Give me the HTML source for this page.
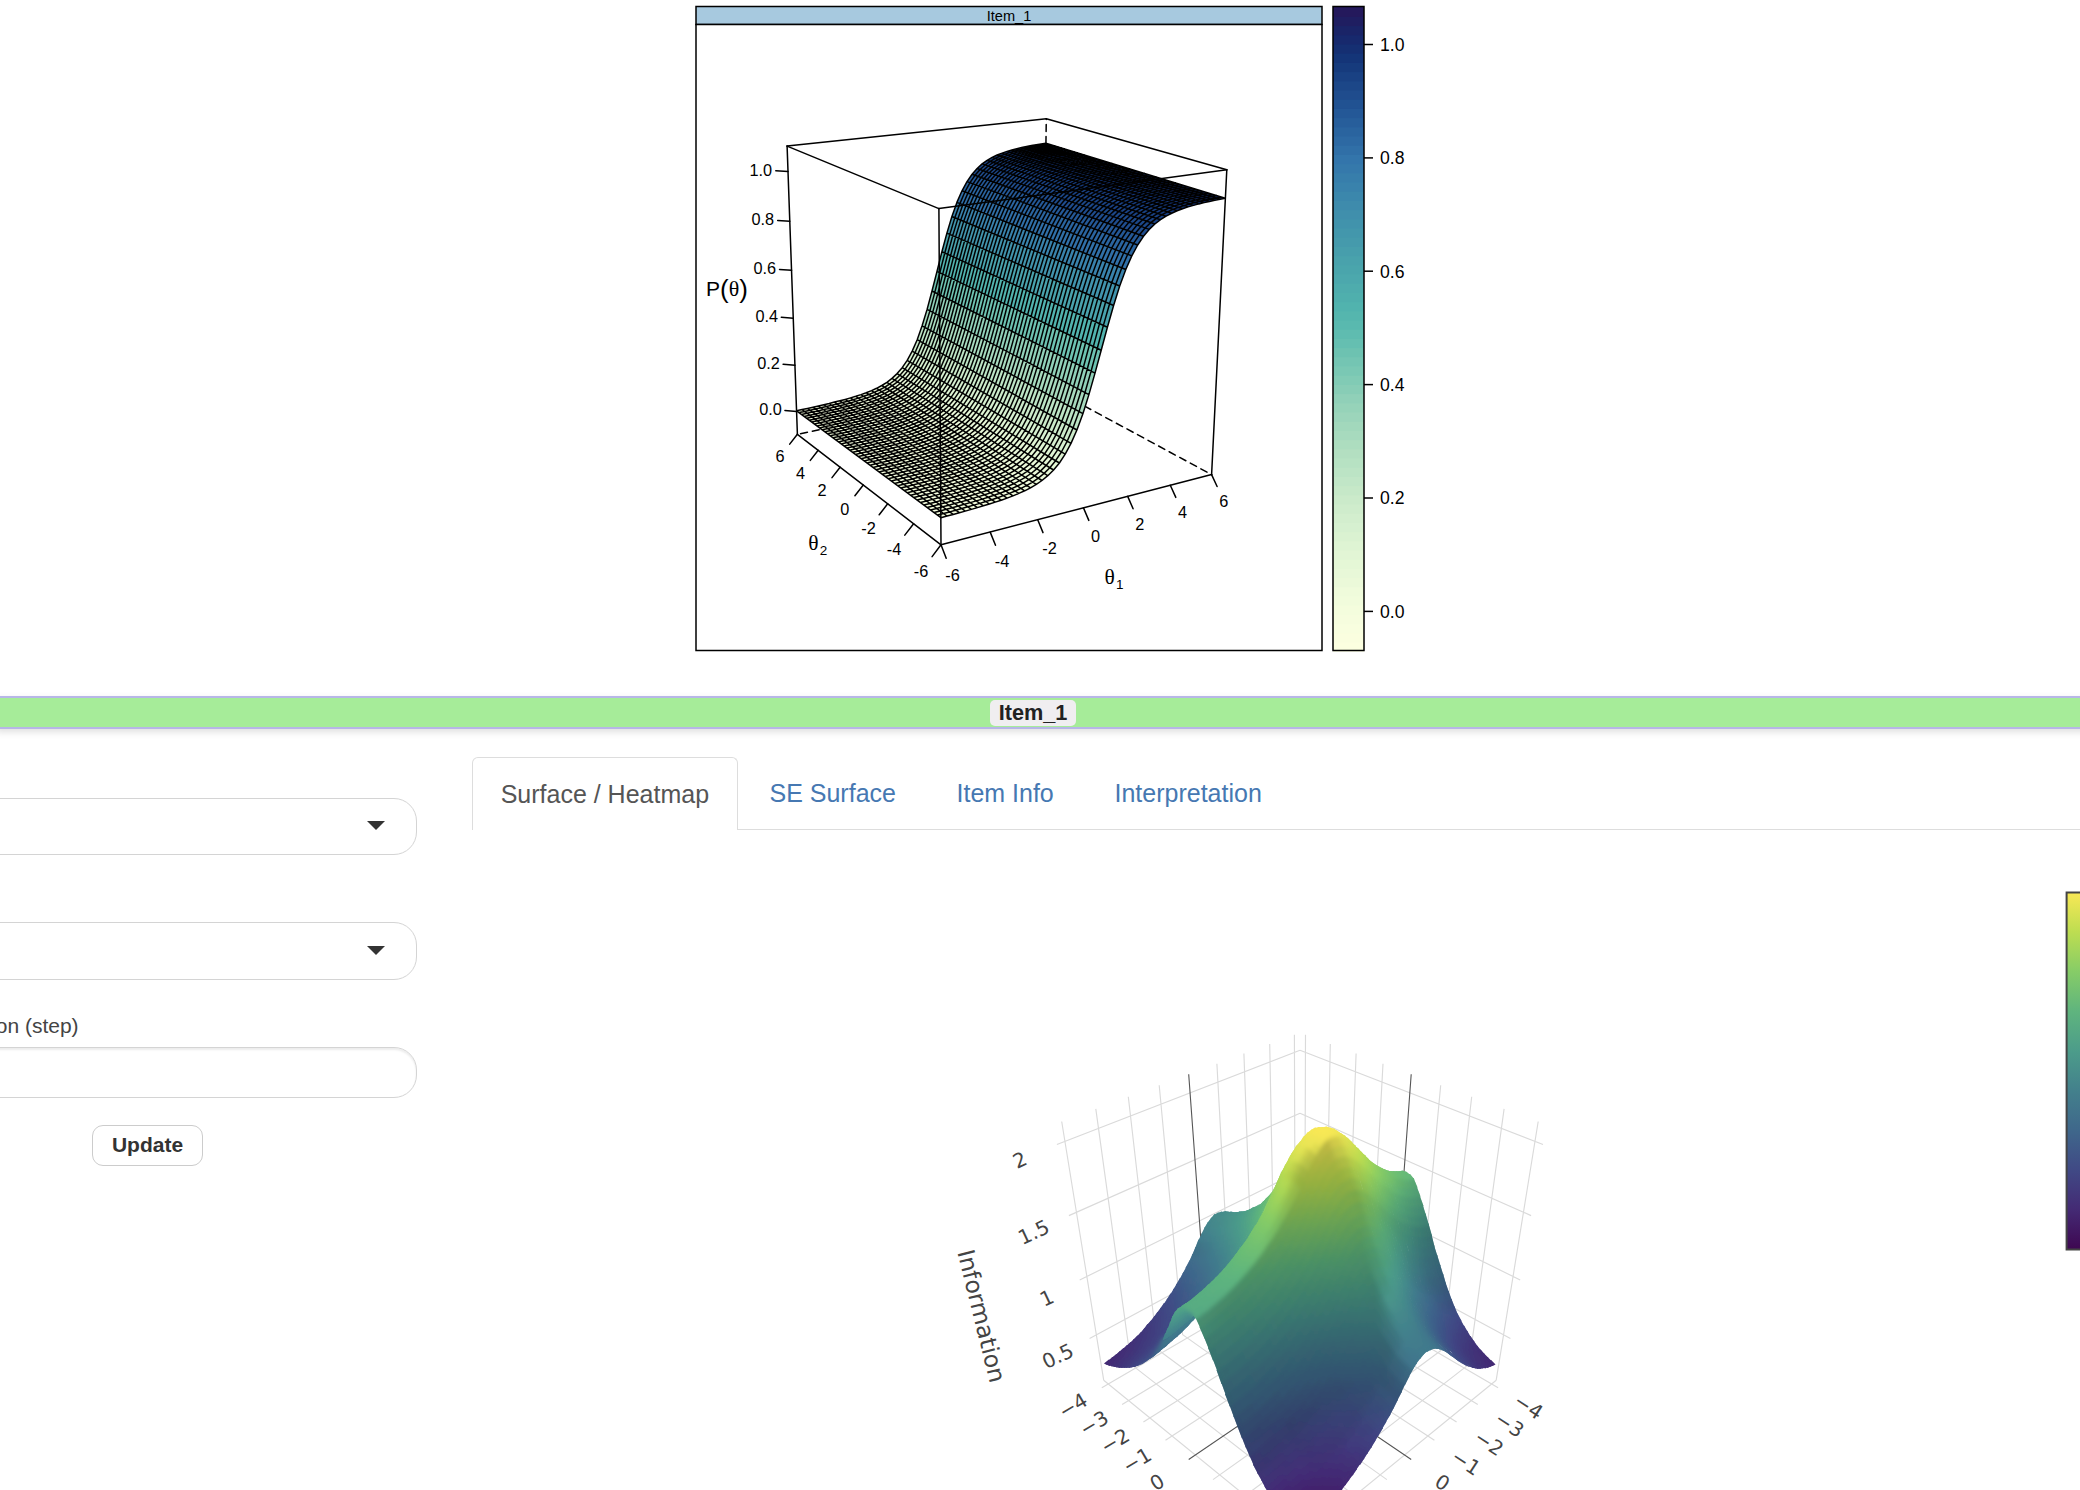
<!DOCTYPE html><html><head><meta charset="utf-8"><title>Item_1</title><style>

html,body{margin:0;padding:0;background:#fff}
body{width:2080px;height:1490px;overflow:hidden;position:relative;font-family:"Liberation Sans",sans-serif;color:#333}
.abs{position:absolute}
#plots{position:absolute;left:0;top:0}
.bar{position:absolute;left:-4px;top:696px;width:2090px;height:29px;background:#a6ec99;border:2px solid #b7b6e7;box-shadow:0 3px 7px rgba(0,0,0,.13)}
.bar span{position:absolute;left:992px;top:2px;width:86px;height:25.7px;line-height:25px;border-radius:5px;background:#f0eef0;font-weight:bold;font-size:21.7px;text-align:center;color:#222}
.sel{position:absolute;left:-40px;width:457.2px;border:1.5px solid #d4d4d4;border-radius:23px;background:#fff;box-sizing:border-box}
.caret{position:absolute;left:367px;width:0;height:0;border-left:9px solid transparent;border-right:9px solid transparent;border-top:9.5px solid #333}
.lbl{position:absolute;font-size:21px;color:#444;white-space:nowrap}
.btn{position:absolute;left:92px;top:1125px;width:111px;height:40.5px;box-sizing:border-box;border:1.5px solid #ccc;border-radius:11px;font-weight:bold;font-size:21px;text-align:center;line-height:38px;color:#333;background:#fff}
.tabline{position:absolute;left:472px;top:828.5px;width:1700px;height:1.5px;background:#ddd}
.tab{position:absolute;top:757px;height:73px;box-sizing:border-box;font-size:25px;line-height:72px;white-space:nowrap}
.tab.act{left:472px;width:265.7px;border:1.5px solid #ddd;border-bottom:none;border-radius:6px 6px 0 0;background:#fff;color:#555;text-align:center}
.tab.lnk{color:#4678b2}

</style></head><body>
<svg id="plots" width="2080" height="1490" viewBox="0 0 2080 1490">
<rect x="696" y="6.5" width="626" height="18" fill="#a7c9df" stroke="#000" stroke-width="1.5"/>
<rect x="696" y="24.5" width="626" height="626" fill="#fff" stroke="#000" stroke-width="1.5"/>
<text x="1009" y="20.8" font-size="14.6" text-anchor="middle" font-family="Liberation Sans, sans-serif" fill="#000">Item_1</text>
<rect x="1333" y="641.30" width="31" height="10.40" fill="#fcffe0"/>
<rect x="1333" y="632.10" width="31" height="10.40" fill="#fafedf"/>
<rect x="1333" y="622.90" width="31" height="10.40" fill="#f8fedf"/>
<rect x="1333" y="613.70" width="31" height="10.40" fill="#f6fdde"/>
<rect x="1333" y="604.50" width="31" height="10.40" fill="#f4fddd"/>
<rect x="1333" y="595.30" width="31" height="10.40" fill="#f1fcdc"/>
<rect x="1333" y="586.10" width="31" height="10.40" fill="#effbdb"/>
<rect x="1333" y="576.90" width="31" height="10.40" fill="#ebf9d9"/>
<rect x="1333" y="567.70" width="31" height="10.40" fill="#e8f8d8"/>
<rect x="1333" y="558.50" width="31" height="10.40" fill="#e5f7d6"/>
<rect x="1333" y="549.30" width="31" height="10.40" fill="#e2f5d5"/>
<rect x="1333" y="540.10" width="31" height="10.40" fill="#def4d3"/>
<rect x="1333" y="530.90" width="31" height="10.40" fill="#daf2d1"/>
<rect x="1333" y="521.70" width="31" height="10.40" fill="#d6f0d0"/>
<rect x="1333" y="512.50" width="31" height="10.40" fill="#d3eece"/>
<rect x="1333" y="503.30" width="31" height="10.40" fill="#cfeccc"/>
<rect x="1333" y="494.10" width="31" height="10.40" fill="#cbeaca"/>
<rect x="1333" y="484.90" width="31" height="10.40" fill="#c6e8c8"/>
<rect x="1333" y="475.70" width="31" height="10.40" fill="#c1e6c7"/>
<rect x="1333" y="466.50" width="31" height="10.40" fill="#bce4c5"/>
<rect x="1333" y="457.30" width="31" height="10.40" fill="#b7e2c3"/>
<rect x="1333" y="448.10" width="31" height="10.40" fill="#b3dfc1"/>
<rect x="1333" y="438.90" width="31" height="10.40" fill="#adddbf"/>
<rect x="1333" y="429.70" width="31" height="10.40" fill="#a7dabe"/>
<rect x="1333" y="420.50" width="31" height="10.40" fill="#a2d8bc"/>
<rect x="1333" y="411.30" width="31" height="10.40" fill="#9cd5bb"/>
<rect x="1333" y="402.10" width="31" height="10.40" fill="#96d3b9"/>
<rect x="1333" y="392.90" width="31" height="10.40" fill="#90d0b8"/>
<rect x="1333" y="383.70" width="31" height="10.40" fill="#88cdb6"/>
<rect x="1333" y="374.50" width="31" height="10.40" fill="#81cbb5"/>
<rect x="1333" y="365.30" width="31" height="10.40" fill="#7ac8b4"/>
<rect x="1333" y="356.10" width="31" height="10.40" fill="#74c5b3"/>
<rect x="1333" y="346.90" width="31" height="10.40" fill="#6dc2b1"/>
<rect x="1333" y="337.70" width="31" height="10.40" fill="#65bfb1"/>
<rect x="1333" y="328.50" width="31" height="10.40" fill="#5fbcb0"/>
<rect x="1333" y="319.30" width="31" height="10.40" fill="#59b9af"/>
<rect x="1333" y="310.10" width="31" height="10.40" fill="#55b6ae"/>
<rect x="1333" y="300.90" width="31" height="10.40" fill="#51b3ae"/>
<rect x="1333" y="291.70" width="31" height="10.40" fill="#4fafad"/>
<rect x="1333" y="282.50" width="31" height="10.40" fill="#4eacad"/>
<rect x="1333" y="273.30" width="31" height="10.40" fill="#4ca8ad"/>
<rect x="1333" y="264.10" width="31" height="10.40" fill="#4aa5ac"/>
<rect x="1333" y="254.90" width="31" height="10.40" fill="#49a2ac"/>
<rect x="1333" y="245.70" width="31" height="10.40" fill="#479eac"/>
<rect x="1333" y="236.50" width="31" height="10.40" fill="#459aac"/>
<rect x="1333" y="227.30" width="31" height="10.40" fill="#4397ac"/>
<rect x="1333" y="218.10" width="31" height="10.40" fill="#4193ac"/>
<rect x="1333" y="208.90" width="31" height="10.40" fill="#408fac"/>
<rect x="1333" y="199.70" width="31" height="10.40" fill="#3e8bac"/>
<rect x="1333" y="190.50" width="31" height="10.40" fill="#3b87ac"/>
<rect x="1333" y="181.30" width="31" height="10.40" fill="#3982ac"/>
<rect x="1333" y="172.10" width="31" height="10.40" fill="#377eab"/>
<rect x="1333" y="162.90" width="31" height="10.40" fill="#3579ab"/>
<rect x="1333" y="153.70" width="31" height="10.40" fill="#3375ab"/>
<rect x="1333" y="144.50" width="31" height="10.40" fill="#306fa7"/>
<rect x="1333" y="135.30" width="31" height="10.40" fill="#2d69a3"/>
<rect x="1333" y="126.10" width="31" height="10.40" fill="#2a649f"/>
<rect x="1333" y="116.90" width="31" height="10.40" fill="#275e9b"/>
<rect x="1333" y="107.70" width="31" height="10.40" fill="#245897"/>
<rect x="1333" y="98.50" width="31" height="10.40" fill="#215292"/>
<rect x="1333" y="89.30" width="31" height="10.40" fill="#1f4c8d"/>
<rect x="1333" y="80.10" width="31" height="10.40" fill="#1c4788"/>
<rect x="1333" y="70.90" width="31" height="10.40" fill="#194183"/>
<rect x="1333" y="61.70" width="31" height="10.40" fill="#163b7d"/>
<rect x="1333" y="52.50" width="31" height="10.40" fill="#143578"/>
<rect x="1333" y="43.30" width="31" height="10.40" fill="#152f72"/>
<rect x="1333" y="34.10" width="31" height="10.40" fill="#17296d"/>
<rect x="1333" y="24.90" width="31" height="10.40" fill="#1a2467"/>
<rect x="1333" y="15.70" width="31" height="10.40" fill="#1f1e61"/>
<rect x="1333" y="6.50" width="31" height="10.40" fill="#24195c"/>
<rect x="1333" y="6.5" width="31" height="644" fill="none" stroke="#000" stroke-width="1.5"/>
<path d="M1364 611.4H1373" stroke="#000" stroke-width="1.5"/>
<text x="1380" y="617.7" font-size="17.6" font-family="Liberation Sans, sans-serif" fill="#000">0.0</text>
<path d="M1364 498.0H1373" stroke="#000" stroke-width="1.5"/>
<text x="1380" y="504.3" font-size="17.6" font-family="Liberation Sans, sans-serif" fill="#000">0.2</text>
<path d="M1364 384.6H1373" stroke="#000" stroke-width="1.5"/>
<text x="1380" y="390.9" font-size="17.6" font-family="Liberation Sans, sans-serif" fill="#000">0.4</text>
<path d="M1364 271.2H1373" stroke="#000" stroke-width="1.5"/>
<text x="1380" y="277.5" font-size="17.6" font-family="Liberation Sans, sans-serif" fill="#000">0.6</text>
<path d="M1364 157.9H1373" stroke="#000" stroke-width="1.5"/>
<text x="1380" y="164.2" font-size="17.6" font-family="Liberation Sans, sans-serif" fill="#000">0.8</text>
<path d="M1364 44.5H1373" stroke="#000" stroke-width="1.5"/>
<text x="1380" y="50.8" font-size="17.6" font-family="Liberation Sans, sans-serif" fill="#000">1.0</text>
<g stroke="#000" stroke-width="1.5" fill="none" stroke-linecap="round">
<path d="M1042.4 383.4L1046.3 118.7" stroke-dasharray="7 5"/>
<path d="M1042.4 383.4L797.4 434.3" stroke-dasharray="7 5"/>
<path d="M1042.4 383.4L1211.6 474.6" stroke-dasharray="7 5"/>
<path d="M1046.3 118.7L787.1 146.1"/>
<path d="M1046.3 118.7L1226.8 169.8"/>
<path d="M797.4 434.3L787.1 146.1"/>
</g>
<g stroke="none">
<path d="M940.9 517.7L947.0 516.0L802.1 409.6L796.6 410.8z" fill="#f4fddd"/>
<path d="M947.0 516.0L953.2 514.4L807.5 408.4L802.1 409.6z" fill="#f4fddd"/>
<path d="M953.2 514.4L959.3 512.7L813.0 407.2L807.5 408.4z" fill="#f4fddd"/>
<path d="M959.3 512.7L965.3 511.1L818.4 406.0L813.0 407.2z" fill="#f4fddd"/>
<path d="M965.3 511.1L971.4 509.4L823.8 404.7L818.4 406.0z" fill="#f4fddd"/>
<path d="M971.4 509.4L977.4 507.6L829.2 403.5L823.8 404.7z" fill="#f4fddd"/>
<path d="M977.4 507.6L983.4 505.8L834.5 402.1L829.2 403.5z" fill="#f4fddd"/>
<path d="M983.4 505.8L989.4 504.0L839.9 400.8L834.5 402.1z" fill="#f4fddd"/>
<path d="M989.4 504.0L995.3 502.1L845.2 399.4L839.9 400.8z" fill="#f4fddd"/>
<path d="M995.3 502.1L1001.2 500.2L850.5 397.9L845.2 399.4z" fill="#f1fcdc"/>
<path d="M1001.2 500.2L1007.1 498.1L855.8 396.3L850.5 397.9z" fill="#f1fcdc"/>
<path d="M1007.1 498.1L1013.0 495.9L861.0 394.6L855.8 396.3z" fill="#f1fcdc"/>
<path d="M1013.0 495.9L1018.8 493.4L866.2 392.7L861.0 394.6z" fill="#f1fcdc"/>
<path d="M1018.8 493.4L1024.7 490.8L871.5 390.6L866.2 392.7z" fill="#f1fcdc"/>
<path d="M1024.7 490.8L1030.5 487.8L876.6 388.3L871.5 390.6z" fill="#effbdb"/>
<path d="M1030.5 487.8L1036.3 484.4L881.8 385.5L876.6 388.3z" fill="#effbdb"/>
<path d="M1036.3 484.4L1042.0 480.5L886.9 382.3L881.8 385.5z" fill="#ebf9d9"/>
<path d="M1042.0 480.5L1047.8 475.7L892.0 378.4L886.9 382.3z" fill="#ebf9d9"/>
<path d="M1047.8 475.7L1053.6 470.0L897.1 373.6L892.0 378.4z" fill="#e8f8d8"/>
<path d="M1053.6 470.0L1059.4 463.0L902.2 367.7L897.1 373.6z" fill="#e5f7d6"/>
<path d="M1059.4 463.0L1065.2 454.2L907.2 360.4L902.2 367.7z" fill="#def4d3"/>
<path d="M1065.2 454.2L1071.0 443.4L912.2 351.1L907.2 360.4z" fill="#d6f0d0"/>
<path d="M1071.0 443.4L1076.9 430.0L917.2 339.7L912.2 351.1z" fill="#cbeaca"/>
<path d="M1076.9 430.0L1082.9 413.7L922.1 325.8L917.2 339.7z" fill="#bce4c5"/>
<path d="M1082.9 413.7L1088.9 394.6L927.1 309.4L922.1 325.8z" fill="#a7dabe"/>
<path d="M1088.9 394.6L1095.0 373.1L932.0 291.0L927.1 309.4z" fill="#90d0b8"/>
<path d="M1095.0 373.1L1101.2 350.2L937.0 271.4L932.0 291.0z" fill="#6dc2b1"/>
<path d="M1101.2 350.2L1107.4 327.2L941.9 251.7L937.0 271.4z" fill="#51b3ae"/>
<path d="M1107.4 327.2L1113.6 305.5L946.9 233.1L941.9 251.7z" fill="#49a2ac"/>
<path d="M1113.6 305.5L1119.7 286.0L951.9 216.5L946.9 233.1z" fill="#4193ac"/>
<path d="M1119.7 286.0L1125.8 269.5L956.9 202.4L951.9 216.5z" fill="#3982ac"/>
<path d="M1125.8 269.5L1131.8 255.9L962.0 190.8L956.9 202.4z" fill="#306fa7"/>
<path d="M1131.8 255.9L1137.7 245.0L967.0 181.6L962.0 190.8z" fill="#2a649f"/>
<path d="M1137.7 245.0L1143.5 236.3L972.1 174.2L967.0 181.6z" fill="#245897"/>
<path d="M1143.5 236.3L1149.2 229.4L977.1 168.5L972.1 174.2z" fill="#1f4c8d"/>
<path d="M1149.2 229.4L1154.9 224.0L982.1 163.9L977.1 168.5z" fill="#1c4788"/>
<path d="M1154.9 224.0L1160.5 219.7L987.1 160.3L982.1 163.9z" fill="#194183"/>
<path d="M1160.5 219.7L1166.1 216.2L992.1 157.4L987.1 160.3z" fill="#194183"/>
<path d="M1166.1 216.2L1171.7 213.3L997.1 155.0L992.1 157.4z" fill="#163b7d"/>
<path d="M1171.7 213.3L1177.2 210.8L1002.1 153.1L997.1 155.0z" fill="#163b7d"/>
<path d="M1177.2 210.8L1182.6 208.7L1007.0 151.4L1002.1 153.1z" fill="#143578"/>
<path d="M1182.6 208.7L1188.1 206.9L1011.9 150.0L1007.0 151.4z" fill="#143578"/>
<path d="M1188.1 206.9L1193.5 205.4L1016.8 148.7L1011.9 150.0z" fill="#143578"/>
<path d="M1193.5 205.4L1198.9 203.9L1021.7 147.6L1016.8 148.7z" fill="#143578"/>
<path d="M1198.9 203.9L1204.2 202.6L1026.6 146.6L1021.7 147.6z" fill="#143578"/>
<path d="M1204.2 202.6L1209.5 201.4L1031.5 145.6L1026.6 146.6z" fill="#152f72"/>
<path d="M1209.5 201.4L1214.8 200.3L1036.3 144.8L1031.5 145.6z" fill="#152f72"/>
<path d="M1214.8 200.3L1220.1 199.2L1041.1 144.0L1036.3 144.8z" fill="#152f72"/>
<path d="M1220.1 199.2L1225.3 198.2L1045.9 143.2L1041.1 144.0z" fill="#152f72"/>
</g>
<path d="M940.9 517.7L796.6 410.8M947.0 516.0L802.1 409.6M953.2 514.4L807.5 408.4M959.3 512.7L813.0 407.2M965.3 511.1L818.4 406.0M971.4 509.4L823.8 404.7M977.4 507.6L829.2 403.5M983.4 505.8L834.5 402.1M989.4 504.0L839.9 400.8M995.3 502.1L845.2 399.4M1001.2 500.2L850.5 397.9M1007.1 498.1L855.8 396.3M1013.0 495.9L861.0 394.6M1018.8 493.4L866.2 392.7M1024.7 490.8L871.5 390.6M1030.5 487.8L876.6 388.3M1036.3 484.4L881.8 385.5M1042.0 480.5L886.9 382.3M1047.8 475.7L892.0 378.4M1053.6 470.0L897.1 373.6M1059.4 463.0L902.2 367.7M1065.2 454.2L907.2 360.4M1071.0 443.4L912.2 351.1M1076.9 430.0L917.2 339.7M1082.9 413.7L922.1 325.8M1088.9 394.6L927.1 309.4M1095.0 373.1L932.0 291.0M1101.2 350.2L937.0 271.4M1107.4 327.2L941.9 251.7M1113.6 305.5L946.9 233.1M1119.7 286.0L951.9 216.5M1125.8 269.5L956.9 202.4M1131.8 255.9L962.0 190.8M1137.7 245.0L967.0 181.6M1143.5 236.3L972.1 174.2M1149.2 229.4L977.1 168.5M1154.9 224.0L982.1 163.9M1160.5 219.7L987.1 160.3M1166.1 216.2L992.1 157.4M1171.7 213.3L997.1 155.0M1177.2 210.8L1002.1 153.1M1182.6 208.7L1007.0 151.4M1188.1 206.9L1011.9 150.0M1193.5 205.4L1016.8 148.7M1198.9 203.9L1021.7 147.6M1204.2 202.6L1026.6 146.6M1209.5 201.4L1031.5 145.6M1214.8 200.3L1036.3 144.8M1220.1 199.2L1041.1 144.0M1225.3 198.2L1045.9 143.2M940.9 517.7L947.0 516.0L953.2 514.4L959.3 512.7L965.3 511.1L971.4 509.4L977.4 507.6L983.4 505.8L989.4 504.0L995.3 502.1L1001.2 500.2L1007.1 498.1L1013.0 495.9L1018.8 493.4L1024.7 490.8L1030.5 487.8L1036.3 484.4L1042.0 480.5L1047.8 475.7L1053.6 470.0L1059.4 463.0L1065.2 454.2L1071.0 443.4L1076.9 430.0L1082.9 413.7L1088.9 394.6L1095.0 373.1L1101.2 350.2L1107.4 327.2L1113.6 305.5L1119.7 286.0L1125.8 269.5L1131.8 255.9L1137.7 245.0L1143.5 236.3L1149.2 229.4L1154.9 224.0L1160.5 219.7L1166.1 216.2L1171.7 213.3L1177.2 210.8L1182.6 208.7L1188.1 206.9L1193.5 205.4L1198.9 203.9L1204.2 202.6L1209.5 201.4L1214.8 200.3L1220.1 199.2L1225.3 198.2M937.4 515.1L943.5 513.5L949.7 511.9L955.7 510.2L961.8 508.5L967.8 506.8L973.8 505.1L979.8 503.4L985.8 501.5L991.7 499.7L997.6 497.7L1003.5 495.6L1009.3 493.4L1015.2 491.0L1021.0 488.4L1026.8 485.4L1032.6 482.1L1038.3 478.1L1044.1 473.4L1049.8 467.7L1055.6 460.7L1061.4 452.0L1067.2 441.2L1073.1 427.8L1079.0 411.6L1085.0 392.5L1091.1 371.1L1097.3 348.3L1103.4 325.4L1109.6 303.7L1115.7 284.4L1121.7 267.9L1127.7 254.3L1133.6 243.4L1139.4 234.8L1145.1 228.0L1150.8 222.6L1156.4 218.3L1162.0 214.7L1167.5 211.9L1173.0 209.4L1178.4 207.4L1183.9 205.6L1189.3 204.0L1194.6 202.6L1200.0 201.3L1205.3 200.1L1210.6 199.0L1215.8 197.9L1221.1 196.9M934.0 512.6L940.1 511.0L946.2 509.3L952.3 507.7L958.3 506.0L964.3 504.3L970.3 502.6L976.3 500.9L982.2 499.1L988.1 497.2L994.0 495.3L999.9 493.2L1005.7 491.0L1011.6 488.6L1017.4 486.0L1023.1 483.1L1028.9 479.7L1034.7 475.8L1040.4 471.1L1046.1 465.4L1051.9 458.4L1057.6 449.8L1063.4 439.0L1069.3 425.7L1075.2 409.5L1081.2 390.5L1087.2 369.2L1093.4 346.4L1099.5 323.6L1105.6 302.0L1111.7 282.7L1117.7 266.3L1123.7 252.8L1129.5 241.9L1135.3 233.3L1141.0 226.5L1146.7 221.1L1152.3 216.8L1157.8 213.4L1163.4 210.5L1168.8 208.1L1174.3 206.0L1179.7 204.2L1185.1 202.7L1190.4 201.2L1195.8 200.0L1201.1 198.8L1206.3 197.7L1211.6 196.6L1216.8 195.6M930.5 510.0L936.6 508.4L942.7 506.8L948.8 505.2L954.8 503.5L960.8 501.9L966.8 500.2L972.8 498.4L978.7 496.6L984.6 494.8L990.5 492.9L996.3 490.8L1002.1 488.6L1008.0 486.3L1013.7 483.7L1019.5 480.7L1025.3 477.4L1031.0 473.5L1036.7 468.8L1042.4 463.2L1048.2 456.2L1053.9 447.6L1059.7 436.8L1065.5 423.5L1071.4 407.4L1077.4 388.5L1083.4 367.2L1089.5 344.6L1095.6 321.8L1101.7 300.3L1107.7 281.1L1113.7 264.7L1119.7 251.2L1125.5 240.4L1131.3 231.9L1137.0 225.1L1142.6 219.7L1148.2 215.4L1153.7 212.0L1159.2 209.1L1164.7 206.7L1170.1 204.7L1175.5 202.9L1180.9 201.3L1186.3 199.9L1191.6 198.6L1196.9 197.5L1202.1 196.4L1207.4 195.3L1212.6 194.3M927.1 507.5L933.2 505.9L939.3 504.3L945.4 502.7L951.4 501.1L957.4 499.4L963.3 497.7L969.3 496.0L975.2 494.2L981.1 492.4L986.9 490.5L992.8 488.4L998.6 486.3L1004.4 483.9L1010.2 481.3L1015.9 478.4L1021.6 475.1L1027.4 471.2L1033.1 466.5L1038.8 460.9L1044.5 454.0L1050.2 445.4L1056.0 434.6L1061.8 421.4L1067.7 405.4L1073.6 386.5L1079.6 365.3L1085.6 342.7L1091.7 320.0L1097.8 298.6L1103.8 279.5L1109.8 263.1L1115.7 249.7L1121.5 239.0L1127.2 230.4L1132.9 223.7L1138.6 218.3L1144.1 214.1L1149.7 210.6L1155.2 207.7L1160.6 205.4L1166.0 203.3L1171.4 201.6L1176.8 200.0L1182.1 198.6L1187.4 197.3L1192.7 196.2L1198.0 195.1L1203.2 194.0L1208.4 193.0M923.8 505.0L929.9 503.4L935.9 501.9L941.9 500.2L947.9 498.6L953.9 497.0L959.9 495.3L965.8 493.6L971.7 491.8L977.6 490.0L983.4 488.1L989.2 486.1L995.1 483.9L1000.8 481.6L1006.6 479.0L1012.3 476.1L1018.1 472.8L1023.8 468.9L1029.5 464.3L1035.2 458.7L1040.9 451.8L1046.6 443.2L1052.3 432.5L1058.1 419.3L1063.9 403.3L1069.8 384.5L1075.8 363.4L1081.8 340.9L1087.9 318.3L1093.9 296.9L1099.9 277.8L1105.9 261.6L1111.7 248.2L1117.5 237.5L1123.3 229.0L1128.9 222.2L1134.5 216.9L1140.1 212.7L1145.6 209.2L1151.1 206.4L1156.5 204.0L1162.0 202.0L1167.3 200.2L1172.7 198.7L1178.0 197.3L1183.3 196.0L1188.6 194.9L1193.8 193.8L1199.0 192.7L1204.2 191.8M920.4 502.6L926.5 501.0L932.5 499.4L938.6 497.8L944.5 496.2L950.5 494.6L956.4 492.9L962.4 491.2L968.2 489.4L974.1 487.6L979.9 485.7L985.8 483.7L991.5 481.6L997.3 479.2L1003.1 476.7L1008.8 473.8L1014.5 470.5L1020.2 466.6L1025.9 462.0L1031.5 456.4L1037.2 449.6L1042.9 441.0L1048.6 430.4L1054.4 417.2L1060.2 401.3L1066.1 382.6L1072.0 361.5L1078.0 339.1L1084.0 316.5L1090.1 295.2L1096.0 276.2L1102.0 260.0L1107.8 246.7L1113.6 236.0L1119.3 227.5L1124.9 220.8L1130.5 215.5L1136.1 211.3L1141.6 207.9L1147.1 205.0L1152.5 202.7L1157.9 200.7L1163.3 198.9L1168.6 197.4L1173.9 196.0L1179.2 194.7L1184.5 193.6L1189.7 192.5L1194.9 191.5L1200.1 190.5M917.1 500.1L923.2 498.5L929.2 497.0L935.2 495.4L941.2 493.8L947.1 492.2L953.0 490.5L958.9 488.8L964.8 487.1L970.7 485.3L976.5 483.4L982.3 481.4L988.1 479.2L993.8 476.9L999.5 474.4L1005.3 471.5L1010.9 468.2L1016.6 464.4L1022.3 459.8L1028.0 454.2L1033.6 447.4L1039.3 438.9L1045.0 428.3L1050.7 415.2L1056.5 399.3L1062.4 380.6L1068.3 359.6L1074.3 337.3L1080.3 314.8L1086.2 293.6L1092.2 274.6L1098.1 258.5L1103.9 245.2L1109.7 234.6L1115.4 226.1L1121.0 219.4L1126.6 214.2L1132.1 209.9L1137.6 206.5L1143.1 203.7L1148.5 201.4L1153.9 199.4L1159.2 197.6L1164.6 196.1L1169.9 194.7L1175.1 193.5L1180.4 192.3L1185.6 191.2L1190.8 190.2L1196.0 189.2M913.8 497.6L919.9 496.1L925.9 494.5L931.9 493.0L937.8 491.4L943.8 489.8L949.7 488.1L955.5 486.4L961.4 484.7L967.2 482.9L973.0 481.0L978.8 479.1L984.6 476.9L990.3 474.6L996.1 472.1L1001.7 469.2L1007.4 466.0L1013.1 462.1L1018.7 457.6L1024.4 452.0L1030.0 445.2L1035.7 436.7L1041.4 426.2L1047.1 413.1L1052.9 397.3L1058.7 378.7L1064.6 357.8L1070.5 335.5L1076.5 313.1L1082.4 291.9L1088.4 273.1L1094.2 257.0L1100.0 243.7L1105.8 233.1L1111.5 224.7L1117.1 218.1L1122.6 212.8L1128.2 208.6L1133.7 205.2L1139.1 202.4L1144.5 200.0L1149.9 198.1L1155.2 196.3L1160.5 194.8L1165.8 193.4L1171.1 192.2L1176.4 191.0L1181.6 190.0L1186.8 189.0L1191.9 188.0M910.6 495.2L916.6 493.7L922.6 492.1L928.5 490.6L934.5 489.0L940.4 487.4L946.3 485.8L952.2 484.1L958.0 482.4L963.8 480.6L969.6 478.7L975.4 476.8L981.2 474.6L986.9 472.4L992.6 469.8L998.3 467.0L1003.9 463.7L1009.6 459.9L1015.2 455.4L1020.9 449.9L1026.5 443.1L1032.1 434.6L1037.8 424.1L1043.5 411.1L1049.2 395.3L1055.1 376.8L1060.9 355.9L1066.8 333.7L1072.7 311.4L1078.7 290.3L1084.6 271.5L1090.4 255.4L1096.2 242.3L1101.9 231.7L1107.6 223.3L1113.2 216.7L1118.7 211.4L1124.3 207.2L1129.7 203.9L1135.2 201.1L1140.5 198.7L1145.9 196.8L1151.3 195.0L1156.6 193.5L1161.8 192.2L1167.1 190.9L1172.3 189.8L1177.5 188.7L1182.7 187.7L1187.9 186.8M907.3 492.8L913.3 491.3L919.3 489.8L925.3 488.2L931.2 486.6L937.1 485.0L943.0 483.4L948.8 481.8L954.7 480.1L960.5 478.3L966.2 476.4L972.0 474.5L977.7 472.4L983.5 470.1L989.1 467.6L994.8 464.7L1000.5 461.5L1006.1 457.7L1011.7 453.2L1017.4 447.7L1023.0 440.9L1028.6 432.5L1034.2 422.0L1039.9 409.1L1045.6 393.3L1051.4 374.9L1057.3 354.1L1063.1 331.9L1069.0 309.7L1074.9 288.7L1080.8 269.9L1086.6 253.9L1092.4 240.8L1098.1 230.3L1103.7 221.9L1109.3 215.3L1114.9 210.1L1120.4 205.9L1125.8 202.5L1131.2 199.8L1136.6 197.4L1142.0 195.5L1147.3 193.8L1152.6 192.2L1157.9 190.9L1163.1 189.7L1168.3 188.5L1173.5 187.5L1178.7 186.5L1183.9 185.5M904.1 490.4L910.1 488.9L916.0 487.4L922.0 485.8L927.9 484.3L933.8 482.7L939.7 481.1L945.5 479.4L951.3 477.8L957.1 476.0L962.9 474.1L968.6 472.2L974.4 470.1L980.1 467.8L985.7 465.3L991.4 462.5L997.0 459.3L1002.7 455.5L1008.3 451.0L1013.9 445.6L1019.5 438.8L1025.1 430.4L1030.7 420.0L1036.4 407.0L1042.1 391.4L1047.8 373.0L1053.6 352.2L1059.5 330.2L1065.3 308.0L1071.2 287.1L1077.1 268.4L1082.9 252.4L1088.6 239.4L1094.3 228.8L1099.9 220.5L1105.5 213.9L1111.0 208.7L1116.5 204.6L1121.9 201.2L1127.3 198.5L1132.7 196.2L1138.1 194.2L1143.4 192.5L1148.7 191.0L1153.9 189.6L1159.2 188.4L1164.4 187.3L1169.6 186.2L1174.7 185.2L1179.9 184.3M900.9 488.1L906.9 486.6L912.8 485.0L918.7 483.5L924.6 482.0L930.5 480.4L936.4 478.8L942.2 477.2L948.0 475.5L953.8 473.7L959.5 471.9L965.3 469.9L971.0 467.9L976.7 465.6L982.3 463.1L988.0 460.3L993.6 457.1L999.2 453.4L1004.8 448.9L1010.4 443.4L1016.0 436.7L1021.6 428.3L1027.2 417.9L1032.8 405.0L1038.5 389.4L1044.2 371.1L1050.0 350.4L1055.8 328.4L1061.7 306.3L1067.5 285.5L1073.3 266.8L1079.1 251.0L1084.8 237.9L1090.5 227.4L1096.1 219.1L1101.7 212.6L1107.2 207.4L1112.7 203.3L1118.1 199.9L1123.5 197.2L1128.8 194.9L1134.2 192.9L1139.5 191.2L1144.8 189.7L1150.0 188.4L1155.2 187.2L1160.4 186.0L1165.6 185.0L1170.8 184.0L1175.9 183.1M897.7 485.7L903.7 484.2L909.6 482.7L915.5 481.2L921.4 479.6L927.3 478.1L933.1 476.5L938.9 474.9L944.7 473.2L950.5 471.5L956.2 469.6L961.9 467.7L967.6 465.6L973.3 463.4L979.0 460.9L984.6 458.1L990.2 454.9L995.8 451.2L1001.4 446.7L1007.0 441.3L1012.5 434.6L1018.1 426.3L1023.7 415.9L1029.3 403.1L1035.0 387.5L1040.7 369.2L1046.4 348.6L1052.2 326.7L1058.0 304.7L1063.9 283.9L1069.7 265.3L1075.4 249.5L1081.1 236.5L1086.8 226.0L1092.3 217.8L1097.9 211.3L1103.4 206.1L1108.8 202.0L1114.3 198.6L1119.6 195.9L1125.0 193.6L1130.3 191.7L1135.6 190.0L1140.9 188.5L1146.1 187.1L1151.3 185.9L1156.5 184.8L1161.7 183.8L1166.8 182.8L1172.0 181.9M894.5 483.4L900.5 481.9L906.4 480.4L912.3 478.9L918.2 477.3L924.1 475.8L929.9 474.2L935.7 472.6L941.5 470.9L947.2 469.2L952.9 467.4L958.6 465.5L964.3 463.4L970.0 461.2L975.6 458.7L981.2 456.0L986.8 452.8L992.4 449.1L998.0 444.6L1003.6 439.2L1009.1 432.5L1014.7 424.2L1020.2 413.9L1025.8 401.1L1031.5 385.6L1037.1 367.3L1042.9 346.8L1048.6 325.0L1054.4 303.0L1060.2 282.3L1066.0 263.8L1071.7 248.0L1077.4 235.1L1083.0 224.7L1088.6 216.4L1094.1 209.9L1099.6 204.8L1105.1 200.7L1110.5 197.4L1115.8 194.6L1121.2 192.3L1126.5 190.4L1131.8 188.7L1137.0 187.2L1142.3 185.9L1147.5 184.7L1152.6 183.6L1157.8 182.6L1162.9 181.6L1168.1 180.7M891.4 481.0L897.3 479.6L903.3 478.1L909.1 476.6L915.0 475.1L920.8 473.5L926.7 472.0L932.4 470.4L938.2 468.7L944.0 467.0L949.7 465.2L955.4 463.3L961.0 461.2L966.7 459.0L972.3 456.6L977.9 453.8L983.5 450.6L989.1 446.9L994.6 442.5L1000.2 437.1L1005.7 430.5L1011.2 422.2L1016.8 411.9L1022.4 399.1L1028.0 383.7L1033.6 365.5L1039.3 345.1L1045.1 323.3L1050.8 301.4L1056.6 280.7L1062.3 262.3L1068.1 246.6L1073.7 233.6L1079.3 223.3L1084.9 215.1L1090.4 208.6L1095.9 203.5L1101.3 199.4L1106.7 196.1L1112.0 193.4L1117.4 191.1L1122.7 189.2L1127.9 187.5L1133.2 186.0L1138.4 184.7L1143.6 183.5L1148.8 182.4L1153.9 181.4L1159.1 180.4L1164.2 179.5M888.3 478.7L894.2 477.3L900.1 475.8L906.0 474.3L911.8 472.8L917.7 471.3L923.5 469.7L929.2 468.1L935.0 466.5L940.7 464.8L946.4 463.0L952.1 461.1L957.8 459.1L963.4 456.8L969.0 454.4L974.6 451.7L980.2 448.5L985.7 444.8L991.3 440.4L996.8 435.0L1002.3 428.4L1007.8 420.2L1013.4 409.9L1018.9 397.2L1024.5 381.8L1030.2 363.7L1035.8 343.3L1041.5 321.6L1047.3 299.8L1053.0 279.2L1058.7 260.8L1064.4 245.1L1070.1 232.2L1075.7 221.9L1081.2 213.7L1086.7 207.3L1092.1 202.2L1097.6 198.1L1102.9 194.8L1108.3 192.1L1113.6 189.9L1118.9 187.9L1124.2 186.3L1129.4 184.8L1134.6 183.5L1139.8 182.3L1145.0 181.2L1150.1 180.2L1155.2 179.2L1160.3 178.3M885.2 476.4L891.1 475.0L897.0 473.5L902.9 472.0L908.7 470.6L914.5 469.0L920.3 467.5L926.1 465.9L931.8 464.3L937.5 462.6L943.2 460.8L948.9 458.9L954.5 456.9L960.1 454.7L965.7 452.3L971.3 449.5L976.9 446.4L982.4 442.7L987.9 438.3L993.4 433.0L999.0 426.4L1004.5 418.2L1010.0 407.9L1015.5 395.3L1021.1 379.9L1026.7 361.8L1032.3 341.5L1038.0 319.9L1043.7 298.1L1049.4 277.6L1055.1 259.3L1060.8 243.7L1066.4 230.9L1072.0 220.6L1077.5 212.4L1083.0 206.0L1088.4 200.9L1093.8 196.8L1099.2 193.6L1104.6 190.9L1109.9 188.6L1115.1 186.7L1120.4 185.0L1125.6 183.6L1130.8 182.3L1136.0 181.1L1141.1 180.0L1146.3 179.0L1151.4 178.0L1156.5 177.1M882.1 474.2L888.0 472.7L893.9 471.3L899.8 469.8L905.6 468.3L911.4 466.8L917.1 465.3L922.9 463.7L928.6 462.1L934.3 460.4L940.0 458.6L945.6 456.7L951.3 454.7L956.9 452.5L962.5 450.1L968.0 447.4L973.6 444.3L979.1 440.6L984.6 436.3L990.1 430.9L995.6 424.4L1001.1 416.2L1006.6 406.0L1012.1 393.3L1017.7 378.0L1023.3 360.0L1028.9 339.8L1034.5 318.2L1040.2 296.5L1045.9 276.1L1051.6 257.8L1057.2 242.3L1062.8 229.5L1068.4 219.2L1073.9 211.1L1079.3 204.7L1084.8 199.6L1090.2 195.6L1095.5 192.3L1100.8 189.6L1106.1 187.4L1111.4 185.5L1116.6 183.8L1121.9 182.4L1127.1 181.1L1132.2 179.9L1137.4 178.8L1142.5 177.8L1147.6 176.9L1152.7 176.0M879.1 471.9L885.0 470.5L890.8 469.0L896.7 467.6L902.5 466.1L908.3 464.6L914.0 463.1L919.7 461.5L925.5 459.9L931.1 458.2L936.8 456.5L942.4 454.6L948.1 452.6L953.7 450.4L959.2 448.0L964.8 445.3L970.3 442.2L975.8 438.6L981.3 434.2L986.8 428.9L992.3 422.3L997.8 414.2L1003.3 404.0L1008.8 391.4L1014.3 376.2L1019.8 358.2L1025.4 338.1L1031.1 316.5L1036.7 294.9L1042.4 274.6L1048.0 256.3L1053.7 240.8L1059.2 228.1L1064.8 217.9L1070.3 209.8L1075.7 203.4L1081.1 198.4L1086.5 194.3L1091.8 191.1L1097.2 188.4L1102.4 186.2L1107.7 184.3L1112.9 182.6L1118.1 181.2L1123.3 179.9L1128.5 178.7L1133.6 177.6L1138.7 176.6L1143.8 175.7L1148.9 174.8M876.1 469.7L881.9 468.2L887.8 466.8L893.6 465.4L899.4 463.9L905.2 462.4L910.9 460.9L916.6 459.3L922.3 457.7L928.0 456.1L933.6 454.3L939.3 452.5L944.9 450.5L950.5 448.3L956.0 445.9L961.6 443.2L967.1 440.1L972.6 436.5L978.1 432.2L983.5 426.9L989.0 420.3L994.5 412.2L999.9 402.1L1005.4 389.5L1010.9 374.3L1016.4 356.5L1022.0 336.3L1027.6 314.9L1033.3 293.4L1038.9 273.0L1044.5 254.9L1050.1 239.4L1055.7 226.7L1061.2 216.5L1066.7 208.5L1072.1 202.1L1077.5 197.1L1082.9 193.1L1088.2 189.8L1093.5 187.2L1098.8 185.0L1104.0 183.1L1109.2 181.4L1114.4 180.0L1119.6 178.7L1124.8 177.5L1129.9 176.5L1135.0 175.5L1140.1 174.5L1145.1 173.6M873.1 467.4L878.9 466.0L884.7 464.6L890.6 463.2L896.3 461.7L902.1 460.2L907.8 458.7L913.5 457.2L919.2 455.6L924.9 453.9L930.5 452.2L936.1 450.3L941.7 448.4L947.3 446.2L952.8 443.8L958.4 441.2L963.9 438.1L969.4 434.5L974.8 430.1L980.3 424.9L985.7 418.4L991.2 410.3L996.6 400.2L1002.1 387.7L1007.6 372.5L1013.1 354.7L1018.6 334.6L1024.2 313.2L1029.8 291.8L1035.4 271.5L1041.0 253.4L1046.6 238.0L1052.1 225.4L1057.6 215.2L1063.1 207.2L1068.5 200.9L1073.9 195.8L1079.3 191.8L1084.6 188.6L1089.9 186.0L1095.1 183.8L1100.4 181.9L1105.6 180.3L1110.8 178.8L1115.9 177.5L1121.1 176.4L1126.2 175.3L1131.3 174.3L1136.3 173.4L1141.4 172.5M870.1 465.2L875.9 463.8L881.7 462.4L887.5 461.0L893.3 459.5L899.0 458.1L904.8 456.6L910.4 455.0L916.1 453.4L921.8 451.8L927.4 450.1L933.0 448.2L938.6 446.3L944.1 444.1L949.7 441.8L955.2 439.1L960.7 436.0L966.1 432.4L971.6 428.1L977.0 422.9L982.5 416.4L987.9 408.3L993.3 398.3L998.8 385.8L1004.2 370.7L1009.7 352.9L1015.3 332.9L1020.8 311.6L1026.4 290.2L1032.0 270.0L1037.6 252.0L1043.1 236.6L1048.6 224.0L1054.1 213.9L1059.6 205.9L1065.0 199.6L1070.3 194.6L1075.7 190.6L1081.0 187.4L1086.3 184.8L1091.5 182.6L1096.7 180.7L1101.9 179.1L1107.1 177.7L1112.3 176.4L1117.4 175.2L1122.5 174.2L1127.6 173.2L1132.6 172.2L1137.7 171.4M867.1 463.0L872.9 461.6L878.7 460.2L884.5 458.8L890.3 457.4L896.0 455.9L901.7 454.4L907.4 452.9L913.0 451.3L918.7 449.7L924.3 448.0L929.9 446.1L935.5 444.2L941.0 442.1L946.5 439.7L952.0 437.1L957.5 434.0L963.0 430.4L968.4 426.1L973.8 420.9L979.3 414.4L984.7 406.4L990.1 396.4L995.5 383.9L1000.9 368.9L1006.4 351.2L1011.9 331.2L1017.4 310.0L1023.0 288.7L1028.6 268.5L1034.1 250.6L1039.6 235.3L1045.1 222.7L1050.6 212.6L1056.0 204.6L1061.4 198.3L1066.8 193.4L1072.1 189.4L1077.4 186.2L1082.7 183.6L1087.9 181.4L1093.1 179.5L1098.3 177.9L1103.5 176.5L1108.6 175.2L1113.7 174.1L1118.8 173.0L1123.9 172.0L1129.0 171.1L1134.0 170.2M864.2 460.9L870.0 459.5L875.8 458.1L881.5 456.7L887.3 455.2L893.0 453.8L898.7 452.3L904.4 450.8L910.0 449.2L915.6 447.6L921.2 445.9L926.8 444.1L932.3 442.1L937.9 440.0L943.4 437.7L948.9 435.0L954.3 432.0L959.8 428.4L965.2 424.1L970.6 418.9L976.0 412.5L981.4 404.5L986.8 394.5L992.2 382.1L997.7 367.1L1003.1 349.4L1008.6 329.6L1014.1 308.4L1019.6 287.1L1025.2 267.1L1030.7 249.2L1036.2 233.9L1041.7 221.4L1047.1 211.3L1052.5 203.4L1057.9 197.1L1063.3 192.1L1068.6 188.2L1073.9 185.0L1079.1 182.4L1084.3 180.2L1089.5 178.3L1094.7 176.7L1099.9 175.3L1105.0 174.1L1110.1 172.9L1115.2 171.9L1120.3 170.9L1125.3 170.0L1130.3 169.1M861.2 458.7L867.0 457.3L872.8 455.9L878.6 454.5L884.3 453.1L890.0 451.7L895.7 450.2L901.3 448.7L907.0 447.1L912.6 445.5L918.2 443.8L923.7 442.0L929.3 440.1L934.8 438.0L940.3 435.6L945.8 433.0L951.2 430.0L956.6 426.4L962.1 422.2L967.5 417.0L972.9 410.6L978.2 402.6L983.6 392.6L989.0 380.3L994.4 365.3L999.8 347.7L1005.3 327.9L1010.8 306.8L1016.3 285.6L1021.8 265.6L1027.3 247.7L1032.8 232.5L1038.2 220.1L1043.7 210.0L1049.1 202.1L1054.4 195.9L1059.8 190.9L1065.1 187.0L1070.3 183.8L1075.6 181.2L1080.8 179.0L1086.0 177.2L1091.1 175.6L1096.3 174.2L1101.4 172.9L1106.5 171.8L1111.6 170.7L1116.6 169.8L1121.7 168.9L1126.7 168.0M858.3 456.5L864.1 455.2L869.9 453.8L875.6 452.4L881.3 451.0L887.0 449.5L892.7 448.1L898.3 446.6L904.0 445.0L909.6 443.4L915.1 441.7L920.7 440.0L926.2 438.0L931.7 435.9L937.2 433.6L942.7 431.0L948.1 428.0L953.5 424.4L958.9 420.2L964.3 415.0L969.7 408.6L975.1 400.7L980.4 390.8L985.8 378.5L991.2 363.5L996.6 346.0L1002.0 326.2L1007.4 305.2L1012.9 284.1L1018.4 264.1L1023.9 246.3L1029.4 231.2L1034.8 218.7L1040.2 208.8L1045.6 200.9L1051.0 194.6L1056.3 189.7L1061.6 185.8L1066.8 182.6L1072.1 180.0L1077.3 177.9L1082.4 176.0L1087.6 174.4L1092.7 173.0L1097.8 171.8L1102.9 170.7L1108.0 169.6L1113.0 168.7L1118.1 167.7L1123.1 166.9M855.5 454.4L861.2 453.0L867.0 451.7L872.7 450.3L878.4 448.9L884.1 447.5L889.7 446.0L895.4 444.5L901.0 443.0L906.6 441.4L912.1 439.7L917.7 437.9L923.2 436.0L928.7 433.9L934.1 431.6L939.6 429.0L945.0 426.0L950.4 422.5L955.8 418.3L961.2 413.1L966.5 406.7L971.9 398.8L977.2 388.9L982.6 376.7L987.9 361.8L993.3 344.3L998.7 324.6L1004.2 303.6L1009.6 282.6L1015.1 262.7L1020.5 245.0L1026.0 229.8L1031.4 217.4L1036.8 207.5L1042.2 199.6L1047.5 193.4L1052.8 188.5L1058.1 184.6L1063.3 181.4L1068.6 178.9L1073.8 176.7L1078.9 174.9L1084.1 173.3L1089.2 171.9L1094.3 170.7L1099.4 169.5L1104.4 168.5L1109.5 167.5L1114.5 166.6L1119.5 165.8M852.6 452.3L858.4 450.9L864.1 449.6L869.8 448.2L875.5 446.8L881.1 445.4L886.8 443.9L892.4 442.5L898.0 440.9L903.6 439.3L909.1 437.7L914.6 435.9L920.1 434.0L925.6 431.9L931.1 429.6L936.5 427.0L941.9 424.0L947.3 420.5L952.7 416.3L958.1 411.2L963.4 404.8L968.8 396.9L974.1 387.1L979.4 374.9L984.7 360.0L990.1 342.6L995.5 323.0L1000.9 302.1L1006.3 281.1L1011.8 261.3L1017.2 243.6L1022.6 228.5L1028.0 216.1L1033.4 206.2L1038.8 198.4L1044.1 192.2L1049.4 187.3L1054.6 183.4L1059.9 180.3L1065.1 177.7L1070.3 175.6L1075.4 173.7L1080.6 172.2L1085.7 170.8L1090.8 169.5L1095.8 168.4L1100.9 167.4L1105.9 166.4L1110.9 165.5L1115.9 164.7M849.7 450.2L855.5 448.8L861.2 447.5L866.9 446.1L872.6 444.7L878.2 443.3L883.9 441.9L889.5 440.4L895.0 438.9L900.6 437.3L906.1 435.6L911.7 433.9L917.1 432.0L922.6 429.9L928.1 427.6L933.5 425.1L938.9 422.1L944.3 418.6L949.6 414.4L955.0 409.3L960.3 403.0L965.6 395.1L970.9 385.2L976.3 373.1L981.6 358.3L986.9 340.9L992.3 321.4L997.7 300.5L1003.1 279.6L1008.5 259.8L1013.9 242.2L1019.3 227.2L1024.7 214.9L1030.1 205.0L1035.4 197.2L1040.7 191.0L1046.0 186.1L1051.2 182.3L1056.4 179.1L1061.6 176.6L1066.8 174.4L1072.0 172.6L1077.1 171.0L1082.2 169.7L1087.3 168.4L1092.3 167.3L1097.4 166.3L1102.4 165.3L1107.4 164.4L1112.4 163.6M846.9 448.1L852.7 446.7L858.4 445.4L864.0 444.0L869.7 442.7L875.3 441.3L881.0 439.8L886.5 438.4L892.1 436.9L897.7 435.3L903.2 433.6L908.7 431.9L914.2 430.0L919.6 428.0L925.1 425.7L930.5 423.1L935.9 420.1L941.2 416.7L946.6 412.5L951.9 407.4L957.2 401.1L962.5 393.2L967.8 383.4L973.1 371.3L978.4 356.6L983.7 339.2L989.1 319.7L994.4 299.0L999.8 278.1L1005.2 258.4L1010.6 240.8L1016.0 225.9L1021.4 213.6L1026.7 203.7L1032.0 195.9L1037.3 189.8L1042.6 185.0L1047.8 181.1L1053.0 178.0L1058.2 175.4L1063.4 173.3L1068.5 171.5L1073.6 169.9L1078.7 168.5L1083.8 167.3L1088.8 166.2L1093.9 165.2L1098.9 164.3L1103.9 163.4L1108.8 162.5M844.1 446.0L849.8 444.7L855.5 443.3L861.2 442.0L866.8 440.6L872.5 439.2L878.1 437.8L883.7 436.4L889.2 434.8L894.7 433.3L900.3 431.6L905.7 429.9L911.2 428.0L916.6 426.0L922.1 423.7L927.5 421.2L932.8 418.2L938.2 414.7L943.5 410.6L948.9 405.5L954.2 399.2L959.5 391.4L964.7 381.6L970.0 369.5L975.3 354.9L980.6 337.6L985.9 318.1L991.2 297.4L996.6 276.6L1002.0 257.0L1007.3 239.5L1012.7 224.6L1018.1 212.3L1023.4 202.5L1028.7 194.7L1034.0 188.6L1039.2 183.8L1044.4 179.9L1049.6 176.8L1054.8 174.3L1060.0 172.2L1065.1 170.4L1070.2 168.8L1075.3 167.4L1080.3 166.2L1085.4 165.1L1090.4 164.1L1095.4 163.2L1100.4 162.3L1105.3 161.4M841.3 443.9L847.0 442.6L852.7 441.3L858.4 439.9L864.0 438.6L869.6 437.2L875.2 435.8L880.8 434.3L886.3 432.9L891.8 431.3L897.3 429.7L902.8 427.9L908.3 426.1L913.7 424.0L919.1 421.8L924.5 419.2L929.9 416.3L935.2 412.8L940.5 408.7L945.8 403.6L951.1 397.4L956.4 389.6L961.7 379.9L966.9 367.8L972.2 353.1L977.4 335.9L982.7 316.6L988.0 295.9L993.4 275.2L998.7 255.6L1004.1 238.1L1009.4 223.3L1014.8 211.1L1020.1 201.3L1025.4 193.5L1030.6 187.4L1035.9 182.6L1041.1 178.8L1046.3 175.7L1051.4 173.2L1056.6 171.0L1061.7 169.2L1066.8 167.7L1071.9 166.3L1076.9 165.1L1081.9 164.0L1086.9 163.0L1091.9 162.1L1096.9 161.2L1101.9 160.4M838.6 441.9L844.2 440.6L849.9 439.2L855.6 437.9L861.2 436.6L866.8 435.2L872.4 433.8L877.9 432.4L883.4 430.9L888.9 429.3L894.4 427.7L899.9 426.0L905.3 424.1L910.8 422.1L916.2 419.9L921.5 417.3L926.9 414.4L932.2 411.0L937.5 406.8L942.8 401.8L948.1 395.6L953.3 387.8L958.6 378.1L963.8 366.1L969.1 351.5L974.3 334.3L979.6 315.0L984.9 294.4L990.2 273.7L995.5 254.2L1000.9 236.8L1006.2 222.0L1011.5 209.8L1016.8 200.1L1022.1 192.3L1027.3 186.3L1032.5 181.5L1037.7 177.6L1042.9 174.6L1048.1 172.0L1053.2 169.9L1058.3 168.1L1063.4 166.6L1068.5 165.3L1073.5 164.0L1078.5 163.0L1083.5 162.0L1088.5 161.0L1093.5 160.1L1098.4 159.3M835.8 439.8L841.5 438.5L847.1 437.2L852.8 435.9L858.4 434.6L864.0 433.2L869.5 431.8L875.1 430.4L880.6 428.9L886.1 427.4L891.6 425.7L897.0 424.0L902.4 422.2L907.8 420.2L913.2 417.9L918.6 415.4L923.9 412.5L929.3 409.1L934.5 405.0L939.8 399.9L945.1 393.7L950.3 386.0L955.6 376.3L960.8 364.3L966.0 349.8L971.2 332.7L976.5 313.4L981.7 292.9L987.0 272.3L992.3 252.8L997.6 235.5L1003.0 220.7L1008.3 208.6L1013.5 198.8L1018.8 191.2L1024.0 185.1L1029.2 180.3L1034.4 176.5L1039.6 173.4L1044.7 170.9L1049.9 168.8L1054.9 167.0L1060.0 165.5L1065.1 164.2L1070.1 163.0L1075.1 161.9L1080.1 160.9L1085.1 160.0L1090.0 159.1L1095.0 158.3M833.1 437.8L838.7 436.5L844.4 435.2L850.0 433.9L855.6 432.6L861.2 431.2L866.7 429.8L872.2 428.4L877.7 426.9L883.2 425.4L888.7 423.8L894.1 422.1L899.6 420.3L904.9 418.3L910.3 416.0L915.7 413.5L921.0 410.6L926.3 407.2L931.6 403.1L936.9 398.1L942.1 391.9L947.3 384.2L952.5 374.6L957.7 362.6L962.9 348.1L968.2 331.0L973.4 311.8L978.6 291.4L983.9 270.8L989.2 251.4L994.5 234.1L999.8 219.4L1005.0 207.3L1010.3 197.6L1015.5 190.0L1020.8 183.9L1026.0 179.2L1031.1 175.4L1036.3 172.3L1041.4 169.8L1046.5 167.7L1051.6 166.0L1056.7 164.4L1061.7 163.1L1066.7 161.9L1071.7 160.8L1076.7 159.8L1081.7 158.9L1086.6 158.0L1091.6 157.2M830.3 435.8L836.0 434.5L841.6 433.2L847.2 431.9L852.8 430.6L858.4 429.2L863.9 427.9L869.4 426.4L874.9 425.0L880.4 423.5L885.9 421.9L891.3 420.2L896.7 418.4L902.1 416.4L907.4 414.2L912.8 411.6L918.1 408.8L923.4 405.4L928.6 401.3L933.9 396.3L939.1 390.1L944.3 382.4L949.5 372.8L954.7 360.9L959.9 346.4L965.1 329.4L970.3 310.3L975.5 289.9L980.8 269.4L986.0 250.1L991.3 232.8L996.6 218.2L1001.8 206.1L1007.1 196.4L1012.3 188.8L1017.5 182.8L1022.7 178.0L1027.9 174.3L1033.0 171.2L1038.1 168.7L1043.2 166.6L1048.3 164.9L1053.3 163.4L1058.4 162.0L1063.4 160.8L1068.4 159.8L1073.4 158.8L1078.3 157.9L1083.2 157.0L1088.2 156.2M827.7 433.8L833.3 432.5L838.9 431.2L844.5 429.9L850.1 428.6L855.6 427.3L861.1 425.9L866.6 424.5L872.1 423.1L877.6 421.5L883.0 420.0L888.4 418.3L893.8 416.5L899.2 414.5L904.6 412.3L909.9 409.8L915.2 406.9L920.5 403.5L925.7 399.5L931.0 394.5L936.2 388.3L941.4 380.7L946.6 371.1L951.7 359.2L956.9 344.8L962.1 327.8L967.2 308.8L972.4 288.4L977.7 268.0L982.9 248.7L988.2 231.5L993.4 216.9L998.6 204.9L1003.9 195.3L1009.1 187.6L1014.3 181.6L1019.5 176.9L1024.6 173.1L1029.7 170.1L1034.8 167.6L1039.9 165.6L1045.0 163.8L1050.0 162.3L1055.1 161.0L1060.1 159.8L1065.1 158.7L1070.0 157.7L1075.0 156.8L1079.9 156.0L1084.8 155.1M825.0 431.8L830.6 430.5L836.2 429.3L841.8 428.0L847.3 426.7L852.9 425.3L858.4 424.0L863.9 422.6L869.3 421.1L874.8 419.6L880.2 418.1L885.6 416.4L891.0 414.6L896.4 412.6L901.7 410.4L907.0 407.9L912.3 405.1L917.6 401.7L922.8 397.6L928.0 392.7L933.2 386.6L938.4 378.9L943.6 369.4L948.8 357.5L953.9 343.2L959.1 326.2L964.2 307.2L969.4 286.9L974.6 266.6L979.8 247.4L985.0 230.2L990.3 215.6L995.5 203.7L1000.7 194.1L1005.9 186.5L1011.1 180.5L1016.2 175.8L1021.4 172.0L1026.5 169.0L1031.6 166.5L1036.7 164.5L1041.7 162.7L1046.8 161.2L1051.8 159.9L1056.8 158.7L1061.7 157.7L1066.7 156.7L1071.6 155.8L1076.5 154.9L1081.4 154.1M822.3 429.8L827.9 428.6L833.5 427.3L839.1 426.0L844.6 424.7L850.1 423.4L855.6 422.0L861.1 420.7L866.6 419.2L872.0 417.7L877.4 416.2L882.8 414.5L888.2 412.7L893.5 410.7L898.9 408.6L904.2 406.1L909.4 403.2L914.7 399.9L919.9 395.8L925.1 390.9L930.3 384.8L935.5 377.2L940.7 367.7L945.8 355.9L950.9 341.5L956.1 324.7L961.2 305.7L966.3 285.5L971.5 265.2L976.7 246.0L981.9 228.9L987.1 214.4L992.3 202.5L997.5 192.9L1002.7 185.3L1007.9 179.4L1013.0 174.7L1018.2 170.9L1023.3 167.9L1028.4 165.5L1033.4 163.4L1038.5 161.7L1043.5 160.2L1048.5 158.9L1053.5 157.7L1058.4 156.6L1063.4 155.6L1068.3 154.7L1073.2 153.9L1078.1 153.1M819.7 427.9L825.3 426.6L830.8 425.4L836.4 424.1L841.9 422.8L847.4 421.5L852.9 420.1L858.4 418.8L863.8 417.3L869.3 415.8L874.7 414.3L880.0 412.6L885.4 410.8L890.7 408.9L896.0 406.7L901.3 404.2L906.6 401.4L911.8 398.1L917.1 394.0L922.3 389.1L927.4 383.0L932.6 375.5L937.7 366.0L942.9 354.2L948.0 339.9L953.1 323.1L958.2 304.2L963.3 284.0L968.5 263.8L973.6 244.7L978.8 227.7L984.0 213.2L989.2 201.3L994.4 191.7L999.6 184.2L1004.7 178.3L1009.9 173.6L1015.0 169.8L1020.1 166.8L1025.1 164.4L1030.2 162.3L1035.2 160.6L1040.2 159.1L1045.2 157.8L1050.2 156.6L1055.2 155.6L1060.1 154.6L1065.0 153.7L1069.9 152.9L1074.8 152.1M817.0 425.9L822.6 424.7L828.2 423.4L833.7 422.2L839.2 420.9L844.7 419.6L850.2 418.2L855.7 416.9L861.1 415.4L866.5 414.0L871.9 412.4L877.3 410.8L882.6 409.0L887.9 407.0L893.2 404.9L898.5 402.4L903.8 399.6L909.0 396.3L914.2 392.3L919.4 387.4L924.6 381.3L929.7 373.7L934.8 364.3L939.9 352.5L945.0 338.3L950.1 321.5L955.2 302.7L960.3 282.6L965.4 262.4L970.6 243.4L975.8 226.4L980.9 211.9L986.1 200.1L991.3 190.6L996.4 183.1L1001.6 177.1L1006.7 172.5L1011.8 168.8L1016.9 165.8L1022.0 163.3L1027.0 161.3L1032.0 159.6L1037.0 158.1L1042.0 156.8L1047.0 155.6L1051.9 154.6L1056.8 153.6L1061.8 152.7L1066.6 151.9L1071.5 151.1M814.4 424.0L820.0 422.8L825.5 421.5L831.1 420.2L836.6 419.0L842.1 417.7L847.5 416.3L853.0 415.0L858.4 413.6L863.8 412.1L869.2 410.6L874.5 408.9L879.9 407.1L885.2 405.2L890.5 403.1L895.7 400.6L901.0 397.8L906.2 394.5L911.4 390.5L916.6 385.6L921.7 379.6L926.8 372.0L931.9 362.6L937.0 350.9L942.1 336.7L947.2 320.0L952.2 301.2L957.3 281.2L962.4 261.0L967.6 242.1L972.7 225.1L977.9 210.7L983.0 198.9L988.2 189.4L993.3 181.9L998.5 176.0L1003.6 171.4L1008.7 167.7L1013.7 164.7L1018.8 162.3L1023.8 160.2L1028.8 158.5L1033.8 157.0L1038.8 155.7L1043.8 154.6L1048.7 153.5L1053.6 152.6L1058.5 151.7L1063.4 150.9L1068.2 150.1M811.8 422.1L817.4 420.8L822.9 419.6L828.4 418.3L833.9 417.1L839.4 415.8L844.9 414.5L850.3 413.1L855.7 411.7L861.1 410.2L866.5 408.7L871.8 407.1L877.1 405.3L882.4 403.4L887.7 401.2L892.9 398.8L898.2 396.0L903.4 392.7L908.6 388.7L913.7 383.9L918.9 377.9L924.0 370.3L929.1 360.9L934.1 349.3L939.2 335.1L944.2 318.5L949.3 299.7L954.4 279.7L959.5 259.7L964.6 240.8L969.7 223.9L974.8 209.5L980.0 197.7L985.1 188.3L990.2 180.8L995.3 174.9L1000.4 170.3L1005.5 166.6L1010.6 163.6L1015.6 161.2L1020.7 159.2L1025.7 157.5L1030.6 156.0L1035.6 154.7L1040.5 153.6L1045.5 152.5L1050.4 151.6L1055.3 150.7L1060.1 149.9L1065.0 149.1M809.2 420.2L814.8 418.9L820.3 417.7L825.8 416.5L831.3 415.2L836.8 413.9L842.2 412.6L847.6 411.3L853.0 409.9L858.4 408.4L863.8 406.9L869.1 405.3L874.4 403.5L879.7 401.6L884.9 399.5L890.2 397.0L895.4 394.2L900.6 390.9L905.8 387.0L910.9 382.1L916.0 376.1L921.1 368.6L926.2 359.3L931.3 347.6L936.3 333.5L941.3 316.9L946.4 298.2L951.4 278.3L956.5 258.3L961.6 239.5L966.7 222.6L971.8 208.3L976.9 196.6L982.0 187.1L987.2 179.7L992.3 173.8L997.3 169.2L1002.4 165.5L1007.5 162.6L1012.5 160.2L1017.5 158.2L1022.5 156.4L1027.5 155.0L1032.4 153.7L1037.4 152.6L1042.3 151.5L1047.2 150.6L1052.1 149.7L1056.9 148.9L1061.8 148.1M806.7 418.3L812.2 417.0L817.7 415.8L823.2 414.6L828.7 413.3L834.1 412.1L839.6 410.7L845.0 409.4L850.4 408.0L855.7 406.6L861.1 405.1L866.4 403.4L871.7 401.7L877.0 399.8L882.2 397.7L887.4 395.3L892.6 392.5L897.8 389.2L903.0 385.3L908.1 380.4L913.2 374.4L918.3 367.0L923.4 357.6L928.4 346.0L933.4 332.0L938.5 315.4L943.5 296.8L948.5 276.9L953.5 257.0L958.6 238.2L963.7 221.4L968.8 207.1L973.9 195.4L979.0 186.0L984.1 178.6L989.2 172.8L994.3 168.1L999.3 164.5L1004.4 161.5L1009.4 159.1L1014.4 157.1L1019.4 155.4L1024.3 154.0L1029.3 152.7L1034.2 151.5L1039.1 150.5L1044.0 149.6L1048.9 148.7L1053.7 147.9L1058.5 147.1M804.1 416.4L809.7 415.2L815.2 413.9L820.6 412.7L826.1 411.5L831.5 410.2L837.0 408.9L842.3 407.6L847.7 406.2L853.1 404.8L858.4 403.2L863.7 401.6L869.0 399.9L874.3 398.0L879.5 395.9L884.7 393.5L889.9 390.7L895.1 387.5L900.2 383.5L905.4 378.7L910.4 372.8L915.5 365.3L920.6 356.0L925.6 344.4L930.6 330.4L935.6 313.9L940.6 295.3L945.6 275.5L950.6 255.6L955.6 236.9L960.7 220.2L965.8 205.9L970.9 194.2L976.0 184.9L981.1 177.5L986.1 171.7L991.2 167.1L996.2 163.4L1001.3 160.5L1006.3 158.1L1011.3 156.1L1016.2 154.4L1021.2 153.0L1026.1 151.7L1031.1 150.5L1036.0 149.5L1040.8 148.6L1045.7 147.7L1050.5 146.9L1055.4 146.1M801.6 414.5L807.1 413.3L812.6 412.1L818.1 410.9L823.5 409.6L828.9 408.4L834.3 407.1L839.7 405.8L845.1 404.4L850.4 403.0L855.7 401.4L861.0 399.8L866.3 398.1L871.6 396.2L876.8 394.1L882.0 391.7L887.2 389.0L892.3 385.7L897.5 381.8L902.6 377.0L907.7 371.1L912.7 363.6L917.8 354.4L922.8 342.8L927.8 328.9L932.7 312.4L937.7 293.9L942.7 274.1L947.7 254.3L952.7 235.6L957.8 218.9L962.8 204.7L967.9 193.1L973.0 183.8L978.0 176.4L983.1 170.6L988.2 166.0L993.2 162.4L998.2 159.5L1003.2 157.1L1008.2 155.1L1013.2 153.4L1018.1 151.9L1023.0 150.7L1027.9 149.6L1032.8 148.5L1037.7 147.6L1042.5 146.7L1047.4 145.9L1052.2 145.2M799.1 412.6L804.6 411.4L810.1 410.2L815.5 409.0L821.0 407.8L826.4 406.5L831.8 405.3L837.1 403.9L842.5 402.6L847.8 401.2L853.1 399.7L858.4 398.1L863.7 396.3L868.9 394.5L874.1 392.4L879.3 390.0L884.5 387.3L889.6 384.0L894.8 380.1L899.9 375.3L904.9 369.4L910.0 362.0L915.0 352.7L920.0 341.3L924.9 327.3L929.9 310.9L934.8 292.4L939.8 272.7L944.8 253.0L949.8 234.4L954.8 217.7L959.9 203.6L964.9 192.0L970.0 182.7L975.0 175.3L980.1 169.5L985.1 165.0L990.2 161.4L995.2 158.4L1000.2 156.0L1005.1 154.1L1010.1 152.4L1015.0 151.0L1019.9 149.7L1024.8 148.6L1029.7 147.5L1034.6 146.6L1039.4 145.8L1044.2 145.0L1049.0 144.2M796.6 410.8L802.1 409.6L807.5 408.4L813.0 407.2L818.4 406.0L823.8 404.7L829.2 403.5L834.5 402.1L839.9 400.8L845.2 399.4L850.5 397.9L855.8 396.3L861.0 394.6L866.2 392.7L871.5 390.6L876.6 388.3L881.8 385.5L886.9 382.3L892.0 378.4L897.1 373.6L902.2 367.7L907.2 360.4L912.2 351.1L917.2 339.7L922.1 325.8L927.1 309.4L932.0 291.0L937.0 271.4L941.9 251.7L946.9 233.1L951.9 216.5L956.9 202.4L962.0 190.8L967.0 181.6L972.1 174.2L977.1 168.5L982.1 163.9L987.1 160.3L992.1 157.4L997.1 155.0L1002.1 153.1L1007.0 151.4L1011.9 150.0L1016.8 148.7L1021.7 147.6L1026.6 146.6L1031.5 145.6L1036.3 144.8L1041.1 144.0L1045.9 143.2" fill="none" stroke="#000" stroke-width="1.5" stroke-linejoin="round"/>
<g stroke="#000" stroke-width="1.5" fill="none" stroke-linecap="round">
<path d="M941.0 544.8L938.9 208.6"/>
<path d="M938.9 208.6L1226.8 169.8"/>
<path d="M938.9 208.6L787.1 146.1"/>
<path d="M1211.6 474.6L1226.8 169.8"/>
<path d="M941.0 544.8L1211.6 474.6"/>
<path d="M941.0 544.8L797.4 434.3"/>
<path d="M941.0 544.8L946.2 558.2"/>
<path d="M941.0 544.8L932.1 556.6"/>
<path d="M990.2 532.1L995.5 545.2"/>
<path d="M913.6 523.7L904.8 535.1"/>
<path d="M1037.7 519.8L1043.0 532.6"/>
<path d="M887.7 503.8L879.2 514.8"/>
<path d="M1083.5 507.9L1088.8 520.4"/>
<path d="M863.3 485.0L854.9 495.7"/>
<path d="M1127.7 496.4L1133.1 508.7"/>
<path d="M840.1 467.2L832.0 477.6"/>
<path d="M1170.3 485.3L1175.8 497.4"/>
<path d="M818.2 450.3L810.3 460.4"/>
<path d="M1211.6 474.6L1217.1 486.5"/>
<path d="M797.4 434.3L789.7 444.1"/>
<path d="M796.6 411.5L784.9 410.4"/>
<path d="M795.0 365.3L783.1 364.3"/>
<path d="M793.3 318.2L781.3 317.3"/>
<path d="M791.6 270.2L779.5 269.4"/>
<path d="M789.8 221.3L777.7 220.5"/>
<path d="M788.0 171.5L775.8 170.7"/>
</g>
<g font-size="16.3" text-anchor="middle" font-family="Liberation Sans, sans-serif" fill="#000">
<text x="952.6" y="580.7">-6</text>
<text x="921.0" y="577.0">-6</text>
<text x="1002.0" y="567.2">-4</text>
<text x="894.0" y="555.0">-4</text>
<text x="1049.6" y="554.3">-2</text>
<text x="868.6" y="534.3">-2</text>
<text x="1095.5" y="541.8">0</text>
<text x="844.7" y="514.7">0</text>
<text x="1139.8" y="529.8">2</text>
<text x="822.0" y="496.2">2</text>
<text x="1182.6" y="518.2">4</text>
<text x="800.5" y="478.7">4</text>
<text x="1223.9" y="506.9">6</text>
<text x="780.1" y="462.1">6</text>
<text x="770.5" y="414.8">0.0</text>
<text x="768.6" y="368.8">0.2</text>
<text x="766.7" y="321.9">0.4</text>
<text x="764.7" y="274.1">0.6</text>
<text x="762.7" y="225.4">0.8</text>
<text x="760.7" y="175.7">1.0</text>
</g>
<text x="1104.4" y="584.0" font-size="21.5" font-family="Liberation Serif, serif" fill="#000">θ</text><text x="1116.0" y="588.6" font-size="13.5" font-family="Liberation Sans, sans-serif" fill="#000">1</text>
<text x="808.2" y="550.3" font-size="21.5" font-family="Liberation Serif, serif" fill="#000">θ</text><text x="819.8" y="554.9" font-size="13.5" font-family="Liberation Sans, sans-serif" fill="#000">2</text>
<text x="727.0" y="296.4" font-size="21" text-anchor="middle" font-family="Liberation Sans, sans-serif" fill="#000">P<tspan font-size="26" dy="1.5">(</tspan><tspan dy="-1.5" font-size="22" font-family="Liberation Serif, serif">θ</tspan><tspan font-size="26" dy="1.5">)</tspan></text>
<path d="M1295.2 1269.6L1294.4 1034.8M1304.7 1269.6L1305.5 1034.8M1295.2 1269.6L1498.1 1387.7M1304.7 1269.6L1101.8 1387.7M1274.3 1281.6L1269.7 1044.0M1325.6 1281.6L1330.3 1044.0M1274.3 1281.6L1477.8 1404.5M1325.6 1281.6L1122.1 1404.5M1252.7 1294.1L1243.9 1053.6M1347.3 1294.1L1356.1 1053.6M1252.7 1294.1L1456.6 1422.0M1347.3 1294.1L1143.4 1422.0M1230.2 1307.1L1216.9 1063.7M1369.7 1307.1L1383.0 1063.7M1230.2 1307.1L1434.4 1440.3M1369.7 1307.1L1165.5 1440.3M1182.6 1334.6L1159.2 1085.2M1417.4 1334.6L1440.7 1085.2M1182.6 1334.6L1386.9 1479.6M1417.4 1334.6L1213.0 1479.6M1157.3 1349.2L1128.3 1096.7M1442.6 1349.2L1471.7 1096.7M1157.3 1349.2L1361.5 1500.6M1442.6 1349.2L1238.5 1500.6M1131.1 1364.4L1095.8 1108.8M1468.9 1364.4L1504.1 1108.8M1131.1 1364.4L1334.7 1522.7M1468.9 1364.4L1265.2 1522.7M1103.7 1380.2L1061.7 1121.5M1496.2 1380.2L1538.2 1121.5M1103.7 1380.2L1306.7 1545.8M1496.2 1380.2L1293.3 1545.8M1300.0 1224.9L1089.6 1338.6M1300.0 1224.9L1510.4 1338.6M1300.0 1171.2L1079.7 1280.0M1300.0 1171.2L1520.2 1280.0M1300.0 1113.2L1068.9 1215.6M1300.0 1113.2L1531.1 1215.6M1300.0 1050.2L1056.9 1144.5M1300.0 1050.2L1543.0 1144.5" stroke="#dadada" stroke-width="1.15" fill="none"/>
<path d="M1206.8 1320.6L1188.7 1074.2M1393.1 1320.6L1411.2 1074.2M1206.8 1320.6L1411.2 1459.5M1393.1 1320.6L1188.7 1459.5" stroke="#555" stroke-width="1.1" fill="none"/>
<defs><filter id="bl" filterUnits="userSpaceOnUse" x="1060" y="1090" width="480" height="410"><feGaussianBlur stdDeviation="2.2"/></filter>
<filter id="wh" filterUnits="userSpaceOnUse" x="1060" y="1090" width="480" height="410"><feColorMatrix type="matrix" values="0 0 0 0 1 0 0 0 0 1 0 0 0 0 1 0 0 0 1 0"/></filter>
<mask id="sm1" maskUnits="userSpaceOnUse" x="1060" y="1090" width="480" height="410"><use href="#surf1" filter="url(#wh)"/></mask>
<mask id="sm2" maskUnits="userSpaceOnUse" x="1060" y="1090" width="480" height="410"><use href="#surf2" filter="url(#wh)"/></mask>
</defs>
<g id="surf1">
<path d="M1229 1212.5l-5-0.5l2.5 0l5.5 1z" fill="#45888b"/>
<path d="M1225.5 1211l-5 1.5l3.5 1l4.5-1.5z" fill="#468a8b"/>
<path d="M1221.5 1211.5l-4.5 2l3.5 1.5l4.5-2z" fill="#468a8b"/>
<path d="M1228 1211.5l-5 1.5l3.5 1l5-1.5z" fill="#468b8b"/>
<path d="M1180 1278l-4 7l3.5 1l4-7z" fill="#3f5b88"/>
<path d="M1183.5 1272l-4 7.5l3.5 1l3.5-7.5z" fill="#3f5f89"/>
<path d="M1177 1283.5l-4 6.5l3.5 1l4-6.5z" fill="#3f5687"/>
<path d="M1186.5 1266.5l-4 7.5l3.5 1l4-7.5z" fill="#3f648a"/>
<path d="M1174 1288.5l-4 6.5l3 1.5l4.5-7z" fill="#3f5287"/>
<path d="M1189.5 1260.5l-4 7.5l3.5 1l4-8z" fill="#3f688b"/>
<path d="M1170.5 1293.5l-4 6.5l3.5 1l4-6.5z" fill="#3f4f86"/>
<path d="M1218 1212.5l-4.5 3l3.5 1l5-3z" fill="#468b8b"/>
<path d="M1192.5 1254l-3.5 8l3 1l4-8.5z" fill="#406d8b"/>
<path d="M1167.5 1298.5l-4 6l3 1.5l4.5-6.5z" fill="#404b85"/>
<path d="M1164 1303l-4 6l3.5 1.5l4-6z" fill="#404884"/>
<path d="M1224.5 1212l-4.5 2l3.5 1l4.5-2z" fill="#468c8b"/>
<path d="M1195.5 1247l-3.5 8.5l3.5 1l3.5-9z" fill="#3e6d86"/>
<path d="M1231 1211.5l-5 1.5l3.5 1l5-1.5z" fill="#478d8b"/>
<path d="M1161 1307.5l-4.5 6l3.5 1l4.5-5.5z" fill="#404583"/>
<path d="M1214.5 1214l-4 5l3.5 1l4.5-5z" fill="#468a8b"/>
<path d="M1198.5 1239.5l-3.5 9l3.5 0.5l3.5-8.5z" fill="#3f7387"/>
<path d="M1157.5 1312l-4 5.5l3.5 1.5l4-6z" fill="#404281"/>
<path d="M1183 1278.5l-4 7l3.5 1l4-7.5z" fill="#3f5c89"/>
<path d="M1186 1273l-4 7l3.5 1l4-7.5z" fill="#3f6089"/>
<path d="M1179.5 1284l-4 7l3.5 0.5l4-7z" fill="#3f5888"/>
<path d="M1189 1267l-4 7.5l3.5 0.5l4-7.5z" fill="#3f658a"/>
<path d="M1176.5 1289l-4 7l3.5 1l4-7z" fill="#3f5487"/>
<path d="M1202 1233l-4 8.5l3.5 0.5l3.5-8z" fill="#427c8c"/>
<path d="M1192.5 1261l-4 7.5l3.5 1l3.5-8z" fill="#3f6a8b"/>
<path d="M1211.5 1217.5l-4.5 6l4 1l4-6z" fill="#45878b"/>
<path d="M1173.5 1294.5l-4.5 6.5l3.5 0.5l4.5-6.5z" fill="#3f5086"/>
<path d="M1154.5 1316l-4.5 6l3.5 1l4.5-5.5z" fill="#413f7f"/>
<path d="M1221 1213l-4.5 3l3.5 1l4.5-3z" fill="#468c8b"/>
<path d="M1205 1227l-4 8l3.5 0.5l4-8z" fill="#43808c"/>
<path d="M1195.5 1254.5l-4 8l3.5 0.5l4-8z" fill="#406e8b"/>
<path d="M1170 1299l-4 6.5l3.5 1l4-6.5z" fill="#404d86"/>
<path d="M1208 1222l-4 6.5l3.5 1l4-6.5z" fill="#44858c"/>
<path d="M1167 1304l-4.5 6l3.5 1l4.5-6z" fill="#404a85"/>
<path d="M1227.5 1212l-5 2.5l3.5 0.5l5-2z" fill="#478d8b"/>
<path d="M1151 1320.5l-4.5 5l3.5 1.5l4.5-5.5z" fill="#413c7e"/>
<path d="M1198.5 1247l-4 9l3.5 0.5l4-8.5z" fill="#3e6f87"/>
<path d="M1163.5 1308.5l-4 6l3 1l4.5-6z" fill="#404684"/>
<path d="M1217.5 1214.5l-4.5 5l4 1l4-5z" fill="#468b8b"/>
<path d="M1147.5 1324l-4 5.5l3 1.5l4.5-5.5z" fill="#413a7d"/>
<path d="M1201.5 1240l-4 9l3.5 0.5l4-9z" fill="#3f7588"/>
<path d="M1160.5 1312.5l-4.5 6l3.5 1l4-5.5z" fill="#404382"/>
<path d="M1185.5 1279l-4 7l3.5 0.5l4-7z" fill="#3f5e89"/>
<path d="M1189 1273l-4 7.5l3 0.5l4-7z" fill="#3f628a"/>
<path d="M1182.5 1284.5l-4 7l3.5 0.5l4-7z" fill="#3f5a88"/>
<path d="M1192 1267.5l-4 7.5l3.5 0.5l4-7.5z" fill="#3f678b"/>
<path d="M1179.5 1289.5l-4.5 7l3.5 0.5l4-6.5z" fill="#3f5687"/>
<path d="M1204.5 1233.5l-4 8.5l3.5 0.5l4-8.5z" fill="#427d8c"/>
<path d="M1214 1218l-4 6l3.5 0.5l4.5-6z" fill="#45898b"/>
<path d="M1195 1261l-4 8l3.5 0.5l4-7.5z" fill="#3f6b8b"/>
<path d="M1176 1295l-4 6.5l3.5 0.5l4-6.5z" fill="#3f5287"/>
<path d="M1144.5 1328l-4.5 5.5l3 1l4.5-5z" fill="#41377b"/>
<path d="M1157 1317l-4.5 5.5l3.5 1l4.5-5.5z" fill="#414180"/>
<path d="M1207.5 1227.5l-3.5 8l3.5 0.5l3.5-8z" fill="#43828c"/>
<path d="M1211 1222.5l-4 6.5l3.5 0.5l4-6.5z" fill="#44868c"/>
<path d="M1224 1213l-4.5 3l3.5 1l4.5-3z" fill="#478e8b"/>
<path d="M1198 1254.5l-3.5 8.5l3 0.5l4-8.5z" fill="#406f8b"/>
<path d="M1173 1299.5l-4.5 6.5l3.5 1l4-6.5z" fill="#3f4f86"/>
<path d="M1169.5 1304.5l-4 6l3 1l4.5-6.5z" fill="#404b85"/>
<path d="M1153.5 1321l-4 5.5l3 1l4.5-5.5z" fill="#413e7f"/>
<path d="M1201 1247.5l-3.5 9l3.5 0.5l3.5-9z" fill="#3f7288"/>
<path d="M1141 1332l-4.5 5l3.5 1.5l4.5-5z" fill="#42357a"/>
<path d="M1166.5 1309l-4.5 6l3.5 1l4-6z" fill="#404885"/>
<path d="M1150.5 1325l-4.5 5.5l3 1l4.5-5.5z" fill="#413b7e"/>
<path d="M1220.5 1215l-4.5 4.5l3.5 1l4.5-5z" fill="#478d8b"/>
<path d="M1204.5 1240.5l-4 9l3.5 0.5l3.5-9z" fill="#407789"/>
<path d="M1163 1313.5l-4.5 5.5l3.5 1l4.5-6z" fill="#404583"/>
<path d="M1137.5 1335.5l-4.5 4.5l3.5 1.5l4.5-4.5z" fill="#423479"/>
<path d="M1188.5 1279l-4 7.5l3 0.5l4.5-7.5z" fill="#3f6089"/>
<path d="M1191.5 1273.5l-4 7.5l3.5 0.5l4-7.5z" fill="#3f648a"/>
<path d="M1185 1284.5l-4 7l3.5 1l4-7z" fill="#3f5c88"/>
<path d="M1194.5 1267.5l-4 7.5l3.5 0.5l4-7.5z" fill="#3f688b"/>
<path d="M1182 1290l-4 7l3.5 0.5l4-7z" fill="#3f5888"/>
<path d="M1207.5 1234l-4 8l3.5 0.5l4-8z" fill="#427f8c"/>
<path d="M1217 1218.5l-4 6l3.5 0.5l4-6z" fill="#468b8b"/>
<path d="M1147 1329l-4.5 5l3.5 1.5l4.5-5.5z" fill="#41397c"/>
<path d="M1198 1261.5l-4 8l3.5 0.5l4-8z" fill="#406d8b"/>
<path d="M1179 1295l-4.5 6.5l3.5 1l4-6.5z" fill="#3f5487"/>
<path d="M1159.5 1317.5l-4 5.5l3 1l4.5-5.5z" fill="#404281"/>
<path d="M1210.5 1227.5l-4 8l3.5 0.5l4-8z" fill="#44838c"/>
<path d="M1214 1222.5l-4.5 7l4 0.5l4-7z" fill="#45888b"/>
<path d="M1227 1213l-5 3l4 1l4.5-3z" fill="#48908b"/>
<path d="M1201 1255l-4 8l3.5 0.5l4-8z" fill="#40718b"/>
<path d="M1175.5 1300l-4 6.5l3 0.5l4.5-6z" fill="#3f5086"/>
<path d="M1134 1339l-4.5 4.5l3 1.5l5-4.5z" fill="#423278"/>
<path d="M1156.5 1321.5l-4.5 5.5l3.5 1l4-5.5z" fill="#414080"/>
<path d="M1172.5 1305l-4.5 6l3.5 0.5l4-6z" fill="#404d86"/>
<path d="M1143.5 1332.5l-4.5 5.5l3.5 1l4.5-5z" fill="#41377b"/>
<path d="M1204 1248l-3.5 8.5l3 0.5l4-9z" fill="#407489"/>
<path d="M1233.5 1212l-5 2.5l3.5 0l5-2z" fill="#48918b"/>
<path d="M1169 1309.5l-4.5 6l3.5 0.5l4.5-6z" fill="#404a85"/>
<path d="M1240 1211.5l-5 1.5l3 0l5-1.5z" fill="#48928a"/>
<path d="M1153 1325.5l-4.5 5.5l3.5 1l4.5-5.5z" fill="#413d7f"/>
<path d="M1223.5 1215l-4.5 5l3.5 0.5l4.5-5z" fill="#478f8b"/>
<path d="M1207 1240.5l-3.5 9l3 0.5l4-9z" fill="#41798a"/>
<path d="M1130.5 1342l-4.5 4.5l3 1.5l5-4.5z" fill="#423178"/>
<path d="M1140 1336.5l-4.5 4.5l3.5 1.5l4.5-5z" fill="#42357a"/>
<path d="M1165.5 1314l-4 5.5l3 1l4.5-6z" fill="#404784"/>
<path d="M1191 1279.5l-4 7l3.5 0.5l4-7z" fill="#3f628a"/>
<path d="M1194.5 1273.5l-4 7.5l3 0.5l4-7.5z" fill="#3f668b"/>
<path d="M1188 1285l-4 7l3 0.5l4.5-7z" fill="#3f5e89"/>
<path d="M1197.5 1268l-4 7.5l3.5 0.5l4-8z" fill="#3f6a8b"/>
<path d="M1210 1234l-3.5 8.5l3.5 0l3.5-8z" fill="#43808c"/>
<path d="M1184.5 1290.5l-4 6.5l3.5 0.5l4-6.5z" fill="#3f5a88"/>
<path d="M1220 1218.5l-4 6l3.5 0l4-6z" fill="#468c8b"/>
<path d="M1149.5 1329.5l-4.5 5.5l3.5 1l4.5-5.5z" fill="#413b7d"/>
<path d="M1200.5 1261.5l-4 8l3.5 0.5l4-8z" fill="#406e8b"/>
<path d="M1162.5 1318l-4.5 5.5l3.5 1l4-5.5z" fill="#404482"/>
<path d="M1181.5 1295.5l-4 6.5l3 0.5l4.5-6.5z" fill="#3f5687"/>
<path d="M1213.5 1228l-4 8l3.5 0l4-8z" fill="#44858c"/>
<path d="M1216.5 1223l-4 6.5l3.5 0.5l4-7z" fill="#45898b"/>
<path d="M1230 1213l-5 3l3.5 0.5l5-3z" fill="#48928b"/>
<path d="M1203.5 1255l-3.5 8.5l3.5 0l3.5-8z" fill="#40738b"/>
<path d="M1178 1300.5l-4 6l3.5 1l4-6.5z" fill="#3f5387"/>
<path d="M1136.5 1339.5l-4.5 4.5l3.5 1.5l4.5-4.5z" fill="#423479"/>
<path d="M1127 1345l-4.5 4.5l3 1.5l5-4.5z" fill="#432f77"/>
<path d="M1159 1322l-4.5 5.5l3.5 1l4.5-5.5z" fill="#404281"/>
<path d="M1146 1333.5l-4.5 5l3.5 1l4.5-5z" fill="#41397c"/>
<path d="M1175 1305l-4.5 6.5l3.5 0.5l4.5-6.5z" fill="#3f4f86"/>
<path d="M1207 1248l-4 9l3.5 0l4-9z" fill="#40768a"/>
<path d="M1236.5 1212l-5 2l3.5 0.5l5-2z" fill="#49938a"/>
<path d="M1171.5 1309.5l-4 6l3 1l4.5-6z" fill="#404c85"/>
<path d="M1155.5 1326l-4.5 5.5l3.5 1l4.5-5.5z" fill="#413f80"/>
<path d="M1226 1215l-4 5l3.5 0l4.5-5z" fill="#48918b"/>
<path d="M1133 1343l-4.5 4.5l3 1l5-4.5z" fill="#423279"/>
<path d="M1210 1240.5l-4 9l3.5 0.5l4-9z" fill="#417c8a"/>
<path d="M1123.5 1348l-5 4.5l3.5 1.5l5-4z" fill="#432e76"/>
<path d="M1143 1337l-5 5l3.5 1l4.5-5z" fill="#41377b"/>
<path d="M1168.5 1314l-4.5 6l3.5 0.5l4-5.5z" fill="#404985"/>
<path d="M1194 1279.5l-4 7l3 0.5l4.5-7z" fill="#3f648a"/>
<path d="M1197 1274l-4 7l3.5 0.5l4-7.5z" fill="#3f688b"/>
<path d="M1190.5 1285l-4 7l3.5 0.5l4-7z" fill="#3f6089"/>
<path d="M1213 1234l-4 8.5l3.5 0l4-8.5z" fill="#43828c"/>
<path d="M1200.5 1268l-4 7.5l3 0l4-7.5z" fill="#3f6c8b"/>
<path d="M1152 1330l-4.5 5.5l3.5 1l4.5-5.5z" fill="#413d7e"/>
<path d="M1223 1218.5l-4.5 6l4 0l4-6z" fill="#478e8b"/>
<path d="M1187.5 1290.5l-4 7l3 0l4.5-6.5z" fill="#3f5c88"/>
<path d="M1165 1318.5l-4.5 5.5l3.5 1l4.5-6z" fill="#404784"/>
<path d="M1203.5 1261.5l-4 8l3.5 0.5l4-8z" fill="#40708b"/>
<path d="M1184 1295.5l-4 6.5l3.5 0.5l4-6.5z" fill="#3f5888"/>
<path d="M1216.5 1228l-4 8l3.5 0l4-8z" fill="#45878b"/>
<path d="M1219.5 1222.5l-4 7l3.5 0l4-6.5z" fill="#468b8b"/>
<path d="M1129.5 1346l-4.5 4.5l3 1.5l5-4.5z" fill="#423178"/>
<path d="M1139.5 1340.5l-5 4.5l3.5 1l4.5-4.5z" fill="#42357a"/>
<path d="M1232.5 1213l-4.5 3l3.5 0.5l5-3z" fill="#49948a"/>
<path d="M1206.5 1255l-4 8.5l3.5 0l4-8.5z" fill="#41758b"/>
<path d="M1181 1300.5l-4.5 6.5l3.5 0.5l4.5-6.5z" fill="#3f5587"/>
<path d="M1120 1351l-5 4.5l3.5 1.5l4.5-4z" fill="#432d76"/>
<path d="M1149 1334l-5 5l3.5 1l4.5-5z" fill="#413b7d"/>
<path d="M1161.5 1322.5l-4.5 5.5l3.5 1l4.5-5.5z" fill="#404482"/>
<path d="M1177.5 1305.5l-4 6l3.5 0.5l4-6z" fill="#3f5186"/>
<path d="M1209.5 1248l-3.5 9l3.5 0l3.5-9z" fill="#41788a"/>
<path d="M1239.5 1211.5l-5 2.5l3 0l5-2z" fill="#49958a"/>
<path d="M1174.5 1310l-4.5 6l3.5 0.5l4-6z" fill="#3f4e86"/>
<path d="M1158 1326.5l-4 5.5l3 1l4.5-5.5z" fill="#404281"/>
<path d="M1136 1343.5l-5 4.5l3.5 1.5l4.5-4.5z" fill="#42347a"/>
<path d="M1126 1349l-4.5 4.5l3 1.5l5-4.5z" fill="#433077"/>
<path d="M1229 1214.5l-4 5l3.5 0.5l4.5-5z" fill="#49938a"/>
<path d="M1145.5 1337.5l-5 5l3.5 1l4.5-5z" fill="#41397c"/>
<path d="M1213 1240.5l-4 9l3.5 0l3.5-9z" fill="#427e8b"/>
<path d="M1116.5 1354l-5 4l3 2l5-4.5z" fill="#432c75"/>
<path d="M1171 1314.5l-4.5 5.5l3.5 1l4.5-6z" fill="#404c85"/>
<path d="M1196.5 1279.5l-4 7l3.5 0.5l4-7.5z" fill="#3f668b"/>
<path d="M1200 1273.5l-4 7.5l3.5 0.5l4-7.5z" fill="#3f6a8b"/>
<path d="M1193.5 1285l-4 7l3.5 0.5l4-7z" fill="#3f628a"/>
<path d="M1155 1330.5l-4.5 5.5l3 0.5l4.5-5z" fill="#413f80"/>
<path d="M1216 1234l-4 8.5l3.5 0l4-8.5z" fill="#44848c"/>
<path d="M1225.5 1218l-4 6l3.5 0.5l4.5-6.5z" fill="#48908b"/>
<path d="M1203 1268l-4 7.5l3.5 0l4-7.5z" fill="#406e8b"/>
<path d="M1190 1290.5l-4 7l3.5 0l4-7z" fill="#3f5e89"/>
<path d="M1167.5 1318.5l-4 6l3 0.5l4.5-5.5z" fill="#404985"/>
<path d="M1206 1261.5l-3.5 8l3.5 0l3.5-8z" fill="#40728b"/>
<path d="M1187 1295.5l-4 7l3 0l4.5-6.5z" fill="#3f5a88"/>
<path d="M1132 1347l-4.5 4l3 1.5l5-4.5z" fill="#423379"/>
<path d="M1219 1227.5l-4 8l3.5 0l4-8z" fill="#45898b"/>
<path d="M1222.5 1222.5l-4 7l3.5 0l4-7z" fill="#478d8b"/>
<path d="M1142 1341l-5 4.5l3.5 1l4.5-4.5z" fill="#41377b"/>
<path d="M1122.5 1352l-5 4.5l3.5 1.5l4.5-4.5z" fill="#432f77"/>
<path d="M1235.5 1212.5l-4.5 3l3.5 0.5l5-3z" fill="#4a968a"/>
<path d="M1209.5 1255l-4 8.5l3.5 0l4-8.5z" fill="#41778c"/>
<path d="M1183.5 1300.5l-4 6.5l3.5 0.5l4-6.5z" fill="#3f5788"/>
<path d="M1151.5 1334.5l-4.5 5l3 1l4.5-5.5z" fill="#413d7e"/>
<path d="M1112.5 1357l-4.5 4l3 1.5l5-4z" fill="#432b75"/>
<path d="M1164.5 1323l-4.5 5.5l3 0.5l4.5-5.5z" fill="#404683"/>
<path d="M1180.5 1305.5l-4.5 6l3.5 0.5l4-6z" fill="#3f5487"/>
<path d="M1212.5 1247.5l-4 9l3.5 0l4-9z" fill="#417b8b"/>
<path d="M1242.5 1211.5l-5 2l3 0l5-2z" fill="#4a978a"/>
<path d="M1128.5 1350l-4.5 4l3 1.5l5-4.5z" fill="#423278"/>
<path d="M1138.5 1344l-5 4.5l3.5 1.5l4.5-5z" fill="#42367b"/>
<path d="M1161 1327l-4.5 5.5l3 0.5l4.5-5.5z" fill="#404482"/>
<path d="M1119 1355l-5 4l3 1.5l5-4z" fill="#432e76"/>
<path d="M1148 1338l-4.5 5l3 0.5l4.5-4.5z" fill="#413b7d"/>
<path d="M1232 1214.5l-4.5 5l4 0l4-5z" fill="#49958a"/>
<path d="M1215.5 1240.5l-3.5 9l3.5 0l3.5-9z" fill="#43808b"/>
<path d="M1109 1359.5l-5 4l3 1.5l5-3.5z" fill="#432b74"/>
<path d="M1157.5 1331l-4.5 5l3 1l5-5.5z" fill="#404181"/>
<path d="M1199.5 1279.5l-4 7l3.5 0l4-7z" fill="#3f698b"/>
<path d="M1219 1233.5l-4 8.5l3.5 0l4-8.5z" fill="#45868c"/>
<path d="M1202.5 1273.5l-4 7.5l3.5 0l4-7.5z" fill="#406c8b"/>
<path d="M1196 1285l-4 7l3.5 0l4-7z" fill="#3f658a"/>
<path d="M1228.5 1218l-4 6l3.5 0l4.5-6z" fill="#48928a"/>
<path d="M1206 1267.5l-4 8l3.5 0l4-8z" fill="#40708b"/>
<path d="M1193 1290.5l-4 7l3 0l4.5-7z" fill="#3f6189"/>
<path d="M1135 1347.5l-5 4.5l3 1l5-4.5z" fill="#42357a"/>
<path d="M1170.5 1319l-4.5 5.5l3.5 0.5l4-5.5z" fill="#404b85"/>
<path d="M1125 1353l-5 4l3.5 1.5l5-4.5z" fill="#423078"/>
<path d="M1209 1261.5l-4 8l3.5 0l4-8.5z" fill="#40748b"/>
<path d="M1144.5 1341.5l-4.5 4.5l3 1l4.5-4.5z" fill="#413a7d"/>
<path d="M1222 1227.5l-4 8l3.5 0l4-8z" fill="#468b8b"/>
<path d="M1189.5 1295.5l-4 7l3.5 0l4-6.5z" fill="#3f5d89"/>
<path d="M1225.5 1222.5l-4.5 6.5l4 0l4-6.5z" fill="#478f8b"/>
<path d="M1115.5 1358l-5 4l3 1.5l5-4z" fill="#432d76"/>
<path d="M1238.5 1212.5l-4.5 3l3.5 0l4.5-3.5z" fill="#4a988a"/>
<path d="M1212 1254.5l-3.5 8.5l3.5 0l3.5-8.5z" fill="#41798c"/>
<path d="M1186.5 1300.5l-4.5 6.5l3.5 0l4.5-6z" fill="#3f5988"/>
<path d="M1154 1334.5l-4.5 5.5l3 0.5l5-5z" fill="#413f80"/>
<path d="M1167 1323l-4.5 5.5l3.5 0.5l4.5-5.5z" fill="#404985"/>
<path d="M1215.5 1247.5l-4 9l3.5 0l4-9.5z" fill="#427e8c"/>
<path d="M1131 1350.5l-4.5 4.5l3 1l5-4.5z" fill="#423479"/>
<path d="M1141 1344.5l-5 4.5l3.5 1l4.5-4.5z" fill="#41387c"/>
<path d="M1121.5 1356l-5 4l3 1l5-4z" fill="#432f77"/>
<path d="M1245.5 1211l-5 2l3-0.5l5-2z" fill="#4b9a8a"/>
<path d="M1163.5 1327l-4.5 5.5l3.5 0.5l4.5-5.5z" fill="#404683"/>
<path d="M1150.5 1338.5l-4.5 4.5l3 1l5-5z" fill="#413d7f"/>
<path d="M1235 1214l-4.5 5l4 0l4-5z" fill="#4a978a"/>
<path d="M1218.5 1240l-4 9l3.5 0l4-9z" fill="#44838c"/>
<path d="M1111.5 1360.5l-5 4l3 1.5l5-4z" fill="#432c75"/>
<path d="M1160 1331l-4.5 5.5l3.5 0.5l4.5-5.5z" fill="#404482"/>
<path d="M1221.5 1233.5l-3.5 8.5l3.5-0.5l4-8.5z" fill="#45898b"/>
<path d="M1231.5 1217.5l-4 6l3.5 0l4.5-6.5z" fill="#49958a"/>
<path d="M1127.5 1353.5l-5 4.5l3.5 1l5-4.5z" fill="#423279"/>
<path d="M1137.5 1348l-5 4.5l3.5 1l4.5-4.5z" fill="#42377b"/>
<path d="M1202.5 1279l-4.5 7.5l3.5-0.5l4-7z" fill="#3f6b8b"/>
<path d="M1205.5 1273.5l-4 7.5l3.5-0.5l4-7.5z" fill="#406e8b"/>
<path d="M1199 1284.5l-4 7.5l3.5-0.5l4-7z" fill="#3f678b"/>
<path d="M1208.5 1267.5l-4 7.5l3.5 0l4-8z" fill="#40728b"/>
<path d="M1195.5 1290l-4 7l3.5 0l4-7z" fill="#3f638a"/>
<path d="M1147 1342l-4.5 4.5l3 0.5l5-4.5z" fill="#413c7e"/>
<path d="M1118 1358.5l-5 4l3 1.5l5-4z" fill="#432f77"/>
<path d="M1225 1227l-4 8l3.5 0l4-8z" fill="#478d8b"/>
<path d="M1228.5 1222l-4.5 7l4-0.5l4-7z" fill="#48928b"/>
<path d="M1212 1261l-4 8l3.5-0.5l4-8z" fill="#41778c"/>
<path d="M1192.5 1295.5l-4 6.5l3 0l4.5-6.5z" fill="#3f6089"/>
<path d="M1156.5 1335l-4.5 5l3.5 0.5l4.5-5z" fill="#404281"/>
<path d="M1241.5 1211.5l-4.5 3l3.5 0l4.5-3z" fill="#4b9a8a"/>
<path d="M1215 1254.5l-4 8l3.5 0l4-8.5z" fill="#427b8c"/>
<path d="M1169.5 1323l-4.5 5.5l3.5 0.5l4.5-5.5z" fill="#404b85"/>
<path d="M1134 1351l-5 4.5l3 1l5-4.5z" fill="#42367a"/>
<path d="M1124 1356.5l-5 4l3 1.5l5-4.5z" fill="#423178"/>
<path d="M1218.5 1247l-4 9l3.5-0.5l3.5-9z" fill="#43808c"/>
<path d="M1143.5 1345l-4.5 4.5l3 1l4.5-4.5z" fill="#413a7d"/>
<path d="M1166 1327l-4.5 5.5l3.5 0.5l4.5-5.5z" fill="#404985"/>
<path d="M1153 1338.5l-4.5 5l3.5 0.5l4.5-5z" fill="#414080"/>
<path d="M1248.5 1210.5l-5 1.5l3-1l5-1.5z" fill="#4c9c89"/>
<path d="M1114 1361.5l-5 3.5l3 1.5l5-4z" fill="#432e76"/>
<path d="M1238 1213.5l-4.5 5l4-0.5l4-5z" fill="#4b998a"/>
<path d="M1221.5 1239.5l-4 9l3.5 0l4-9.5z" fill="#44868c"/>
<path d="M1163 1331l-5 5.5l3.5 0.5l4.5-5.5z" fill="#404684"/>
<path d="M1130 1354l-4.5 4.5l3 1l5-4.5z" fill="#42357a"/>
<path d="M1140 1348l-5 4.5l3.5 1l4.5-4.5z" fill="#41397c"/>
<path d="M1224.5 1233l-3.5 8.5l3.5-0.5l3.5-8.5z" fill="#468b8b"/>
<path d="M1120.5 1359.5l-5 4l3 1l5-4z" fill="#423178"/>
<path d="M1234.5 1217l-4 6l3.5-0.5l4-6z" fill="#4a978a"/>
<path d="M1149.5 1342l-4.5 4.5l3 1l5-5z" fill="#413e7f"/>
<path d="M1205 1278.5l-4 7.5l3.5-0.5l4-7.5z" fill="#406d8b"/>
<path d="M1208.5 1273l-4 7.5l3-0.5l4.5-7.5z" fill="#40718b"/>
<path d="M1202 1284l-4.5 7.5l3.5-0.5l4-7z" fill="#3f6a8b"/>
<path d="M1211.5 1266.5l-4 8l3.5-0.5l4-8z" fill="#41758b"/>
<path d="M1198.5 1289.5l-4 7l3.5 0l4-7z" fill="#3f668b"/>
<path d="M1228 1226.5l-4 8l3.5-0.5l4-8z" fill="#48908b"/>
<path d="M1231 1221.5l-4 6.5l3.5 0l4.5-7z" fill="#49948a"/>
<path d="M1215 1260.5l-4 8l3.5-0.5l4-8z" fill="#41798c"/>
<path d="M1195 1295l-4 6.5l3.5 0l4-7z" fill="#3f628a"/>
<path d="M1159.5 1335l-5 5l3.5 0.5l4.5-5z" fill="#404482"/>
<path d="M1245 1211l-5 3l3.5-0.5l4.5-3z" fill="#4d9d89"/>
<path d="M1218 1253.5l-4 8.5l3.5-0.5l4-8.5z" fill="#427d8c"/>
<path d="M1136.5 1351.5l-5 4.5l3 0.5l5-4.5z" fill="#41387c"/>
<path d="M1126.5 1357l-5 4l3 1l5-4z" fill="#423479"/>
<path d="M1146 1345.5l-4.5 4.5l3 0.5l5-4.5z" fill="#413d7e"/>
<path d="M1221 1246.5l-3.5 9l3.5-0.5l3.5-9.5z" fill="#43838c"/>
<path d="M1116.5 1362l-5 4l3 1l5.5-4z" fill="#423077"/>
<path d="M1156 1339l-5 4.5l3.5 0.5l4.5-5z" fill="#404281"/>
<path d="M1251.5 1210l-5 1l3-1.5l5.5-1.5z" fill="#4e9f88"/>
<path d="M1241 1212.5l-4.5 5l4-0.5l4-5z" fill="#4c9c89"/>
<path d="M1224.5 1239l-4 9l3.5-0.5l4-9z" fill="#45888b"/>
<path d="M1132.5 1354.5l-4.5 4.5l3 0.5l5-4z" fill="#42377b"/>
<path d="M1142.5 1348.5l-5 4.5l3.5 1l5-5z" fill="#413c7e"/>
<path d="M1165.5 1331l-4.5 5.5l3 0l4.5-5z" fill="#404985"/>
<path d="M1123 1360l-5 4l3 1l5-4z" fill="#423379"/>
<path d="M1152.5 1342l-5 5l3.5 0.5l4.5-5z" fill="#414180"/>
<path d="M1227.5 1232l-4 8.5l3.5-0.5l4-8.5z" fill="#478e8b"/>
<path d="M1237.5 1216l-4 6.5l3.5-1l4-6z" fill="#4b9a8a"/>
<path d="M1208 1278l-4 7.5l3-0.5l4.5-7.5z" fill="#40708b"/>
<path d="M1211 1272l-4 7.5l3.5-0.5l4-7.5z" fill="#40748b"/>
<path d="M1204.5 1283.5l-4 7.5l3.5-0.5l4-7.5z" fill="#406c8b"/>
<path d="M1214.5 1266l-4 8l3.5-1l4-7.5z" fill="#41778c"/>
<path d="M1231 1226l-4 8l3.5-0.5l4-8.5z" fill="#49938a"/>
<path d="M1201.5 1289l-4.5 7l3.5-0.5l4-7z" fill="#3f698b"/>
<path d="M1234 1220.5l-4 7l3.5-0.5l4.5-7z" fill="#4a978a"/>
<path d="M1162 1335l-4.5 5l3 0.5l4.5-5.5z" fill="#404784"/>
<path d="M1217.5 1259.5l-4 8l3.5-0.5l4-8z" fill="#427c8c"/>
<path d="M1139 1351.5l-5 4.5l3.5 1l4.5-4.5z" fill="#413a7d"/>
<path d="M1129 1357.5l-5 4l3.5 1l4.5-4z" fill="#42367b"/>
<path d="M1248 1210l-5 3l3.5-1l5-3z" fill="#4f9f88"/>
<path d="M1221 1253l-4 8.5l3.5-1l4-8.5z" fill="#43808c"/>
<path d="M1148.5 1345.5l-4.5 4.5l3 0.5l5-4.5z" fill="#413f80"/>
<path d="M1119 1362.5l-5 4l3 1l5.5-4z" fill="#423279"/>
<path d="M1224 1245.5l-4 9l3.5-0.5l4-9.5z" fill="#44858c"/>
<path d="M1158.5 1338.5l-4.5 5l3 0.5l4.5-5z" fill="#404583"/>
<path d="M1254.5 1209l-5 1l3-2.5l5.5-0.5z" fill="#50a287"/>
<path d="M1135.5 1355l-5 4l3 1l5-4.5z" fill="#41397c"/>
<path d="M1244 1211.5l-4.5 5l4-0.5l4-5z" fill="#4e9f88"/>
<path d="M1125.5 1360.5l-5 4l3 1l5-4.5z" fill="#42357a"/>
<path d="M1145 1348.5l-4.5 5l3 0.5l5-5z" fill="#413e7f"/>
<path d="M1227.5 1238l-4 9.5l3.5-1l4-9.5z" fill="#468b8b"/>
<path d="M1155 1342l-5 5l3.5 0l4.5-4.5z" fill="#404482"/>
<path d="M1230.5 1231.5l-4 8.5l3.5-1l4-8.5z" fill="#48918b"/>
<path d="M1240.5 1215l-4 6.5l3.5-1l4-6z" fill="#4c9c89"/>
<path d="M1210.5 1277l-4 7.5l3.5-0.5l4-7.5z" fill="#40738b"/>
<path d="M1214 1271l-4 8l3.5-1l4-7.5z" fill="#41768c"/>
<path d="M1207.5 1283l-4 7l3-0.5l4.5-7.5z" fill="#406f8b"/>
<path d="M1234 1225l-4 8l3.5-1l4-8z" fill="#4a958a"/>
<path d="M1237 1219.5l-4 7l3.5-0.5l4.5-7z" fill="#4b9a8a"/>
<path d="M1217.5 1265l-4 8l3.5-1l4-7.5z" fill="#417a8c"/>
<path d="M1164.5 1335l-4.5 5l3 0l5-5z" fill="#404a85"/>
<path d="M1131.5 1358l-5 4l3.5 1l5-4.5z" fill="#41387c"/>
<path d="M1141.5 1352l-5 4.5l3.5 0.5l4.5-4.5z" fill="#413d7e"/>
<path d="M1220.5 1258.5l-4 8.5l3.5-1l4-8z" fill="#427e8c"/>
<path d="M1121.5 1363l-5 4l3 1l5.5-4z" fill="#42347a"/>
<path d="M1151.5 1345.5l-5 4.5l3 0.5l5-4.5z" fill="#404281"/>
<path d="M1251 1209l-5 3l3.5-1l5-3z" fill="#50a287"/>
<path d="M1224 1252l-4 8.5l3.5-1l4-8.5z" fill="#43838c"/>
<path d="M1161 1338.5l-4.5 5l3 0l5-5z" fill="#404885"/>
<path d="M1227 1244.5l-4 9l3.5-0.5l4-9.5z" fill="#45888b"/>
<path d="M1138 1355l-5 4.5l3 0.5l5-4.5z" fill="#413c7e"/>
<path d="M1128 1360.5l-5 4l3 1l5-4z" fill="#41377b"/>
<path d="M1148 1348.5l-5 5l3 0l5-4.5z" fill="#414181"/>
<path d="M1247 1210.5l-4.5 5l4-1l4.5-5z" fill="#50a187"/>
<path d="M1230 1237l-3.5 9.5l3.5-1l4-9.5z" fill="#478e8b"/>
<path d="M1157.5 1342l-4.5 5l3 0l5-5z" fill="#404784"/>
<path d="M1233.5 1230l-4 9l3.5-1l4-9z" fill="#49948a"/>
<path d="M1243.5 1214l-4 6l3.5-0.5l4.5-6.5z" fill="#4e9f88"/>
<path d="M1134 1358l-4.5 4.5l3 0.5l5-4.5z" fill="#413b7d"/>
<path d="M1213.5 1276l-4 7.5l3.5-1l4-7.5z" fill="#41758b"/>
<path d="M1237 1224l-4 8l3.5-1l4-8.5z" fill="#4b988a"/>
<path d="M1217 1270l-4 8l3.5-1l4-7.5z" fill="#41798c"/>
<path d="M1144 1352l-4.5 4.5l3 0.5l5-4.5z" fill="#414080"/>
<path d="M1240 1218.5l-4 7l3.5-1l4.5-7z" fill="#4c9c89"/>
<path d="M1124.5 1363.5l-5.5 4l3 0.5l5.5-3.5z" fill="#42377b"/>
<path d="M1220 1264l-4 8l3.5-1l4-8z" fill="#427d8c"/>
<path d="M1223.5 1257.5l-4 8.5l3.5-1l4-8.5z" fill="#43818c"/>
<path d="M1154 1345.5l-5 4.5l3.5 0l4.5-4.5z" fill="#404583"/>
<path d="M1254 1207.5l-5 3l3-1.5l5.5-2.5z" fill="#53a585"/>
<path d="M1227 1251l-4 8.5l3.5-1l4-8.5z" fill="#44868c"/>
<path d="M1164 1338l-5 5l3.5 0l4.5-5z" fill="#404b85"/>
<path d="M1130.5 1361l-5 4l3 0.5l5-4z" fill="#413a7d"/>
<path d="M1140.5 1355l-5 4.5l3 0.5l5-4.5z" fill="#413f7f"/>
<path d="M1230 1243.5l-4 9l3.5-1l4-9.5z" fill="#468b8b"/>
<path d="M1150.5 1348.5l-5 4.5l3 0.5l5-5z" fill="#404482"/>
<path d="M1250 1209l-4 5.5l3.5-1.5l4.5-5z" fill="#52a486"/>
<path d="M1233 1236l-3.5 9l3.5-1l4-9.5z" fill="#48918b"/>
<path d="M1160 1341.5l-4.5 5l3 0l5-5z" fill="#404a85"/>
<path d="M1137 1358l-5 4.5l3 0l5-4z" fill="#413e7f"/>
<path d="M1236.5 1229l-4 8.5l3.5-1l4-8.5z" fill="#4a978a"/>
<path d="M1246.5 1212.5l-4 6.5l3.5-1l4.5-6.5z" fill="#50a287"/>
<path d="M1127 1363.5l-5.5 4l3 0.5l5.5-3.5z" fill="#41397c"/>
<path d="M1147 1352l-5 4.5l3 0l5-4.5z" fill="#404382"/>
<path d="M1240 1222.5l-4 8.5l3.5-1.5l4-8z" fill="#4c9b8a"/>
<path d="M1243 1217.5l-4 6.5l3.5-1l4.5-7z" fill="#4e9f88"/>
<path d="M1216.5 1275l-4 7.5l3.5-1l4-7.5z" fill="#41798c"/>
<path d="M1220 1269l-4 7.5l3-1l4.5-7.5z" fill="#427c8c"/>
<path d="M1223 1263l-4 8l3.5-1.5l4-8z" fill="#43808c"/>
<path d="M1156.5 1345l-4.5 4.5l3 0l5-4.5z" fill="#404985"/>
<path d="M1226.5 1256.5l-4 8l3.5-1l4-8.5z" fill="#44858c"/>
<path d="M1229.5 1249.5l-3.5 8.5l3.5-1l3.5-9z" fill="#45898b"/>
<path d="M1133 1361l-5 4l3 0.5l5-4z" fill="#413d7e"/>
<path d="M1143 1355l-5 4.5l3 0l5-4.5z" fill="#404281"/>
<path d="M1233 1242l-4 9.5l3.5-1.5l4-9.5z" fill="#478f8b"/>
<path d="M1153 1348l-5 5l3 0l5-5z" fill="#404784"/>
<path d="M1253 1207.5l-4 5.5l3.5-1.5l4.5-5.5z" fill="#54a784"/>
<path d="M1163 1341l-5 5l3-0.5l5-4.5z" fill="#404d86"/>
<path d="M1236 1234.5l-3.5 9.5l3.5-1.5l4-9.5z" fill="#49958a"/>
<path d="M1139.5 1358l-5 4.5l3 0l5-4.5z" fill="#414180"/>
<path d="M1129.5 1364l-5.5 3.5l3 0.5l5.5-4z" fill="#413c7e"/>
<path d="M1149.5 1351.5l-5 4.5l3 0l5-4.5z" fill="#404683"/>
<path d="M1239.5 1227.5l-4 9l3.5-1.5l4-9z" fill="#4b9a8a"/>
<path d="M1249.5 1211l-4 6.5l3.5-1.5l4.5-6.5z" fill="#53a585"/>
<path d="M1243 1221l-4 8.5l3.5-1.5l4-8.5z" fill="#4e9e88"/>
<path d="M1246.5 1216l-4.5 7l4-1.5l4-7z" fill="#51a286"/>
<path d="M1159.5 1344.5l-5 4.5l3 0l5-5z" fill="#404c85"/>
<path d="M1223 1267.5l-4.5 8l3.5-1.5l4-8z" fill="#43808c"/>
<path d="M1226 1261.5l-4 8l3.5-1.5l4-8z" fill="#44848c"/>
<path d="M1229.5 1255l-4 8l3.5-1.5l4-8z" fill="#45888b"/>
<path d="M1135.5 1361l-5 4l3 0l5-4z" fill="#414080"/>
<path d="M1145.5 1354.5l-5 4.5l3.5 0l5-4.5z" fill="#404583"/>
<path d="M1232.5 1248l-4 8.5l3.5-1.5l4-8.5z" fill="#478d8b"/>
<path d="M1155.5 1348l-5 4.5l3.5-0.5l4.5-4.5z" fill="#404b85"/>
<path d="M1236 1240.5l-4 9.5l3.5-2l4-9.5z" fill="#48928a"/>
<path d="M1132 1363.5l-5 4l2.5 0.5l5.5-4z" fill="#413f80"/>
<path d="M1256.5 1206l-4.5 5l3.5-1.5l4.5-5.5z" fill="#57aa83"/>
<path d="M1142 1357.5l-5 4.5l3 0l5-4.5z" fill="#404482"/>
<path d="M1239.5 1233l-4 9.5l3.5-2l4-9.5z" fill="#4b988a"/>
<path d="M1152 1351l-5 4.5l3 0l5-4.5z" fill="#404985"/>
<path d="M1242.5 1226l-4 8.5l3.5-1.5l4-9z" fill="#4d9d89"/>
<path d="M1253 1209.5l-4.5 6.5l4-2l4-6.5z" fill="#55a884"/>
<path d="M1162 1344l-5 4.5l3-0.5l5-4.5z" fill="#3f4f86"/>
<path d="M1246 1219.5l-4 8.5l3.5-2l4-8.5z" fill="#50a287"/>
<path d="M1249.5 1214l-4.5 7l4-1.5l4-7z" fill="#53a585"/>
<path d="M1138.5 1360.5l-5.5 4.5l3 0l5.5-4.5z" fill="#404382"/>
<path d="M1229 1259.5l-4 8l3.5-1.5l4-8z" fill="#45888b"/>
<path d="M1148.5 1354l-5 4.5l3 0l5-4.5z" fill="#404885"/>
<path d="M1232.5 1253l-4 8.5l3.5-2l4-8.5z" fill="#468c8b"/>
<path d="M1235.5 1246l-4 9l3.5-2l4-9z" fill="#48918b"/>
<path d="M1158.5 1347l-5 5l3-0.5l5-5z" fill="#404e86"/>
<path d="M1239 1238.5l-4 9.5l3.5-2l4-9.5z" fill="#4a968a"/>
<path d="M1134.5 1363.5l-5 4l2.5 0l5.5-4z" fill="#404281"/>
<path d="M1144.5 1357.5l-5 4l3 0l5-4.5z" fill="#404784"/>
<path d="M1242.5 1231l-4 9.5l3.5-2l4-9.5z" fill="#4c9c8a"/>
<path d="M1154.5 1350.5l-5 4.5l3-0.5l5-4.5z" fill="#404d86"/>
<path d="M1245.5 1224l-4 9l4-2.5l4-8.5z" fill="#50a187"/>
<path d="M1256 1207.5l-4.5 6.5l4-2.5l4-6.5z" fill="#58ac82"/>
<path d="M1249 1217.5l-4 8.5l3.5-2.5l4-8z" fill="#53a585"/>
<path d="M1141 1360l-5.5 4.5l3-0.5l5.5-4z" fill="#404684"/>
<path d="M1252.5 1212l-4 7l3.5-2l4-7z" fill="#56a983"/>
<path d="M1151 1353.5l-5 4.5l3-0.5l5-4.5z" fill="#404c85"/>
<path d="M1232 1257.5l-4 8l3.5-2l4-8z" fill="#468c8b"/>
<path d="M1235.5 1251l-4 8.5l3.5-2.5l4-8.5z" fill="#48908b"/>
<path d="M1238.5 1244l-4 9l3.5-2.5l4.5-9z" fill="#49958a"/>
<path d="M1137 1363l-5 4l3 0l5-4z" fill="#404683"/>
<path d="M1147 1356.5l-5 4.5l3-0.5l5-4z" fill="#404b85"/>
<path d="M1242 1236.5l-4 9.5l3.5-2.5l4-9.5z" fill="#4b9a8a"/>
<path d="M1157.5 1349.5l-5 5l3-1l5-4.5z" fill="#3f5086"/>
<path d="M1263 1201.5l-4.5 5l3.5-2.5l4.5-5z" fill="#5cb27f"/>
<path d="M1245.5 1228.5l-4 9.5l3.5-2l4-10z" fill="#4fa088"/>
<path d="M1143.5 1359.5l-5 4.5l2.5-0.5l5.5-4z" fill="#404a85"/>
<path d="M1249 1221.5l-4 9l3.5-2.5l4-9z" fill="#52a585"/>
<path d="M1259 1205l-4 6.5l3.5-2.5l4.5-6.5z" fill="#5baf80"/>
<path d="M1153.5 1353l-5 4.5l3-0.5l5-5z" fill="#3f4f86"/>
<path d="M1252 1215l-4 8.5l3.5-2.5l4.5-8.5z" fill="#56a983"/>
<path d="M1255.5 1209.5l-4 7.5l3.5-2.5l4.5-7.5z" fill="#58ad82"/>
<path d="M1238.5 1248.5l-4 8.5l3.5-2.5l4-8.5z" fill="#49958a"/>
<path d="M1139.5 1362.5l-5 4l3-0.5l5-4z" fill="#404985"/>
<path d="M1150 1356l-5.5 4.5l3-1l5.5-4z" fill="#3f4e86"/>
<path d="M1242 1241.5l-4 9l3.5-3l4-8.5z" fill="#4b9a8a"/>
<path d="M1245 1234l-4 9.5l3.5-3l4-9.5z" fill="#4e9f88"/>
<path d="M1266 1198.5l-4.5 5.5l3.5-3l4.5-5.5z" fill="#60b67d"/>
<path d="M1248.5 1226l-4 9.5l3.5-2.5l4-10z" fill="#52a486"/>
<path d="M1146 1359l-5 4l2.5-0.5l5.5-4z" fill="#404e86"/>
<path d="M1156 1352l-5 4.5l3-1l5-4.5z" fill="#3f5387"/>
<path d="M1252 1219l-4 9l3.5-3l4-9z" fill="#55a983"/>
<path d="M1255.5 1212.5l-4 8.5l3.5-3l4-8.5z" fill="#59ad81"/>
<path d="M1259 1207l-4.5 7l4-2.5l4-7.5z" fill="#5cb180"/>
<path d="M1142.5 1362l-5.5 4l3-1l5-4z" fill="#404d86"/>
<path d="M1152.5 1355l-5 4.5l2.5-1l5.5-4.5z" fill="#3f5287"/>
<path d="M1245 1238.5l-4 9l3.5-3l4-9z" fill="#4e9e88"/>
<path d="M1248 1231l-3.5 9.5l3.5-3l4-10z" fill="#51a386"/>
<path d="M1148.5 1358l-5 4.5l2.5-1l5.5-4.5z" fill="#3f5186"/>
<path d="M1251.5 1223l-4 9.5l3.5-3l4-9.5z" fill="#55a884"/>
<path d="M1255 1216l-4 9l3.5-3.5l4-9z" fill="#59ad81"/>
<path d="M1265.5 1199l-4.5 6.5l4-3l4-7z" fill="#63b87b"/>
<path d="M1145 1361l-5.5 4l3-1l5-4z" fill="#3f5186"/>
<path d="M1258.5 1209.5l-4 8.5l3.5-3.5l4-8.5z" fill="#5cb17f"/>
<path d="M1262 1204l-4 7l3.5-3l4-7.5z" fill="#5fb57d"/>
<path d="M1183 1330l-5 5.5l2.5-2.5l5-5z" fill="#3f678b"/>
<path d="M1248 1235.5l-4 9l3.5-3.5l4-9z" fill="#51a386"/>
<path d="M1151.5 1357l-5.5 4l2.5-1.5l5.5-4z" fill="#3f5687"/>
<path d="M1251.5 1227.5l-4 9.5l3.5-3.5l4-9.5z" fill="#55a884"/>
<path d="M1254.5 1219.5l-3.5 10l3.5-3.5l4-10z" fill="#59ad81"/>
<path d="M1147.5 1360l-5.5 4l2.5-1.5l5.5-4z" fill="#3f5587"/>
<path d="M1258 1212.5l-4 9l4-3.5l4-9z" fill="#5cb27f"/>
<path d="M1269 1195.5l-4.5 6.5l3.5-3.5l4.5-7z" fill="#6abc76"/>
<path d="M1172 1341l-5.5 4.5l2.5-2.5l5.5-4.5z" fill="#3f638a"/>
<path d="M1261.5 1206l-4 8.5l3.5-4l4.5-8.5z" fill="#61b67c"/>
<path d="M1158 1352.5l-5.5 4l2.5-1.5l5.5-4.5z" fill="#3f5b88"/>
<path d="M1265.5 1200.5l-4.5 7l3.5-3.5l4.5-7.5z" fill="#66b979"/>
<path d="M1182 1332l-5 4.5l2.5-3l5-4.5z" fill="#3f6a8b"/>
<path d="M1154 1355.5l-5.5 4l2.5-1.5l5.5-4.5z" fill="#3f5a88"/>
<path d="M1195.5 1317l-5 6l3-3.5l5-5.5z" fill="#40748b"/>
<path d="M1254.5 1224l-4 9.5l3.5-4l4-10z" fill="#59ad82"/>
<path d="M1150 1358.5l-5.5 4l2.5-2l6-4z" fill="#3f5a88"/>
<path d="M1192 1321.5l-5 5.5l2.5-3.5l5.5-5.5z" fill="#40728b"/>
<path d="M1258 1216l-4 9.5l3.5-4l4-10z" fill="#5db27f"/>
<path d="M1174.5 1338.5l-5.5 4.5l2.5-2.5l5.5-4.5z" fill="#3f688b"/>
<path d="M1261.5 1208.5l-4 9l3.5-4l4-9z" fill="#62b77c"/>
<path d="M1188.5 1325.5l-5 5l2.5-3.5l5-5z" fill="#40708b"/>
<path d="M1265 1202l-4 8.5l3.5-4l4-9z" fill="#68bb77"/>
<path d="M1268.5 1196.5l-4 7l3.5-4l4-7.5z" fill="#6ebe74"/>
<path d="M1156.5 1354l-5.5 4l2.5-2.5l5.5-4z" fill="#3f5f89"/>
<path d="M1167 1345.5l-5.5 4l2.5-2.5l5.5-4.5z" fill="#3f668b"/>
<path d="M1181 1333l-5.5 4.5l2.5-3.5l5.5-4.5z" fill="#406e8b"/>
<path d="M1153 1357l-6 3.5l2.5-2.5l6-3.5z" fill="#3f5f89"/>
<path d="M1257.5 1219.5l-4 10l3.5-5l4.5-9.5z" fill="#5db27f"/>
<path d="M1261 1211.5l-4 10l3.5-5l4.5-10z" fill="#62b77b"/>
<path d="M1163 1348.5l-5.5 4l2.5-2.5l5.5-4z" fill="#3f658a"/>
<path d="M1177.5 1336.5l-5.5 4l2-3.5l5.5-4z" fill="#406d8b"/>
<path d="M1264.5 1204.5l-4 9l3.5-5l4.5-9z" fill="#69bc76"/>
<path d="M1268 1197.5l-4 8.5l3.5-4.5l4.5-9z" fill="#70c072"/>
<path d="M1159.5 1352l-6 3.5l2.5-3l5.5-3.5z" fill="#3f658a"/>
<path d="M1187.5 1326.5l-5.5 4.5l2.5-4.5l5.5-4z" fill="#41748b"/>
<path d="M1169.5 1343l-5.5 4l2.5-3.5l5.5-4z" fill="#3f6b8b"/>
<path d="M1155.5 1355l-5.5 3.5l2-3l6-3.5z" fill="#3f648a"/>
<path d="M1184 1330l-5.5 4.5l2-4.5l5.5-4z" fill="#40738b"/>
<path d="M1261 1214.5l-4 10l3.5-5.5l4-10z" fill="#64b87a"/>
<path d="M1166 1346.5l-6 3.5l2.5-3.5l5.5-3.5z" fill="#3f6a8b"/>
<path d="M1198 1315.5l-5.5 4.5l2.5-5l5-4.5z" fill="#427d8c"/>
<path d="M1180 1333.5l-5.5 4l2.5-4l5.5-4z" fill="#40728b"/>
<path d="M1264.5 1206.5l-4 10l3.5-6l4-10z" fill="#6bbd75"/>
<path d="M1194 1320l-5.5 4l2.5-5.5l5.5-4z" fill="#427b8c"/>
<path d="M1268 1199.5l-4 9l3.5-6l4-9z" fill="#73c171"/>
<path d="M1162 1349.5l-5.5 3.5l2-3.5l6-3.5z" fill="#3f6a8b"/>
<path d="M1176 1337l-5.5 4l2.5-4l5.5-4z" fill="#40718b"/>
<path d="M1190 1323.5l-5 4l2.5-5.5l5-3.5z" fill="#417a8c"/>
<path d="M1172.5 1340.5l-5.5 3.5l2-4l5.5-4z" fill="#40708b"/>
<path d="M1158 1352.5l-5.5 3.5l2-4l6-3z" fill="#3f698b"/>
<path d="M1186.5 1327l-5.5 4l2.5-5.5l5.5-3.5z" fill="#41798c"/>
<path d="M1168.5 1343.5l-5.5 3.5l2-4l5.5-3.5z" fill="#406f8b"/>
<path d="M1182.5 1330.5l-5.5 4l2.5-5.5l5.5-3.5z" fill="#41788c"/>
<path d="M1164.5 1347l-5.5 3l2-4l6-3.5z" fill="#406f8b"/>
<path d="M1196.5 1316l-5 4l2.5-7l5-3.5z" fill="#43828c"/>
<path d="M1178.5 1334l-5 3.5l2-5l5.5-4z" fill="#41778c"/>
<path d="M1192.5 1320l-5 3.5l2.5-7l5.5-3.5z" fill="#43808c"/>
<path d="M1160.5 1350l-5.5 3l2-4.5l6-3z" fill="#406e8b"/>
<path d="M1175 1337.5l-5.5 3.5l2-5.5l5.5-3.5z" fill="#41768c"/>
<path d="M1189 1323.5l-5.5 3.5l3-7l5-3.5z" fill="#427f8c"/>
<path d="M1171 1340.5l-5.5 3.5l2.5-5.5l5.5-3z" fill="#41758b"/>
<path d="M1185 1327l-5 3l2.5-6.5l5-3.5z" fill="#427e8c"/>
<path d="M1167 1344l-5.5 3l2.5-5.5l5.5-3z" fill="#40748b"/>
<path d="M1181 1330l-5 3.5l2.5-6.5l5-3.5z" fill="#427d8c"/>
<path d="M1163 1346.5l-5.5 3l2.5-5l5.5-3z" fill="#40748b"/>
<path d="M1177 1333.5l-5 3.5l2.5-7l5-3z" fill="#427c8c"/>
<path d="M1173 1337l-5 3l2.5-6.5l5-3.5z" fill="#427b8c"/>
<path d="M1169 1340l-5 3l2.5-6.5l5-3z" fill="#427b8c"/>
<path d="M1165 1343l-5 2.5l2.5-6.5l5-2.5z" fill="#417a8c"/>
</g>
<use href="#surf1" filter="url(#bl)" mask="url(#sm1)"/>
<g id="surf2">
<path d="M1464 1325.5l-3.5 1l4 7l3.5-1z" fill="#413f80"/>
<path d="M1460.5 1319.5l-3 1.5l4 7l3-1z" fill="#404482"/>
<path d="M1467 1330.5l-3.5 1.5l4.5 7l3-1.5z" fill="#413b7d"/>
<path d="M1457.5 1313.5l-3.5 1l4 8l3.5-1.5z" fill="#404985"/>
<path d="M1470.5 1336l-3.5 1l4.5 6.5l3-1.5z" fill="#41377b"/>
<path d="M1454.5 1306.5l-3.5 1l4 9l3-1.5z" fill="#3e4c82"/>
<path d="M1473.5 1340.5l-3 1.5l4 6.5l3.5-1.5z" fill="#423479"/>
<path d="M1477 1345.5l-3.5 1.5l4.5 5.5l3.5-1.5z" fill="#423178"/>
<path d="M1451.5 1299l-3.5 1l4 9.5l3-1.5z" fill="#3b4f7d"/>
<path d="M1480.5 1349.5l-3.5 1.5l4.5 5.5l3.5-2z" fill="#432e76"/>
<path d="M1461 1326.5l-3 1l4 7l3.5-1z" fill="#414180"/>
<path d="M1458 1320.5l-3.5 1l4 7.5l3.5-1z" fill="#404583"/>
<path d="M1464.5 1331.5l-3.5 1.5l4.5 6.5l3-1z" fill="#413d7e"/>
<path d="M1455 1314.5l-3.5 1l4 7.5l3.5-1z" fill="#404a85"/>
<path d="M1448.5 1291l-3 1l3.5 9.5l3-1z" fill="#39547d"/>
<path d="M1467.5 1337l-3 1l4 6.5l3.5-1.5z" fill="#41397c"/>
<path d="M1452 1307.5l-3.5 0.5l4 9l3-1z" fill="#3e4e84"/>
<path d="M1484 1353.5l-3.5 1.5l4.5 5l3.5-2z" fill="#432c75"/>
<path d="M1471 1341.5l-3.5 1.5l4.5 6l3.5-1z" fill="#42357a"/>
<path d="M1474.5 1346.5l-3.5 1l4.5 6l3.5-1.5z" fill="#423279"/>
<path d="M1445.5 1282.5l-3 1l3.5 10l3-1z" fill="#37577a"/>
<path d="M1449 1299.5l-3.5 1l3.5 9.5l3.5-1z" fill="#3b517f"/>
<path d="M1487.5 1357l-3.5 1.5l5 4.5l3-1.5z" fill="#432b74"/>
<path d="M1477.5 1350.5l-3 1.5l4.5 5l3.5-1z" fill="#423077"/>
<path d="M1458.5 1327l-3 1l4 7l3-1z" fill="#404281"/>
<path d="M1455.5 1321l-3.5 1l4 7.5l3.5-1z" fill="#404784"/>
<path d="M1446 1291.5l-3.5 1l3.5 10l3.5-1z" fill="#3a567e"/>
<path d="M1462 1332.5l-3.5 1l4.5 6.5l3-1z" fill="#413e7f"/>
<path d="M1452 1315l-3 1l4 7.5l3-0.5z" fill="#404c85"/>
<path d="M1465 1337.5l-3 1l4 6.5l3.5-1z" fill="#413b7d"/>
<path d="M1443 1273.5l-3.5 1l3.5 10.5l3-1z" fill="#365c78"/>
<path d="M1449 1308l-3 0.5l3.5 9l3.5-1z" fill="#3f5185"/>
<path d="M1481 1354.5l-3 1.5l4.5 5l3.5-1.5z" fill="#432e76"/>
<path d="M1491 1360l-3.5 2l5 4l3-1.5z" fill="#442a74"/>
<path d="M1468.5 1342.5l-3.5 1l4.5 6.5l3-1.5z" fill="#41377b"/>
<path d="M1443 1283l-3.5 1l3.5 10.5l3.5-1z" fill="#38597b"/>
<path d="M1471.5 1347l-3 1.5l4.5 5.5l3-1z" fill="#423479"/>
<path d="M1446 1300.5l-3 0.5l3.5 9.5l3.5-0.5z" fill="#3c5381"/>
<path d="M1484.5 1358l-3 1.5l5 4.5l3-1.5z" fill="#432c75"/>
<path d="M1440 1264.5l-3.5 0.5l3.5 11.5l3.5-1z" fill="#366177"/>
<path d="M1475 1351.5l-3 1l4.5 5.5l3.5-1.5z" fill="#423278"/>
<path d="M1456 1327.5l-3.5 1l4.5 7l3-1z" fill="#404482"/>
<path d="M1452.5 1321.5l-3 1l4 7.5l3.5-1z" fill="#404985"/>
<path d="M1443 1292.5l-3 0.5l3.5 10l3.5-1z" fill="#3a5880"/>
<path d="M1459 1333l-3 1l4 6.5l3.5-0.5z" fill="#414080"/>
<path d="M1449.5 1315.5l-3 0.5l4 8l3-0.5z" fill="#404e86"/>
<path d="M1440 1274.5l-3 0.5l3.5 11l3-1z" fill="#375e79"/>
<path d="M1462.5 1338l-3.5 1l4.5 6.5l3.5-1z" fill="#413d7e"/>
<path d="M1488.5 1361.5l-3.5 1.5l5 4l3-1.5z" fill="#432b75"/>
<path d="M1478.5 1355.5l-3 1l4.5 5l3.5-1z" fill="#433077"/>
<path d="M1446.5 1308.5l-3.5 0.5l4 9l3.5-1z" fill="#3f5387"/>
<path d="M1466 1343l-3.5 1l4.5 6.5l3-1z" fill="#41397c"/>
<path d="M1440 1284l-3 0.5l3.5 10.5l3.5-1z" fill="#395c7d"/>
<path d="M1437 1254.5l-3 1l3 11.5l3.5-1z" fill="#366575"/>
<path d="M1469 1348l-3 0.5l4.5 6l3-1z" fill="#42367b"/>
<path d="M1443.5 1301l-3.5 0.5l4 9.5l3-1z" fill="#3c5682"/>
<path d="M1482 1359l-3 1l5 5l3-1.5z" fill="#432e76"/>
<path d="M1437 1265l-3 0.5l3.5 11.5l3-1z" fill="#376378"/>
<path d="M1472.5 1352l-3 1l4.5 5.5l3-1z" fill="#423479"/>
<path d="M1440.5 1293l-3.5 0l4 10l3-0.5z" fill="#3b5b81"/>
<path d="M1453.5 1328l-3.5 0.5l4 7l3.5-0.5z" fill="#404784"/>
<path d="M1450 1322l-3 0.5l4 7.5l3-0.5z" fill="#404b85"/>
<path d="M1437.5 1275l-3.5 0.5l3.5 10.5l3.5-0.5z" fill="#38607a"/>
<path d="M1456.5 1333.5l-3 0.5l4 7l3.5-1z" fill="#404381"/>
<path d="M1447 1316l-3.5 0.5l4 8l3.5-0.5z" fill="#3f5086"/>
<path d="M1485.5 1362l-3 1.5l5 4.5l3-1.5z" fill="#432d76"/>
<path d="M1460 1338.5l-3.5 1l4.5 6.5l3-1z" fill="#413f7f"/>
<path d="M1476 1356l-3 1l4.5 5l3.5-1z" fill="#423278"/>
<path d="M1434 1245l-3 0.5l3.5 12l3-1z" fill="#376a74"/>
<path d="M1444 1309l-3.5 0l4 9l3-0.5z" fill="#3f5587"/>
<path d="M1463 1343.5l-3 0.5l4.5 6.5l3-0.5z" fill="#413b7d"/>
<path d="M1434.5 1255.5l-3.5 0.5l3.5 11.5l3-0.5z" fill="#376776"/>
<path d="M1437.5 1284l-3 0.5l3.5 10.5l3-0.5z" fill="#395e7e"/>
<path d="M1466.5 1348.5l-3 0.5l4.5 6l3-1z" fill="#41387c"/>
<path d="M1441 1301l-3.5 0.5l4 9.5l3-0.5z" fill="#3c5883"/>
<path d="M1479.5 1359.5l-3 1l5 5l3-1z" fill="#423077"/>
<path d="M1434.5 1265.5l-3.5 0.5l3.5 11l3.5-0.5z" fill="#386579"/>
<path d="M1470 1352.5l-3 1l4.5 5.5l3-1z" fill="#42367a"/>
<path d="M1438 1293l-3.5 0.5l3.5 9.5l3.5 0z" fill="#3b5d82"/>
<path d="M1434.5 1275l-3 0.5l3.5 11l3-0.5z" fill="#38627b"/>
<path d="M1431.5 1234.5l-3.5 0.5l3.5 12.5l3-1z" fill="#386e71"/>
<path d="M1450.5 1328l-3 0.5l4 7.5l3.5-0.5z" fill="#404985"/>
<path d="M1447.5 1322.5l-3.5 0l4.5 7.5l3 0z" fill="#404d86"/>
<path d="M1454 1333.5l-3 0.5l4 7l3-0.5z" fill="#404583"/>
<path d="M1444.5 1316l-3.5 0.5l4 8l3-0.5z" fill="#3f5287"/>
<path d="M1483 1363l-3 1l5 4.5l3-1.5z" fill="#432f77"/>
<path d="M1431.5 1245.5l-3.5 0.5l3.5 12l3.5-0.5z" fill="#376c75"/>
<path d="M1457.5 1339l-3.5 0.5l4.5 6.5l3-0.5z" fill="#414181"/>
<path d="M1473.5 1356.5l-3 1l4.5 5l3.5-1z" fill="#423479"/>
<path d="M1441 1309l-3 0l4 9l3 0z" fill="#3f5888"/>
<path d="M1431.5 1256l-3 0.5l3 11.5l3.5-0.5z" fill="#386977"/>
<path d="M1460.5 1344l-3 0.5l4.5 6l3-0.5z" fill="#413e7f"/>
<path d="M1435 1284.5l-3.5 0l3.5 10.5l3.5 0z" fill="#3a607f"/>
<path d="M1464 1348.5l-3 0.5l4.5 6l3-0.5z" fill="#413b7d"/>
<path d="M1438 1301l-3 0.5l3.5 9.5l3.5-0.5z" fill="#3d5b85"/>
<path d="M1431.5 1266l-3 0l3.5 11.5l3-0.5z" fill="#38677a"/>
<path d="M1477 1360l-3 1l5 4.5l3-0.5z" fill="#423278"/>
<path d="M1428.5 1223.5l-3 1l3 12.5l3.5-1z" fill="#3a756f"/>
<path d="M1467.5 1353l-3 0.5l4.5 5.5l3-0.5z" fill="#41387c"/>
<path d="M1428.5 1235l-3 0.5l3 12.5l3.5-0.5z" fill="#387172"/>
<path d="M1435 1293l-3 0l3.5 10l3 0z" fill="#3c6084"/>
<path d="M1432 1275.5l-3.5 0l3.5 11l3.5-0.5z" fill="#39647c"/>
<path d="M1428.5 1246l-3 0l3.5 12l3 0z" fill="#386e76"/>
<path d="M1448 1328l-3 0.5l4 7l3 0z" fill="#404c85"/>
<path d="M1445 1322.5l-3.5 0l4 7.5l3.5 0z" fill="#3f5086"/>
<path d="M1480.5 1363.5l-3 1l5 4l3-1z" fill="#423178"/>
<path d="M1451.5 1334l-3.5 0l4.5 7l3-0.5z" fill="#404884"/>
<path d="M1441.5 1316l-3 0l4 8l3 0z" fill="#3f5587"/>
<path d="M1471 1357l-3 0.5l4.5 5l3-0.5z" fill="#42367b"/>
<path d="M1454.5 1339l-3 0l4.5 7l3-0.5z" fill="#404482"/>
<path d="M1429 1256l-3.5 0.5l3.5 11.5l3-0.5z" fill="#386b78"/>
<path d="M1438.5 1309l-3-0.5l3.5 9l3.5 0.5z" fill="#3f5a88"/>
<path d="M1458 1344l-3 0l4.5 6.5l3 0z" fill="#414080"/>
<path d="M1432 1284.5l-3 0l3.5 10.5l3 0z" fill="#3a6380"/>
<path d="M1429 1266l-3.5 0l3.5 11.5l3.5-0.5z" fill="#39697b"/>
<path d="M1461.5 1349l-3 0l4.5 6l3-0.5z" fill="#413d7f"/>
<path d="M1425.5 1213.5l-3 1l3.5 12l3-1z" fill="#3e8073"/>
<path d="M1474.5 1360.5l-3 0.5l5 5l3-1z" fill="#42347a"/>
<path d="M1435.5 1301l-3.5 0l4 9.5l3 0z" fill="#3e5f87"/>
<path d="M1426 1224.5l-3.5 0.5l3.5 12.5l3-0.5z" fill="#3a7770"/>
<path d="M1426 1235.5l-3.5 0l3.5 12.5l3 0z" fill="#397372"/>
<path d="M1465 1353l-3 0.5l4.5 5.5l3-0.5z" fill="#413b7d"/>
<path d="M1426 1246l-3.5 0.5l3.5 12l3.5-0.5z" fill="#397076"/>
<path d="M1429 1275.5l-3 0l3.5 11l3 0z" fill="#3a677d"/>
<path d="M1432.5 1293l-3.5-0.5l4 10l3 0.5z" fill="#3d6486"/>
<path d="M1478 1364l-3 0.5l5 4.5l3-1z" fill="#423379"/>
<path d="M1445.5 1328l-3-0.5l4 7.5l3 0z" fill="#3f4f86"/>
<path d="M1442 1322l-3-0.5l4 8l3.5 0z" fill="#3f5387"/>
<path d="M1449 1333.5l-3.5 0l4.5 7l3 0z" fill="#404b85"/>
<path d="M1426 1256.5l-3.5 0l3.5 11.5l3.5 0z" fill="#396d79"/>
<path d="M1439 1315.5l-3 0l4 8l3 0.5z" fill="#3f5888"/>
<path d="M1468.5 1357l-3 0.5l4.5 5l3-0.5z" fill="#41397c"/>
<path d="M1422.5 1204l-3 1l3.5 11.5l3-1z" fill="#448973"/>
<path d="M1452 1339l-3-0.5l4.5 7l3 0z" fill="#404784"/>
<path d="M1436 1308.5l-3.5-0.5l4 9l3 0.5z" fill="#3f5d89"/>
<path d="M1423 1214.5l-3.5 0l3.5 12l3.5-0.5z" fill="#3f8374"/>
<path d="M1429.5 1284.5l-3.5-0.5l4 10.5l3 0.5z" fill="#3b6681"/>
<path d="M1455.5 1344l-3-0.5l4.5 6.5l3 0z" fill="#404382"/>
<path d="M1426 1266l-3 0l3.5 11l3 0z" fill="#3a6c7c"/>
<path d="M1423 1224.5l-3.5 0.5l3.5 12.5l3.5-0.5z" fill="#3b7a71"/>
<path d="M1472 1360.5l-3 0.5l5 5l3-0.5z" fill="#41377b"/>
<path d="M1459 1348.5l-3 0l4.5 6l3 0z" fill="#414080"/>
<path d="M1432.5 1300.5l-3-0.5l4 10l3 0.5z" fill="#3e6389"/>
<path d="M1423 1235.5l-3.5 0l3.5 12.5l3.5 0z" fill="#3a7573"/>
<path d="M1402.5 1170.5l-3.5 1l5 2l3.5-1z" fill="#67ba78"/>
<path d="M1419.5 1195l-3 0.5l3.5 11l3.5-0.5z" fill="#499171"/>
<path d="M1423 1246l-3 0l3 12l3.5 0z" fill="#3a7377"/>
<path d="M1462.5 1353l-3 0l4.5 5.5l3 0z" fill="#413e7f"/>
<path d="M1426.5 1275l-3.5 0l3.5 11l3.5 0z" fill="#3b6a7f"/>
<path d="M1429.5 1292.5l-3-0.5l3.5 10l3.5 0.5z" fill="#3e6787"/>
<path d="M1420 1204.5l-3.5 0.5l3.5 11.5l3.5-0.5z" fill="#458c73"/>
<path d="M1475.5 1364l-3 0.5l5 4.5l3-0.5z" fill="#42367b"/>
<path d="M1423 1256l-3 0l3.5 12l3 0z" fill="#3a707a"/>
<path d="M1443 1327.5l-3.5-0.5l4.5 7.5l3 0.5z" fill="#3f5286"/>
<path d="M1439.5 1321.5l-3-0.5l4 7.5l3 0.5z" fill="#3f5687"/>
<path d="M1466 1357l-3 0l4.5 5l3 0z" fill="#413c7e"/>
<path d="M1446 1333l-3-0.5l4.5 7l3 0.5z" fill="#404e86"/>
<path d="M1420 1214.5l-3.5 0.5l3.5 12l3.5-0.5z" fill="#418574"/>
<path d="M1436.5 1315l-3.5-0.5l4 8l3.5 1z" fill="#3f5b88"/>
<path d="M1416.5 1186l-3.5 0.5l4 11l3.5-1z" fill="#519d73"/>
<path d="M1406 1171.5l-3.5 1l5 4l3.5-1z" fill="#66ba78"/>
<path d="M1449.5 1338.5l-3-0.5l4.5 6.5l3 0.5z" fill="#404a85"/>
<path d="M1420 1225l-3 0l3 12.5l3.5 0z" fill="#3c7c72"/>
<path d="M1433 1308l-3-1l4 9.5l3 0.5z" fill="#3f6089"/>
<path d="M1426.5 1284l-3-1l3.5 11l3 0.5z" fill="#3c6983"/>
<path d="M1453 1343.5l-3-0.5l4.5 6.5l3 0.5z" fill="#404784"/>
<path d="M1423.5 1266l-3.5-0.5l3.5 11l3.5 0.5z" fill="#3b6f7e"/>
<path d="M1420 1235.5l-3 0l3.5 12.5l3 0z" fill="#3b7874"/>
<path d="M1399.5 1171l-3.5 0.5l5 2.5l3.5-1z" fill="#68bb77"/>
<path d="M1417 1195.5l-3.5 0l3.5 11.5l3.5-0.5z" fill="#4b9472"/>
<path d="M1469.5 1360.5l-3 0l5 5l3 0z" fill="#413a7d"/>
<path d="M1456.5 1348l-3 0l4.5 6l3 0z" fill="#404482"/>
<path d="M1413.5 1178l-3.5 0.5l4 10l3.5-1z" fill="#57a572"/>
<path d="M1430 1300l-3-0.5l3.5 9.5l3.5 0.5z" fill="#3f678a"/>
<path d="M1410 1174l-4 1l4.5 5l4-0.5z" fill="#65b87a"/>
<path d="M1420.5 1246l-3.5 0l3.5 12l3 0z" fill="#3b7678"/>
<path d="M1417 1205l-3.5 0l3.5 11.5l3.5 0z" fill="#478e74"/>
<path d="M1423.5 1274.5l-3-0.5l3.5 11l3 0.5z" fill="#3c6d80"/>
<path d="M1460 1352.5l-3 0l4.5 5.5l3 0z" fill="#414181"/>
<path d="M1473 1364l-3 0l5 4.5l3 0z" fill="#41397c"/>
<path d="M1427 1292l-3-1l3.5 10l3 1z" fill="#3e6b89"/>
<path d="M1413.5 1186.5l-3 0.5l3.5 10.5l3.5-0.5z" fill="#53a074"/>
<path d="M1420.5 1256l-3.5-0.5l3.5 11.5l3.5 0.5z" fill="#3b737b"/>
<path d="M1417 1214.5l-3 0l3.5 12.5l3-0.5z" fill="#428774"/>
<path d="M1403.5 1172l-4 0.5l5 4l3.5-0.5z" fill="#68bb77"/>
<path d="M1440 1326.5l-3-0.5l4.5 7.5l3 0.5z" fill="#3f5587"/>
<path d="M1437 1320.5l-3-0.5l4 8l3 0.5z" fill="#3f5a88"/>
<path d="M1463.5 1356.5l-3 0l4.5 5l3 0z" fill="#413f80"/>
<path d="M1417.5 1225l-3.5-0.5l3.5 13l3 0z" fill="#3d7e72"/>
<path d="M1443.5 1332.5l-3-1l4.5 7l3 1z" fill="#3f5186"/>
<path d="M1433.5 1314.5l-3-1l4 8l3 1z" fill="#3f5e89"/>
<path d="M1396.5 1171l-3.5 0.5l5 2l3.5-0.5z" fill="#6bbc76"/>
<path d="M1414 1195.5l-3.5 0l3.5 11.5l3.5 0z" fill="#4c9672"/>
<path d="M1447 1337.5l-3-0.5l4 7l3.5 0.5z" fill="#404e86"/>
<path d="M1417.5 1235.5l-3.5-0.5l3.5 12.5l3.5 0.5z" fill="#3c7a75"/>
<path d="M1410.5 1178l-3.5 0.5l4 10l3.5-0.5z" fill="#59a772"/>
<path d="M1424 1283l-3.5-1l4 11l3 0.5z" fill="#3d6d84"/>
<path d="M1420.5 1265l-3-0.5l3.5 11.5l3 0.5z" fill="#3c737f"/>
<path d="M1430.5 1307l-3-1l3.5 9.5l3.5 0.5z" fill="#3f648a"/>
<path d="M1407 1174.5l-3.5 0.5l4.5 5.5l3.5-1z" fill="#66ba79"/>
<path d="M1450.5 1342.5l-3-0.5l4 6.5l3.5 0.5z" fill="#404a85"/>
<path d="M1467 1360l-3 0l5 5l3 0z" fill="#413e7f"/>
<path d="M1414 1205l-3.5 0l4 11.5l3 0z" fill="#489174"/>
<path d="M1417.5 1245.5l-3.5-0.5l3.5 12.5l3.5 0.5z" fill="#3d7979"/>
<path d="M1454 1347.5l-3-0.5l4.5 6l3 0.5z" fill="#404784"/>
<path d="M1427.5 1299l-3.5-0.5l4 9.5l3 1z" fill="#3f6a8b"/>
<path d="M1411 1186.5l-3.5 0l3.5 11l3.5 0z" fill="#54a375"/>
<path d="M1400.5 1172l-4 0.5l5 4l3.5-0.5z" fill="#6abc76"/>
<path d="M1421 1274l-3.5-1l4 11l3 1z" fill="#3c7182"/>
<path d="M1414.5 1214.5l-3.5 0l3.5 12l3.5 0z" fill="#448a74"/>
<path d="M1457 1352l-2.5-0.5l4.5 5.5l3 0.5z" fill="#404583"/>
<path d="M1470.5 1363.5l-3 0l5 4.5l3 0z" fill="#413c7e"/>
<path d="M1417.5 1255.5l-3-1l3.5 12l3 0.5z" fill="#3d777c"/>
<path d="M1424.5 1291l-3.5-1l4 10l3 1z" fill="#3f6e89"/>
<path d="M1414.5 1224.5l-3.5-0.5l3.5 13l3.5 0.5z" fill="#3f8173"/>
<path d="M1393.5 1171l-3.5 0.5l5.5 2l3-0.5z" fill="#6dbe74"/>
<path d="M1411 1195.5l-3.5 0l4 11.5l3 0z" fill="#4e9973"/>
<path d="M1407.5 1178.5l-3.5 0l4 10l3.5 0z" fill="#5caa72"/>
<path d="M1404 1174.5l-3.5 0.5l4.5 5.5l3.5-0.5z" fill="#68bb77"/>
<path d="M1461 1356l-3-0.5l4.5 5l3 0.5z" fill="#404382"/>
<path d="M1437.5 1326l-3-1l4 7.5l3.5 0.5z" fill="#3f5988"/>
<path d="M1434.5 1320l-3.5-1l4.5 7.5l3 1z" fill="#3f5d89"/>
<path d="M1441 1331.5l-3-1l4 7l3.5 1z" fill="#3f5587"/>
<path d="M1431 1313.5l-3-1l4 8l3 1z" fill="#3f628a"/>
<path d="M1414.5 1235l-3-0.5l3 12.5l3.5 0.5z" fill="#3e7e76"/>
<path d="M1444.5 1337l-3-1l4 7l3 0.5z" fill="#3f5186"/>
<path d="M1418 1264.5l-3.5-1l3.5 11.5l3.5 0.5z" fill="#3d7680"/>
<path d="M1421 1282l-3-1l3.5 11l3.5 1z" fill="#3e7085"/>
<path d="M1428 1306l-3.5-1l4 9l3 1z" fill="#3f678b"/>
<path d="M1411 1205l-3-0.5l3.5 12l3.5 0z" fill="#4a9374"/>
<path d="M1448 1342l-3.5-1l4.5 6.5l3 1z" fill="#3f4e86"/>
<path d="M1464.5 1359.5l-3 0l5 4.5l3 0.5z" fill="#414181"/>
<path d="M1414.5 1245l-3-1l3.5 12.5l3 0.5z" fill="#3e7d7a"/>
<path d="M1408 1186.5l-3.5 0l3.5 11l3.5 0z" fill="#56a575"/>
<path d="M1397.5 1172l-4 0l5 4l3.5 0z" fill="#6dbe74"/>
<path d="M1451 1346.5l-3-0.5l5 6l3 1z" fill="#404b85"/>
<path d="M1424.5 1298l-3-1l4 10l3 1z" fill="#406d8b"/>
<path d="M1411.5 1214.5l-3.5-0.5l3.5 12l3.5 0.5z" fill="#458d75"/>
<path d="M1418 1273l-3-1.5l3.5 11.5l3 1z" fill="#3d7483"/>
<path d="M1454.5 1351l-3-0.5l5 5.5l3 0.5z" fill="#404985"/>
<path d="M1415 1254.5l-3.5-1l3.5 12l3.5 0.5z" fill="#3e7b7d"/>
<path d="M1390.5 1171l-3.5 0l5.5 2l3 0z" fill="#70bf73"/>
<path d="M1468 1363l-3-0.5l5.5 4.5l2.5 0.5z" fill="#414080"/>
<path d="M1408 1195.5l-3.5-0.5l4 11.5l3.5 0z" fill="#509b73"/>
<path d="M1404.5 1178.5l-3.5 0l4 10l3.5 0z" fill="#5fad71"/>
<path d="M1411.5 1224l-3-0.5l3 13l3.5 0.5z" fill="#408574"/>
<path d="M1401 1174.5l-3.5 0l4.5 5.5l3.5 0z" fill="#6bbc76"/>
<path d="M1421.5 1290l-3-1.5l3.5 10.5l3.5 1z" fill="#40728a"/>
<path d="M1411.5 1234.5l-3-1l3.5 12.5l3 1z" fill="#3f8277"/>
<path d="M1458.5 1355l-3-0.5l4.5 5.5l3 0.5z" fill="#404784"/>
<path d="M1435 1324.5l-3-0.5l4 7.5l3 0.5z" fill="#3f5d89"/>
<path d="M1431.5 1318.5l-3-1l4 8l3.5 1z" fill="#3f618a"/>
<path d="M1408.5 1204.5l-3.5-0.5l3.5 12l3.5 0z" fill="#4c9674"/>
<path d="M1438.5 1330.5l-3.5-1l4.5 7l3 1z" fill="#3f5988"/>
<path d="M1428.5 1312l-3.5-1l4.5 8.5l3 1z" fill="#3f668a"/>
<path d="M1415 1263.5l-3-1.5l3.5 11.5l3 1z" fill="#3e7a81"/>
<path d="M1442 1336l-3.5-1l4.5 7l3 0.5z" fill="#3f5587"/>
<path d="M1405 1186.5l-3.5-0.5l4 11l3 0z" fill="#58a875"/>
<path d="M1418.5 1281l-3-1.5l3.5 11l3 1z" fill="#3e7486"/>
<path d="M1394.5 1171.5l-3.5 0.5l4.5 4l3.5-0.5z" fill="#6fbf73"/>
<path d="M1425 1305l-3-1l4 9l3 1z" fill="#3f6b8b"/>
<path d="M1445 1341l-3-1l4.5 6.5l3 1z" fill="#3f5286"/>
<path d="M1412 1244l-3.5-1l3.5 12l3.5 1.5z" fill="#3f807b"/>
<path d="M1462 1359l-3-0.5l5 5l3 0.5z" fill="#404583"/>
<path d="M1408.5 1214l-3.5-1l4 12.5l3 0.5z" fill="#489075"/>
<path d="M1448.5 1346l-3-1l4.5 6l3.5 1z" fill="#3f4f86"/>
<path d="M1422 1297l-3-1.5l3.5 10l3.5 1z" fill="#40708b"/>
<path d="M1402 1178l-3.5 0l3.5 10l3.5 0z" fill="#62af70"/>
<path d="M1405 1195l-3-0.5l3.5 11.5l3.5 0.5z" fill="#529e73"/>
<path d="M1398 1174.5l-3.5 0l4.5 5l3.5 0z" fill="#6dbe74"/>
<path d="M1415.5 1271.5l-3.5-1l4 11l3 1.5z" fill="#3e7883"/>
<path d="M1408.5 1223.5l-3-1l3.5 13l3 0.5z" fill="#438874"/>
<path d="M1412 1253.5l-3-1.5l3.5 12l3 1z" fill="#3f7e7e"/>
<path d="M1452 1350.5l-3-1l5 5.5l3 1z" fill="#404c85"/>
<path d="M1465.5 1362.5l-3-0.5l5.5 4.5l2.5 0.5z" fill="#404482"/>
<path d="M1419 1288.5l-3.5-1l4 10l3 1z" fill="#40758b"/>
<path d="M1409 1233.5l-3.5-1.5l3.5 13l3.5 1z" fill="#418578"/>
<path d="M1405.5 1204l-3.5-0.5l3.5 11.5l3.5 0.5z" fill="#4e9a75"/>
<path d="M1456 1354.5l-3-1l4.5 5.5l3 0.5z" fill="#404b85"/>
<path d="M1402 1186l-3.5-0.5l4 11l3.5 0.5z" fill="#5bab74"/>
<path d="M1432.5 1323.5l-3.5-1l4.5 7.5l3 1z" fill="#3f6189"/>
<path d="M1429 1317.5l-3-1.5l4 8l3 1.5z" fill="#3f658a"/>
<path d="M1391.5 1171l-3.5 0l4.5 4l3.5 0.5z" fill="#72c171"/>
<path d="M1435.5 1329.5l-3-1.5l4.5 7.5l3 1z" fill="#3f5d89"/>
<path d="M1425.5 1311l-3-1.5l4 8.5l3 1.5z" fill="#3f698b"/>
<path d="M1412.5 1262l-3.5-1.5l3.5 11.5l3.5 1.5z" fill="#407d81"/>
<path d="M1415.5 1279.5l-3-1l3.5 10.5l3.5 1.5z" fill="#3f7786"/>
<path d="M1439 1334.5l-3-1l4.5 7l3 1z" fill="#3f5988"/>
<path d="M1422.5 1303.5l-3-1.5l3.5 9.5l3.5 1.5z" fill="#406e8b"/>
<path d="M1409 1243l-3-1.5l3.5 12.5l3 1z" fill="#41847b"/>
<path d="M1405.5 1213l-3-1l3.5 12.5l3 0.5z" fill="#4a9475"/>
<path d="M1442.5 1340l-3-1.5l4.5 7l3 1z" fill="#3f5687"/>
<path d="M1459.5 1358l-3-0.5l5 5l3 0.5z" fill="#404985"/>
<path d="M1399 1177.5l-3.5-0.5l3.5 10.5l3.5 0.5z" fill="#65b36f"/>
<path d="M1395 1174l-3.5-0.5l4.5 5.5l3.5 0.5z" fill="#70c072"/>
<path d="M1384 1170l-3-1l5.5 1.5l3 1.5z" fill="#76c36f"/>
<path d="M1402.5 1194.5l-3.5-1l3.5 11.5l3.5 1z" fill="#54a274"/>
<path d="M1446 1345l-3-1.5l4.5 6.5l3 1z" fill="#3f5387"/>
<path d="M1419.5 1295.5l-3.5-1.5l4 10l3 1.5z" fill="#40738b"/>
<path d="M1406 1222.5l-3.5-1.5l3.5 13l3.5 1z" fill="#458c74"/>
<path d="M1412.5 1270l-3-1l3.5 11l3 1.5z" fill="#3f7b83"/>
<path d="M1409.5 1252l-3.5-1.5l3.5 12l3.5 1.5z" fill="#41827e"/>
<path d="M1463 1361.5l-3-0.5l5.5 4.5l2.5 0.5z" fill="#404884"/>
<path d="M1416 1287l-3-1.5l3.5 10.5l3.5 1.5z" fill="#41798c"/>
<path d="M1402.5 1203l-3.5-1l4 12l3 1z" fill="#519e75"/>
<path d="M1399 1185.5l-3.5-1l4 11l3.5 1z" fill="#5faf73"/>
<path d="M1406 1232l-3.5-1.5l3.5 13l3.5 1.5z" fill="#428978"/>
<path d="M1388.5 1170.5l-3.5-0.5l4.5 4l3.5 0.5z" fill="#76c36f"/>
<path d="M1453 1353.5l-2.5-1l4.5 5l3 1z" fill="#3f4e86"/>
<path d="M1429.5 1322l-3-1.5l4.5 7.5l3 1.5z" fill="#3f658a"/>
<path d="M1426.5 1316l-3.5-1.5l4.5 8l3 1.5z" fill="#3f698b"/>
<path d="M1409.5 1260.5l-3-1.5l3.5 12l3 1z" fill="#418181"/>
<path d="M1433 1328l-3-1.5l4.5 7l3 1.5z" fill="#3f6189"/>
<path d="M1423 1309.5l-3-1.5l4 8l3 2z" fill="#406d8b"/>
<path d="M1413 1278l-3.5-1.5l4 11l3 1.5z" fill="#407b88"/>
<path d="M1403 1212l-3.5-1.5l3.5 12.5l3.5 1z" fill="#4d9775"/>
<path d="M1396 1177l-3.5-1l3.5 10.5l3.5 0.5z" fill="#6ab76f"/>
<path d="M1406 1241.5l-3-1.5l3.5 12.5l3 1.5z" fill="#42887c"/>
<path d="M1392 1173l-3.5-0.5l4.5 5.5l3.5 0.5z" fill="#74c270"/>
<path d="M1436.5 1333.5l-3-1.5l4.5 7l3 1z" fill="#3f5d89"/>
<path d="M1381 1169.5l-3-2l5.5 1.5l3 2z" fill="#7ac56d"/>
<path d="M1419.5 1302l-3-1.5l4 9l3 2z" fill="#40718b"/>
<path d="M1399.5 1193.5l-3.5-1l3.5 11.5l3.5 1z" fill="#57a674"/>
<path d="M1457 1357l-3-1l5 5l3 1z" fill="#404d86"/>
<path d="M1440 1338.5l-3-1.5l4.5 7l3 1z" fill="#3f5a88"/>
<path d="M1443.5 1343.5l-3-1.5l4.5 6.5l3 1z" fill="#3f5788"/>
<path d="M1403 1221l-3.5-1.5l3.5 13l3.5 1.5z" fill="#478f74"/>
<path d="M1416.5 1294l-3-2l3.5 10l3.5 2z" fill="#41778c"/>
<path d="M1410 1269l-3.5-2l4 11.5l3 1.5z" fill="#418084"/>
<path d="M1406.5 1250.5l-3.5-1.5l4 12l3 1.5z" fill="#42857e"/>
<path d="M1460.5 1360.5l-3-1l5.5 4.5l2.5 1z" fill="#404c85"/>
<path d="M1399.5 1202l-3-1.5l3.5 12l3.5 1.5z" fill="#53a175"/>
<path d="M1396 1184.5l-3.5-1.5l4 11.5l3.5 1z" fill="#64b372"/>
<path d="M1447 1348l-3-1.5l5 6l3 1z" fill="#3f5587"/>
<path d="M1385.5 1169.5l-3.5-1l5 4l3 1z" fill="#7ac56d"/>
<path d="M1403 1230.5l-3-1.5l3.5 13l3 1.5z" fill="#458c77"/>
<path d="M1413.5 1285.5l-3.5-2l4 10.5l3 2z" fill="#427d8c"/>
<path d="M1450.5 1352l-2.5-1.5l4.5 5.5l3 1.5z" fill="#3f5387"/>
<path d="M1393 1176l-3.5-1l4 10l3 1z" fill="#6fbb6e"/>
<path d="M1389 1172l-3.5-1l4.5 5.5l3.5 1z" fill="#78c46e"/>
<path d="M1406.5 1259l-3-1.5l3.5 11.5l3.5 1.5z" fill="#428582"/>
<path d="M1400 1210.5l-3.5-1.5l3.5 12.5l3.5 1.5z" fill="#4f9b75"/>
<path d="M1427 1320.5l-3-2l4 7.5l3.5 2z" fill="#3f698b"/>
<path d="M1423.5 1314l-3-1.5l4 8l3.5 1.5z" fill="#406d8b"/>
<path d="M1403.5 1240l-3.5-1.5l3.5 12.5l3.5 1.5z" fill="#438b7c"/>
<path d="M1396.5 1192.5l-3.5-1.5l4 11.5l3 1.5z" fill="#5baa72"/>
<path d="M1430.5 1326l-3-1.5l4.5 7l3 2z" fill="#3f658a"/>
<path d="M1420.5 1307.5l-3.5-2l4.5 8.5l3 2z" fill="#40718b"/>
<path d="M1410 1276.5l-3-2l3.5 11l3.5 2z" fill="#428089"/>
<path d="M1434 1331.5l-3-1.5l4.5 7l3 1.5z" fill="#3f628a"/>
<path d="M1417 1300l-3-2l4 9.5l3 2z" fill="#41758b"/>
<path d="M1454 1356l-2.5-1.5l5 5l3 1.5z" fill="#3f5186"/>
<path d="M1437.5 1337l-3-2l4.5 7l3 1.5z" fill="#3f5f89"/>
<path d="M1400 1219.5l-3-1.5l3.5 13l3 1.5z" fill="#499273"/>
<path d="M1441 1342l-3-2l4.5 6.5l3 1.5z" fill="#3f5c88"/>
<path d="M1414 1292l-3.5-2l4 10l3 2z" fill="#427b8c"/>
<path d="M1403.5 1249l-3-2l3.5 12l3 2z" fill="#448a7f"/>
<path d="M1393 1183l-3-1.5l3.5 11.5l3.5 1z" fill="#69b771"/>
<path d="M1407 1267l-3-2l3.5 11.5l3 2z" fill="#438585"/>
<path d="M1396.5 1200.5l-3-1.5l3.5 12l3.5 1.5z" fill="#56a574"/>
<path d="M1382 1168l-3-1l5 4l3 1.5z" fill="#7fc86b"/>
<path d="M1458 1359.5l-3-1.5l5.5 4.5l2.5 1.5z" fill="#3f5086"/>
<path d="M1400.5 1229l-3.5-1.5l3.5 13l3.5 1.5z" fill="#478f76"/>
<path d="M1410.5 1283.5l-3-2l3.5 10.5l3.5 2z" fill="#43818c"/>
<path d="M1390 1174.5l-3.5-1.5l4 10.5l3.5 1.5z" fill="#74bf6c"/>
<path d="M1386 1171l-3.5-1.5l4.5 5.5l3.5 1.5z" fill="#7cc76c"/>
<path d="M1397 1209l-3.5-1.5l3.5 12l3.5 2z" fill="#529e74"/>
<path d="M1448 1350.5l-2.5-1.5l5 5l2.5 2z" fill="#3f5788"/>
<path d="M1404 1257l-3.5-2l4 12l3 2z" fill="#448a83"/>
<path d="M1393.5 1191l-3.5-2l4 12l3 1.5z" fill="#60ad70"/>
<path d="M1400.5 1238.5l-3.5-2l4 12.5l3 1.5z" fill="#468f7c"/>
<path d="M1424.5 1318.5l-3-2l4 7.5l3 2z" fill="#406d8b"/>
<path d="M1421 1312l-3-1.5l4 8l3 1.5z" fill="#40718b"/>
<path d="M1407.5 1274.5l-3.5-2l4 11l3 2z" fill="#448589"/>
<path d="M1428 1324l-3.5-1.5l4.5 7l3 2z" fill="#3f6a8b"/>
<path d="M1417.5 1305.5l-3-2l4 8.5l3 2z" fill="#41758b"/>
<path d="M1431.5 1329.5l-3-1.5l4 7l3 1.5z" fill="#3f678b"/>
<path d="M1451.5 1354.5l-2.5-2l5 5l3 2z" fill="#3f5687"/>
<path d="M1397 1217.5l-3-1.5l3.5 13l3 2z" fill="#4c9572"/>
<path d="M1414.5 1298l-3.5-2l4 9.5l3 2z" fill="#41798c"/>
<path d="M1435 1335l-3-2l4.5 7l3 1.5z" fill="#3f638a"/>
<path d="M1390 1181.5l-3-1.5l3.5 11l3.5 1.5z" fill="#6ebb6f"/>
<path d="M1379 1166.5l-3-1.5l5 4l3 1.5z" fill="#84ca68"/>
<path d="M1394 1199l-3.5-2l3.5 12l3.5 2z" fill="#5aa873"/>
<path d="M1400.5 1247l-3-2l3.5 12l3.5 2z" fill="#468f80"/>
<path d="M1438.5 1340l-3-1.5l4.5 6l3 2z" fill="#3f6089"/>
<path d="M1411 1290l-3-2.5l3.5 10.5l3.5 2z" fill="#427f8c"/>
<path d="M1404 1265l-3-2.5l3.5 11.5l3.5 2.5z" fill="#448986"/>
<path d="M1397.5 1227l-3.5-1.5l3.5 13l3.5 1.5z" fill="#4a9376"/>
<path d="M1455.5 1358l-2.5-1.5l5 4.5l2.5 1.5z" fill="#3f5487"/>
<path d="M1442 1344.5l-3-1.5l5 5.5l2.5 2z" fill="#3f5e89"/>
<path d="M1387 1173l-3.5-1.5l4 10.5l3.5 1.5z" fill="#79c26a"/>
<path d="M1383 1169l-3.5-1.5l4.5 5.5l3.5 1.5z" fill="#81c969"/>
<path d="M1408 1281.5l-3.5-2.5l4 10.5l3 2z" fill="#44858c"/>
<path d="M1394 1207l-3.5-1.5l4 12.5l3 1.5z" fill="#54a273"/>
<path d="M1390.5 1189l-3.5-1.5l4 11.5l3.5 2z" fill="#64b16e"/>
<path d="M1445.5 1348.5l-3-1.5l5 5.5l3 1.5z" fill="#3f5c89"/>
<path d="M1401 1255l-3.5-2.5l4 12l3 2.5z" fill="#468f84"/>
<path d="M1397.5 1236.5l-3-2.5l3.5 12.5l3 2.5z" fill="#49947b"/>
<path d="M1421.5 1316.5l-3-2l4.5 7.5l3 2z" fill="#40718b"/>
<path d="M1418 1310l-3-2l4.5 8.5l3 1.5z" fill="#41758b"/>
<path d="M1404.5 1272l-3-2l3.5 11l3.5 2z" fill="#458a89"/>
<path d="M1425 1322l-3-1.5l4.5 7l3 2z" fill="#406e8b"/>
<path d="M1415 1303.5l-3.5-2l4.5 8.5l3 2z" fill="#41798c"/>
<path d="M1394.5 1216l-3.5-2l3.5 13l3.5 2z" fill="#4f9972"/>
<path d="M1428.5 1327.5l-3-1.5l4.5 7l3 1.5z" fill="#3f6b8b"/>
<path d="M1449 1352.5l-2.5-1.5l5 5l3 1.5z" fill="#3f5a88"/>
<path d="M1387 1180l-3-2l3.5 11l3.5 2z" fill="#73be6c"/>
<path d="M1411.5 1296l-3-2l4 9.5l3 1.5z" fill="#427d8c"/>
<path d="M1376 1165l-3.5-2l5.5 4l3 2z" fill="#89cd65"/>
<path d="M1391 1197l-3.5-1.5l3.5 12l3.5 1.5z" fill="#5eac70"/>
<path d="M1432 1333l-3-1.5l4.5 6.5l3 1.5z" fill="#3f688b"/>
<path d="M1398 1244.5l-3.5-2l3.5 12l3.5 2.5z" fill="#489380"/>
<path d="M1435.5 1338l-3-1.5l5 6l3 2z" fill="#3f658a"/>
<path d="M1408 1287.5l-3-2l4 10l3 2z" fill="#43838c"/>
<path d="M1401.5 1262.5l-3.5-2.5l4 12l3 2z" fill="#468e86"/>
<path d="M1394.5 1225l-3.5-2l3.5 13l3.5 2z" fill="#4d9876"/>
<path d="M1384 1171.5l-3.5-2l4 10.5l3.5 1.5z" fill="#7fc668"/>
<path d="M1453 1356l-3-1.5l5.5 4.5l2.5 1.5z" fill="#3f5988"/>
<path d="M1380 1167.5l-3.5-2l4.5 6l3.5 1.5z" fill="#87cc67"/>
<path d="M1439.5 1342.5l-3-1.5l5 5.5l2.5 2z" fill="#3f638a"/>
<path d="M1391 1205.5l-3.5-2l4 12.5l3 2z" fill="#58a672"/>
<path d="M1387.5 1187l-3.5-1.5l4 11.5l3.5 2z" fill="#69b46b"/>
<path d="M1405 1279l-3.5-2l4 10.5l3.5 2z" fill="#45898b"/>
<path d="M1443 1347l-3-2l5 5.5l3 1.5z" fill="#3f6189"/>
<path d="M1394.5 1234l-3-2.5l3.5 12.5l3.5 2.5z" fill="#4c987b"/>
<path d="M1398 1252.5l-3-2.5l3.5 12l3.5 2.5z" fill="#489483"/>
<path d="M1419 1314.5l-3-2l4 7.5l3.5 2z" fill="#41758b"/>
<path d="M1415.5 1308l-3-2l4 8l3 2z" fill="#41798c"/>
<path d="M1401.5 1270l-3-2.5l3.5 11l3.5 2.5z" fill="#468e88"/>
<path d="M1422.5 1320l-3-1.5l4 7l3.5 2z" fill="#40728b"/>
<path d="M1391.5 1214l-3.5-2.5l3.5 13.5l3.5 2z" fill="#529e72"/>
<path d="M1412 1301.5l-3-2l4 8.5l3 2z" fill="#427d8c"/>
<path d="M1384 1178l-3.5-2l4 11l3.5 2z" fill="#78c16a"/>
<path d="M1373 1163l-3.5-2l5.5 4l3 2z" fill="#90cf62"/>
<path d="M1426 1325.5l-3-1.5l4.5 7l3 2z" fill="#406f8b"/>
<path d="M1388 1195l-3.5-2l3.5 12l3.5 2z" fill="#63b06e"/>
<path d="M1446.5 1350.5l-2.5-1.5l5 5l3 1.5z" fill="#3f5f89"/>
<path d="M1408.5 1293.5l-3-2l4 9.5l3 2z" fill="#43818c"/>
<path d="M1429.5 1331l-3-1.5l4.5 6.5l3 2z" fill="#3f6c8b"/>
<path d="M1395 1242l-3.5-2.5l4 12.5l3 2.5z" fill="#4b977e"/>
<path d="M1433 1336l-3-1.5l5 6.5l3 1.5z" fill="#3f698b"/>
<path d="M1381 1169.5l-3.5-2l4 10.5l3.5 1.5z" fill="#84c966"/>
<path d="M1405.5 1285.5l-3.5-2l4 10l3.5 2z" fill="#45878b"/>
<path d="M1377 1165.5l-3.5-2l4.5 5.5l3.5 2z" fill="#8dce63"/>
<path d="M1391.5 1223l-3.5-3l4 13.5l3 2.5z" fill="#509c75"/>
<path d="M1398.5 1260l-3.5-2l4 11.5l3 2z" fill="#479285"/>
<path d="M1450.5 1354.5l-3-2l5.5 4.5l2.5 2z" fill="#3f5e89"/>
<path d="M1384.5 1185l-3.5-2l4 12l3.5 2z" fill="#6fb869"/>
<path d="M1436.5 1341l-3-2l5 6l3 1.5z" fill="#3f678b"/>
<path d="M1388 1203l-3.5-2.5l4 13l3 2z" fill="#5dab70"/>
<path d="M1402 1276.5l-3-2l3.5 10.5l3.5 2z" fill="#478e8b"/>
<path d="M1391.5 1231.5l-3-2.5l3.5 12.5l3.5 2.5z" fill="#4f9c79"/>
<path d="M1395 1250l-3-2.5l3.5 12l3.5 2.5z" fill="#4a9782"/>
<path d="M1381 1176l-3.5-2.5l4 11.5l3.5 2z" fill="#7fc668"/>
<path d="M1416 1312l-3-2l4.5 8l3 2z" fill="#41798c"/>
<path d="M1412.5 1306l-3-2l4.5 8l3 2z" fill="#427d8c"/>
<path d="M1388.5 1211.5l-3.5-3l3.5 13.5l3.5 2.5z" fill="#56a371"/>
<path d="M1399 1267.5l-3.5-2.5l4 11.5l3 2z" fill="#489288"/>
<path d="M1419.5 1318l-3-2l4.5 7.5l3 2z" fill="#41768b"/>
<path d="M1409.5 1299l-3.5-2l4 8.5l3.5 2z" fill="#43818c"/>
<path d="M1385 1193l-3.5-2.5l3.5 12l3.5 2.5z" fill="#6ab56c"/>
<path d="M1423 1324l-3-2l4.5 7l3.5 2z" fill="#40738b"/>
<path d="M1444 1349l-3-2l5.5 5l2.5 2z" fill="#3f648a"/>
<path d="M1406 1291.5l-3.5-2.5l4 10l3.5 2z" fill="#44868c"/>
<path d="M1427 1329l-3.5-2l5 7l3 2z" fill="#40708b"/>
<path d="M1378 1167l-4-2l4 10.5l3.5 2z" fill="#8ccd63"/>
<path d="M1374 1163.5l-3.5-2.5l4.5 5.5l3.5 2.5z" fill="#94d060"/>
<path d="M1392 1239.5l-3.5-2.5l4 12.5l3 2.5z" fill="#4e9b7c"/>
<path d="M1430.5 1334.5l-3-2l4.5 6l3 2z" fill="#406d8b"/>
<path d="M1402.5 1283l-3-2l3.5 10l3.5 2.5z" fill="#468c8b"/>
<path d="M1395.5 1257.5l-3.5-2l4 11.5l3.5 2.5z" fill="#499685"/>
<path d="M1388.5 1220l-3.5-2.5l4 13l3 3z" fill="#53a073"/>
<path d="M1448 1352.5l-3-1.5l5.5 4.5l2.5 1.5z" fill="#3f638a"/>
<path d="M1381.5 1183l-3.5-2.5l4 12l3.5 2.5z" fill="#76bd68"/>
<path d="M1385 1200.5l-3.5-2.5l4 12.5l3.5 3z" fill="#63af6d"/>
<path d="M1434 1339l-3-2l5 5.5l3 2z" fill="#3f6b8b"/>
<path d="M1399 1274.5l-3-2.5l4 10.5l3 2.5z" fill="#48928a"/>
<path d="M1392.5 1247.5l-3.5-2.5l3.5 12l3.5 2.5z" fill="#4d9b80"/>
<path d="M1437.5 1343l-2.5-2l5 5.5l2.5 2z" fill="#3f6a8b"/>
<path d="M1389 1228.5l-3.5-2.5l3.5 13l3.5 2.5z" fill="#52a077"/>
<path d="M1378 1173.5l-3.5-2.5l4 11l3.5 3z" fill="#86cb66"/>
<path d="M1413.5 1310l-3.5-2l4.5 8l3.5 1.5z" fill="#427d8c"/>
<path d="M1410 1303.5l-3.5-2l4.5 8.5l3 2z" fill="#43818c"/>
<path d="M1385.5 1208.5l-3.5-2.5l3.5 13.5l3.5 2.5z" fill="#5ba66d"/>
<path d="M1396 1265l-3.5-2.5l4 11.5l3.5 2.5z" fill="#4a9788"/>
<path d="M1417 1316l-3.5-2l4.5 7.5l3.5 2z" fill="#417a8c"/>
<path d="M1406.5 1297l-3.5-2.5l4.5 9l3 2z" fill="#44858c"/>
<path d="M1382 1190.5l-3.5-3l3.5 12.5l3.5 2.5z" fill="#70b969"/>
<path d="M1420.5 1321.5l-3-2l4.5 7.5l3 1.5z" fill="#41778c"/>
<path d="M1441.5 1347l-3-2l5.5 5l2.5 2z" fill="#3f688b"/>
<path d="M1403 1289l-3.5-2l4.5 9.5l3 2z" fill="#468a8b"/>
<path d="M1424 1327l-3-2l4.5 7l3 2z" fill="#40748b"/>
<path d="M1374.5 1165l-3.5-3l4 10.5l3.5 3z" fill="#94d060"/>
<path d="M1370.5 1161l-3.5-3l5 6l3.5 2.5z" fill="#9cd35c"/>
<path d="M1389 1237l-3.5-2.5l4 12.5l3.5 2.5z" fill="#509e7a"/>
<path d="M1427.5 1332l-3-1.5l5 6l3 2z" fill="#40718b"/>
<path d="M1399.5 1280.5l-3-2l4 10.5l3 2z" fill="#48908b"/>
<path d="M1385.5 1217.5l-3.5-3l4 13.5l3 2.5z" fill="#56a371"/>
<path d="M1392.5 1255l-3-2.5l3.5 12l3.5 2.5z" fill="#4c9a83"/>
<path d="M1445 1351l-2.5-2.5l5.5 4.5l2.5 2z" fill="#3f678b"/>
<path d="M1378.5 1180l-3.5-2.5l4 12l3 2.5z" fill="#7dc265"/>
<path d="M1382 1198l-3.5-3l4 12.5l3.5 3z" fill="#69b36a"/>
<path d="M1431.5 1337l-3-2l5 6l3 1.5z" fill="#406f8b"/>
<path d="M1396.5 1272l-3.5-2.5l4 11l3 2z" fill="#4a968a"/>
<path d="M1386 1226l-3.5-2.5l3.5 13l3.5 2.5z" fill="#54a376"/>
<path d="M1389.5 1245l-3.5-2.5l4 12l3 2.5z" fill="#509f7f"/>
<path d="M1435 1341l-3-1.5l5 5l3 2z" fill="#406e8b"/>
<path d="M1375 1170.5l-3.5-3l4 12l3.5 2.5z" fill="#8fcf62"/>
<path d="M1410.5 1308l-3.5-1.5l4.5 8l3.5 1z" fill="#43818c"/>
<path d="M1407 1301.5l-3.5-1.5l4.5 8.5l3.5 1z" fill="#44858c"/>
<path d="M1414 1314l-3-1.5l4.5 7.5l3 1z" fill="#427d8c"/>
<path d="M1403.5 1294.5l-3.5-1.5l4.5 9l3.5 1z" fill="#45898b"/>
<path d="M1382.5 1205.5l-3.5-2.5l3.5 13.5l3.5 3z" fill="#60a96a"/>
<path d="M1393 1262.5l-3.5-2.5l4 11.5l3.5 2z" fill="#4b9a87"/>
<path d="M1378.5 1187.5l-3.5-3l4 12.5l3.5 2.5z" fill="#77bd66"/>
<path d="M1418 1319.5l-3.5-1l4.5 7l3.5 1z" fill="#427a8c"/>
<path d="M1400 1287l-3.5-1.5l4.5 9.5l3.5 1.5z" fill="#478e8b"/>
<path d="M1439 1345l-3-2l5 5.5l3 1.5z" fill="#406c8b"/>
<path d="M1421.5 1325l-3.5-1.5l4.5 7l3.5 1.5z" fill="#41788c"/>
<path d="M1371.5 1162l-3.5-3l4 10.5l3.5 3z" fill="#9cd35c"/>
<path d="M1367.5 1158l-3.5-3l5 5.5l3.5 3z" fill="#a4d559"/>
<path d="M1425 1330l-3.5-1l5 6.5l3.5 1z" fill="#41758b"/>
<path d="M1386 1234.5l-3.5-3l4 13l3.5 2.5z" fill="#54a379"/>
<path d="M1397 1278.5l-3.5-1.5l4 10l3.5 1.5z" fill="#49948a"/>
<path d="M1382.5 1214.5l-3.5-2.5l4 13.5l3 2.5z" fill="#5aa66e"/>
<path d="M1389.5 1252.5l-3.5-2.5l4 12l3.5 2.5z" fill="#4e9e81"/>
<path d="M1375.5 1177.5l-3.5-3l3.5 12l3.5 3z" fill="#84c562"/>
<path d="M1442.5 1348.5l-2.5-1.5l5 4.5l3 1.5z" fill="#3f6b8b"/>
<path d="M1428.5 1335l-3-1l5 5.5l3 1z" fill="#40738b"/>
<path d="M1379 1195l-3.5-3l4 13l3.5 2.5z" fill="#6fb667"/>
<path d="M1393.5 1269.5l-3.5-1.5l4 10.5l3.5 1.5z" fill="#4b9a8a"/>
<path d="M1432.5 1339l-3-1l5 5.5l3 1z" fill="#40728b"/>
<path d="M1407.5 1306.5l-3.5-1l4.5 8l3.5 0.5z" fill="#44848c"/>
<path d="M1404 1300l-3.5-1l4.5 8l3.5 1z" fill="#45888b"/>
<path d="M1383 1223.5l-3.5-3l3.5 13l3.5 3z" fill="#58a874"/>
<path d="M1386.5 1242.5l-3.5-2.5l3.5 12l3.5 2.5z" fill="#53a27c"/>
<path d="M1411.5 1312.5l-3.5-1l4.5 7.5l3.5 0.5z" fill="#43818c"/>
<path d="M1372 1167.5l-3.5-3l4 11.5l3.5 3z" fill="#97d15e"/>
<path d="M1400.5 1293l-3.5-1l4.5 8.5l3.5 1z" fill="#478d8b"/>
<path d="M1415 1318l-3.5-0.5l4.5 7l3.5 0.5z" fill="#427e8c"/>
<path d="M1268 1200.5l-4.5 10l3.5-6.5l4.5-10z" fill="#76c36f"/>
<path d="M1390 1260l-3.5-1.5l4 11l3.5 2z" fill="#4d9b83"/>
<path d="M1379.5 1203l-3.5-3l3.5 14l3.5 2.5z" fill="#65ac66"/>
<path d="M1397 1285l-3.5-1l4 10l4 0.5z" fill="#48928b"/>
<path d="M1375.5 1184.5l-3.5-3l4 12.5l3.5 2.5z" fill="#7dc063"/>
<path d="M1418.5 1323.5l-3.5-0.5l4.5 6.5l3.5 1z" fill="#427b8c"/>
<path d="M1436.5 1343l-3.5-1l5.5 5l3 1z" fill="#40708b"/>
<path d="M1271.5 1193l-4.5 9.5l3.5-6.5l4.5-9.5z" fill="#7ec86b"/>
<path d="M1368.5 1159l-3.5-3.5l4 11l3.5 3z" fill="#a5d658"/>
<path d="M1422.5 1328.5l-3.5-0.5l4.5 6.5l3.5 0.5z" fill="#41788c"/>
<path d="M1364 1155l-3-3l5 5.5l3 3z" fill="#add856"/>
<path d="M1393.5 1276.5l-3.5-1l4 10.5l4 1z" fill="#4a978a"/>
<path d="M1383 1231.5l-3.5-2.5l4 12.5l3.5 2.5z" fill="#56a677"/>
<path d="M1386.5 1250l-3.5-2l4 12l3.5 2z" fill="#509e7d"/>
<path d="M1379.5 1212l-3.5-3l3.5 13.5l3.5 3z" fill="#60ab6b"/>
<path d="M1426 1333.5l-3.5-0.5l5 5.5l3.5 0.5z" fill="#41768c"/>
<path d="M1440 1346.5l-3-1l5.5 5l3 1z" fill="#406f8b"/>
<path d="M1372 1174l-3.5-3l4 12.5l3.5 3z" fill="#8cc85d"/>
<path d="M1390.5 1267.5l-4-1l4.5 11l3.5 1z" fill="#4c9c87"/>
<path d="M1376 1192l-3.5-3l3.5 13l3.5 3z" fill="#75b963"/>
<path d="M1404.5 1305l-3.5-0.5l4.5 8l3.5 0.5z" fill="#45878b"/>
<path d="M1401 1298.5l-3.5-0.5l4.5 8.5l3.5 0.5z" fill="#468b8b"/>
<path d="M1429.5 1337.5l-3-0.5l5 5.5l3 0.5z" fill="#41758b"/>
<path d="M1408.5 1311.5l-4-1l5 7.5l3.5 0.5z" fill="#44848c"/>
<path d="M1397.5 1292l-3.5-1l4.5 9l3.5 0.5z" fill="#48908b"/>
<path d="M1383.5 1239.5l-4-1.5l4 12l3.5 2z" fill="#54a379"/>
<path d="M1412 1317l-3.5-0.5l4.5 7l3.5 0.5z" fill="#43818c"/>
<path d="M1379.5 1220.5l-3.5-2.5l4 13l3.5 2.5z" fill="#5daa70"/>
<path d="M1387 1258l-3.5-1l4 11.5l3.5 1z" fill="#4e9c80"/>
<path d="M1394 1284l-3.5-1l4 10l4 0.5z" fill="#49958a"/>
<path d="M1369 1164.5l-4-3l4 11.5l3.5 3z" fill="#a0d45a"/>
<path d="M1415.5 1322.5l-3.5-0.5l4.5 7l4 0.5z" fill="#427e8c"/>
<path d="M1376 1200l-3.5-3l4 14l3.5 3z" fill="#6cb164"/>
<path d="M1433.5 1341.5l-3.5-0.5l5.5 5l3 0.5z" fill="#40738b"/>
<path d="M1372.5 1181.5l-3.5-3l4 12.5l3.5 3z" fill="#84c35f"/>
<path d="M1419.5 1327.5l-3.5 0l4.5 6l3.5 0.5z" fill="#427b8c"/>
<path d="M1390.5 1275.5l-3.5-1l4 10.5l3.5 0.5z" fill="#4b9a89"/>
<path d="M1365.5 1155.5l-4-3l4 11l4 3z" fill="#aed855"/>
<path d="M1361 1151.5l-3.5-3l5 6l3.5 3z" fill="#b6db53"/>
<path d="M1383.5 1248l-3.5-1l4 11.5l3.5 1.5z" fill="#519f7a"/>
<path d="M1380 1229l-3.5-2l3.5 12.5l4 2z" fill="#57a673"/>
<path d="M1423 1332.5l-3.5-0.5l5 6l3.5 0.5z" fill="#41798c"/>
<path d="M1437.5 1345.5l-3.5-0.5l5.5 4.5l3 0.5z" fill="#40728b"/>
<path d="M1271 1194l-4 10l3.5-6.5l4.5-10z" fill="#82ca69"/>
<path d="M1387 1266.5l-3.5-1l4 11l4 0.5z" fill="#4e9d85"/>
<path d="M1376.5 1209l-3.5-3l3.5 13.5l3.5 3z" fill="#66ad67"/>
<path d="M1369 1171l-3.5-3l4 12.5l3.5 3z" fill="#94ca59"/>
<path d="M1401.5 1304.5l-3.5 0l4.5 8l3.5-0.5z" fill="#468a8b"/>
<path d="M1398 1298l-3.5 0l4 8l4 0z" fill="#478e8b"/>
<path d="M1275 1186.5l-4.5 9.5l3.5-6.5l4.5-9.5z" fill="#8bcd64"/>
<path d="M1405.5 1310.5l-4 0l4.5 7.5l4 0z" fill="#45878c"/>
<path d="M1394.5 1291l-4 0l4.5 8.5l4 0z" fill="#49928a"/>
<path d="M1427 1336.5l-3.5 0l5 5.5l3.5 0z" fill="#41788c"/>
<path d="M1373 1189l-4-3l4 13l3.5 3z" fill="#7cbe61"/>
<path d="M1409 1316l-4 0.5l5 7l3.5 0z" fill="#44838c"/>
<path d="M1278.5 1179.5l-4.5 9l3.5-7l4.5-8.5z" fill="#95d05f"/>
<path d="M1391 1283l-4 0l4.5 9.5l3.5 0z" fill="#4a978a"/>
<path d="M1195 1315l-5 3.5l3-7.5l5-3.5z" fill="#45888b"/>
<path d="M1380 1237.5l-3.5-1l4 12l3.5 1.5z" fill="#55a376"/>
<path d="M1412.5 1321.5l-3.5 0.5l4.5 7l4-0.5z" fill="#43808c"/>
<path d="M1384 1256.5l-4-1l4 11.5l4 1z" fill="#4f9e7d"/>
<path d="M1376.5 1217.5l-3.5-2l4 13.5l3.5 2z" fill="#60aa6b"/>
<path d="M1430.5 1340.5l-3 0l5 5l3.5 0.5z" fill="#41768c"/>
<path d="M1416.5 1327l-4 0.5l5 6.5l3.5-0.5z" fill="#427e8c"/>
<path d="M1365.5 1161.5l-3.5-3l4 11.5l3.5 3z" fill="#a8d757"/>
<path d="M1387.5 1274.5l-4-0.5l4.5 10.5l3.5 0z" fill="#4b9985"/>
<path d="M1373 1197l-3.5-3l4 14l3.5 3z" fill="#71b360"/>
<path d="M1191.5 1318.5l-5 3.5l2.5-7.5l5-3.5z" fill="#45878c"/>
<path d="M1369.5 1178.5l-4-3.5l4 13l3.5 3z" fill="#8dc75c"/>
<path d="M1420 1332l-3.5 0.5l5 5.5l3.5-0.5z" fill="#427c8c"/>
<path d="M1380.5 1246.5l-4-1l4 12l4 1z" fill="#52a078"/>
<path d="M1398.5 1304l-4 1.5l4.5 8l4-1.5z" fill="#468c8b"/>
<path d="M1395 1297.5l-4 1.5l4.5 8.5l4-1.5z" fill="#48908b"/>
<path d="M1384 1265l-3.5 0l4 11l3.5 0z" fill="#4d9c80"/>
<path d="M1377 1227l-4-1.5l4 12.5l3.5 1.5z" fill="#5aa66f"/>
<path d="M1362 1152.5l-3.5-3l4 10.5l3.5 3z" fill="#b7db53"/>
<path d="M1434.5 1344.5l-3.5-0.5l5.5 5l3.5 0z" fill="#41758b"/>
<path d="M1402.5 1310.5l-4.5 1.5l5 7.5l4-2z" fill="#45888b"/>
<path d="M1358 1148.5l-3.5-3l5 5.5l3.5 3z" fill="#bfdd51"/>
<path d="M1391.5 1290.5l-4 1.5l4.5 9l4-1.5z" fill="#49948a"/>
<path d="M1406 1316l-4 2l4.5 7l4-2z" fill="#44858c"/>
<path d="M1388 1282.5l-4 1.5l4 9.5l4-1z" fill="#489384"/>
<path d="M1424 1336l-3.5 0.5l5 5.5l3.5-0.5z" fill="#417a8c"/>
<path d="M1187.5 1322l-5 3l2.5-7l5-3.5z" fill="#44858c"/>
<path d="M1373 1206l-3.5-2l4 13.5l3.5 2z" fill="#69ad62"/>
<path d="M1409.5 1321.5l-4 2l5 6.5l4-1.5z" fill="#43828c"/>
<path d="M1366 1168l-4-3l4 12l4 3.5z" fill="#9dce56"/>
<path d="M1380.5 1255.5l-3.5 0l4 11.5l3.5 0z" fill="#4f9c79"/>
<path d="M1413.5 1327l-4 1.5l4.5 6.5l4-1.5z" fill="#427f8c"/>
<path d="M1377 1236l-4-1l4 12.5l4 1z" fill="#56a574"/>
<path d="M1369.5 1186l-3.5-3l4 13l3.5 3z" fill="#83bf5c"/>
<path d="M1271 1195.5l-4.5 10.5l3.5-7l4.5-10.5z" fill="#85cb68"/>
<path d="M1384.5 1274l-4 1.5l4 10l4-1z" fill="#47927d"/>
<path d="M1428 1340l-4 0.5l5.5 5l3.5-0.5z" fill="#41798c"/>
<path d="M1183.5 1325l-5 3.5l2.5-7l5-3.5z" fill="#44848c"/>
<path d="M1373.5 1215.5l-4-1.5l4 13.5l4 1z" fill="#63aa67"/>
<path d="M1395.5 1305.5l-4.5 2l5 7.5l4-2z" fill="#478d8b"/>
<path d="M1391.5 1299l-4 1.5l4.5 8.5l4-2z" fill="#48918b"/>
<path d="M1417 1332l-4 1.5l5 6l4-2z" fill="#427d8c"/>
<path d="M1399 1311.5l-4 2l4.5 7.5l4-2z" fill="#45898b"/>
<path d="M1388 1291.5l-4 2l4.5 9l4-2z" fill="#49958a"/>
<path d="M1381 1265l-4 1l4 11l4-1z" fill="#4a9579"/>
<path d="M1402.5 1317.5l-4 2l5 7l4-2z" fill="#44868c"/>
<path d="M1362.5 1158l-4-3l4 11.5l4 3.5z" fill="#b1d954"/>
<path d="M1377 1245.5l-3.5-0.5l4 12l3.5 0.5z" fill="#519e74"/>
<path d="M1384.5 1283.5l-4 2l4.5 9.5l4-1.5z" fill="#479283"/>
<path d="M1278.5 1180l-4.5 9.5l3-7.5l5-9.5z" fill="#9ad25d"/>
<path d="M1370 1194l-4-2l4 14l3.5 2z" fill="#75b35c"/>
<path d="M1406.5 1323l-4 2l4.5 7l4-2.5z" fill="#43838c"/>
<path d="M1432 1343.5l-4 1l5.5 4.5l3.5-0.5z" fill="#41788c"/>
<path d="M1421 1336l-4 2l5 5.5l4-2z" fill="#427c8c"/>
<path d="M1373.5 1225.5l-3.5-1.5l4 13l3.5 1z" fill="#5da76b"/>
<path d="M1282 1174.5l-4.5 7l3.5-9l4.5-7z" fill="#a4d559"/>
<path d="M1366 1175l-3.5-3l4 13l3.5 2.5z" fill="#94c857"/>
<path d="M1179.5 1328.5l-5 3.5l2.5-7.5l5-3z" fill="#44838c"/>
<path d="M1348 1383l-5 7.5l5 7l4.5-7z" fill="#334b6f"/>
<path d="M1344 1376.5l-4.5 7.5l4.5 7.5l5-7.5z" fill="#324e6e"/>
<path d="M1351.5 1376.5l-4.5 7.5l4.5 7.5l4.5-7.5z" fill="#324e6e"/>
<path d="M1348 1370l-5 7.5l5 7.5l4.5-7.5z" fill="#32516f"/>
<path d="M1344 1389.5l-4.5 7l4.5 7.5l5-7.5z" fill="#33496f"/>
<path d="M1340.5 1383l-4.5 7l4.5 7.5l4.5-7z" fill="#324a6d"/>
<path d="M1355.5 1370l-5 7.5l4.5 7.5l5-8z" fill="#32526f"/>
<path d="M1351.5 1363.5l-4.5 7.5l4.5 7.5l5-7.5z" fill="#32556f"/>
<path d="M1351.5 1389.5l-4.5 7.5l4.5 6.5l5-7.5z" fill="#344a71"/>
<path d="M1340.5 1395.5l-4.5 7l4.5 7.5l4.5-7z" fill="#344670"/>
<path d="M1337 1389l-5 7l5 7.5l4.5-6.5z" fill="#33486e"/>
<path d="M1355 1383l-4.5 7.5l5 6.5l4.5-7.5z" fill="#334c70"/>
<path d="M1340.5 1369.5l-4.5 7.5l4.5 8l4.5-7.5z" fill="#32526f"/>
<path d="M1348 1395.5l-5 7.5l5 7l4.5-7.5z" fill="#354771"/>
<path d="M1344 1363l-4.5 7.5l4.5 8l5-7.5z" fill="#32556f"/>
<path d="M1337 1376l-5 7l5 8l4.5-7z" fill="#324e6e"/>
<path d="M1410 1328l-4 2.5l5 6l4-2z" fill="#43808c"/>
<path d="M1359 1376l-4.5 8l4.5 6.5l4.5-7.5z" fill="#334f6f"/>
<path d="M1348 1356l-5 8l5 8l4.5-7.5z" fill="#33586f"/>
<path d="M1344 1402l-4.5 7l4.5 7l5-7z" fill="#364572"/>
<path d="M1381 1275l-4 1.5l4 10.5l4-1.5z" fill="#47917b"/>
<path d="M1333 1382l-4.5 7l4.5 8l5-6.5z" fill="#324b6d"/>
<path d="M1359 1363l-4.5 8l4.5 7l4.5-8z" fill="#32556f"/>
<path d="M1355.5 1356l-5 8.5l5 7.5l4.5-8z" fill="#33586f"/>
<path d="M1337 1401.5l-5 7l5 7l4.5-6.5z" fill="#354472"/>
<path d="M1333 1395l-4.5 6.5l4.5 8l5-6.5z" fill="#34466f"/>
<path d="M1355.5 1395l-5 7.5l5 6.5l4.5-7.5z" fill="#354872"/>
<path d="M1359 1388.5l-4.5 8l4.5 6.5l4.5-8z" fill="#344b71"/>
<path d="M1377.5 1255l-4 1.5l4 11.5l4-1.5z" fill="#4b9572"/>
<path d="M1351.5 1401.5l-4.5 7.5l4.5 6.5l5-7.5z" fill="#364573"/>
<path d="M1359 1149l-4-3l4 10.5l4 3.5z" fill="#c0dd51"/>
<path d="M1362.5 1369l-4.5 8l4.5 7l5-8.5z" fill="#32526f"/>
<path d="M1351.5 1349l-4.5 8l4.5 8.5l5-8.5z" fill="#335b6f"/>
<path d="M1354.5 1145.5l-3.5-3.5l5 5.5l3.5 3.5z" fill="#c8df52"/>
<path d="M1340.5 1408l-4.5 6.5l4.5 7l4.5-6.5z" fill="#374374"/>
<path d="M1362.5 1382l-4.5 8l4.5 6.5l5-8z" fill="#334d70"/>
<path d="M1329.5 1388l-4.5 6.5l4.5 8.5l4.5-6.5z" fill="#32486d"/>
<path d="M1348 1408l-5 7l5 6.5l4.5-7z" fill="#374374"/>
<path d="M1337 1361.5l-5 7.5l5 9l4.5-7.5z" fill="#33556f"/>
<path d="M1340.5 1355l-4.5 7.5l4.5 9l4.5-7.5z" fill="#33586f"/>
<path d="M1333 1368l-4.5 7l4.5 9l5-7z" fill="#32536f"/>
<path d="M1392 1307l-4 2.5l4.5 8l4-3z" fill="#478d8b"/>
<path d="M1388.5 1300.5l-4.5 2.5l4.5 8l4.5-2.5z" fill="#48918b"/>
<path d="M1370 1204l-3.5-2l3.5 14l4 1.5z" fill="#6cad5e"/>
<path d="M1362.5 1355.5l-4.5 8.5l4.5 7l5-8.5z" fill="#33586f"/>
<path d="M1359 1349l-4.5 8.5l4.5 7.5l4.5-9z" fill="#335b6f"/>
<path d="M1333 1407.5l-4.5 6.5l4.5 7l5-6.5z" fill="#374373"/>
<path d="M1329.5 1401l-4.5 6l4.5 8l4.5-6.5z" fill="#354470"/>
<path d="M1344.5 1348.5l-5 7.5l4.5 9l5-7.5z" fill="#335b6f"/>
<path d="M1366.5 1375l-5 8l5 6.5l4.5-8z" fill="#33506f"/>
<path d="M1359 1401l-4.5 7.5l4.5 6l4.5-7.5z" fill="#364673"/>
<path d="M1329.5 1374l-4.5 7l4.5 9l4.5-6.5z" fill="#324f6e"/>
<path d="M1362.5 1394.5l-4.5 7.5l4.5 6l5-7.5z" fill="#354972"/>
<path d="M1344 1414l-4.5 6.5l5 6.5l4.5-6.5z" fill="#384175"/>
<path d="M1395.5 1313l-4 3l4.5 7l4.5-2.5z" fill="#45898b"/>
<path d="M1355.5 1407l-5 7.5l5 6.5l4.5-7.5z" fill="#374373"/>
<path d="M1366.5 1361.5l-5 8.5l5 7l4.5-9z" fill="#33566f"/>
<path d="M1384.5 1293l-4 3l4.5 8.5l4-2.5z" fill="#489388"/>
<path d="M1337 1413.5l-5 6.5l5 7l4.5-6.5z" fill="#384175"/>
<path d="M1355.5 1341.5l-5 8.5l5 8l4.5-8.5z" fill="#345f70"/>
<path d="M1326 1394l-5 6l5 8.5l4.5-6.5z" fill="#33476e"/>
<path d="M1425 1340l-4 2l5 5l4-2z" fill="#417a8c"/>
<path d="M1366.5 1387.5l-5 8l5 6l4.5-7.5z" fill="#344c71"/>
<path d="M1351.5 1413.5l-4.5 7l4.5 6.5l5-7z" fill="#384175"/>
<path d="M1414 1333l-4 2.5l5 5.5l4-2.5z" fill="#427e8c"/>
<path d="M1348 1341l-4.5 8l4.5 9l4.5-7.5z" fill="#345f70"/>
<path d="M1373.5 1235l-3.5-0.5l4 12.5l3.5 0.5z" fill="#56a26f"/>
<path d="M1326 1380l-5 6.5l5 9.5l4.5-6.5z" fill="#324c6e"/>
<path d="M1399.5 1319l-4.5 3l5 7l4-3z" fill="#44868c"/>
<path d="M1370 1367.5l-4.5 8.5l4.5 6.5l5-8.5z" fill="#32536f"/>
<path d="M1329.5 1413l-4.5 6l4.5 7.5l4.5-6.5z" fill="#374173"/>
<path d="M1326 1406.5l-5 6l5 8l4.5-6.5z" fill="#364271"/>
<path d="M1370 1380.5l-4.5 8l4.5 6.5l5-8.5z" fill="#334e70"/>
<path d="M1340.5 1419.5l-4.5 6.5l4.5 6.5l5-6.5z" fill="#3a3f76"/>
<path d="M1194 1312.5l-5 3.5l2.5-7l5.5-3.5z" fill="#478e8b"/>
<path d="M1348 1419.5l-4.5 6.5l4.5 6.5l4.5-6.5z" fill="#393f75"/>
<path d="M1175.5 1332l-5 3l2.5-7l5-3.5z" fill="#43828c"/>
<path d="M1366.5 1347l-4.5 9.5l4.5 7l4.5-9.5z" fill="#335c6f"/>
<path d="M1363 1340.5l-5 9.5l4.5 7.5l5-9.5z" fill="#345f70"/>
<path d="M1333 1419l-4.5 6.5l4.5 7l5-6.5z" fill="#393f75"/>
<path d="M1377.5 1266l-4 1.5l4 11l4-1.5z" fill="#4a9377"/>
<path d="M1362.5 1406l-4.5 8l5 5.5l4.5-7.5z" fill="#384676"/>
<path d="M1381 1285l-4 3l4.5 9.5l4-2.5z" fill="#458e7f"/>
<path d="M1322 1399.5l-4.5 6l4.5 8l5-6z" fill="#34456f"/>
<path d="M1366.5 1399.5l-4.5 8l4.5 5.5l4.5-7.5z" fill="#374975"/>
<path d="M1352 1333.5l-5 8.5l4.5 9l5-8.5z" fill="#346270"/>
<path d="M1359 1412.5l-4.5 7.5l4.5 6l5-7.5z" fill="#394377"/>
<path d="M1322 1386l-4.5 6l4.5 9.5l5-6.5z" fill="#324a6d"/>
<path d="M1333.5 1353l-5 7l4.5 10l5-7z" fill="#335a6f"/>
<path d="M1337 1346.5l-4.5 7.5l4.5 9.5l4.5-7z" fill="#335d70"/>
<path d="M1370 1353.5l-4.5 9.5l4.5 6.5l5-9.5z" fill="#335a6f"/>
<path d="M1329.5 1359.5l-4.5 7l4.5 9.5l4.5-6.5z" fill="#33576f"/>
<path d="M1370 1393l-4.5 8l4.5 5.5l5-8z" fill="#364b74"/>
<path d="M1362.5 1164.5l-3.5-3l4 12.5l3.5 3z" fill="#a5cf53"/>
<path d="M1359 1333.5l-4.5 9.5l4.5 8l5-9.5z" fill="#346370"/>
<path d="M1355.5 1419l-5 7l5 6l4.5-7.5z" fill="#3a4077"/>
<path d="M1403 1324.5l-4 3l4.5 6.5l4.5-3z" fill="#44838c"/>
<path d="M1374 1373l-5 8.5l5 6.5l4.5-9z" fill="#32516f"/>
<path d="M1344.5 1425l-5 6.5l5 6.5l4.5-6.5z" fill="#3b3c76"/>
<path d="M1340.5 1339.5l-4.5 7.5l4.5 10l5-7.5z" fill="#346070"/>
<path d="M1326 1365.5l-5 7l5 9.5l4.5-6.5z" fill="#32546f"/>
<path d="M1366.5 1183l-4-2.5l4 13l4 2.5z" fill="#87be57"/>
<path d="M1337 1425l-5 6.5l5 6.5l4.5-6.5z" fill="#3a3c75"/>
<path d="M1326 1418.5l-5 6l5 7l4.5-6z" fill="#383e74"/>
<path d="M1322 1411.5l-4.5 6l4.5 8l5-6z" fill="#364172"/>
<path d="M1374 1386l-5 8l5 6l4.5-8.5z" fill="#354e73"/>
<path d="M1370 1214l-3.5-1.5l4 13.5l3.5 1z" fill="#66ab64"/>
<path d="M1351.5 1425l-4.5 6.5l5 6l4.5-7z" fill="#3c3e78"/>
<path d="M1374 1359.5l-5 9l5 6.5l4.5-9.5z" fill="#33576f"/>
<path d="M1344.5 1332.5l-5 8l5 10l4.5-8z" fill="#346370"/>
<path d="M1329.5 1424.5l-4.5 6l4.5 7l4.5-6z" fill="#3a3c75"/>
<path d="M1318.5 1391.5l-4.5 6l4.5 9l4.5-6z" fill="#32476d"/>
<path d="M1322 1371.5l-4.5 6.5l4.5 10l5-6.5z" fill="#32526f"/>
<path d="M1318.5 1404.5l-4.5 6l4.5 8.5l4.5-6z" fill="#34436f"/>
<path d="M1374 1245l-4 1l4 12l4-1z" fill="#4e976d"/>
<path d="M1418 1337.5l-4 2l5 5.5l4-2.5z" fill="#427c8c"/>
<path d="M1355.5 1325.5l-5 9.5l5 8.5l4.5-9z" fill="#356670"/>
<path d="M1388.5 1309l-4.5 5l5 7.5l4.5-5z" fill="#418281"/>
<path d="M1385 1302.5l-4.5 5l4.5 8l4.5-5z" fill="#40827d"/>
<path d="M1340.5 1430.5l-4.5 6.5l4.5 6.5l5-6.5z" fill="#3b3a75"/>
<path d="M1407 1330l-4.5 3l5 6l4.5-3z" fill="#43808c"/>
<path d="M1370.5 1339l-5 9.5l4.5 7l5-9.5z" fill="#346170"/>
<path d="M1366.5 1332.5l-4.5 9.5l4.5 7l5-9z" fill="#346470"/>
<path d="M1377.5 1378.5l-4.5 8.5l4.5 6l5-9z" fill="#345172"/>
<path d="M1333 1430.5l-4.5 6l5 7l4.5-6.5z" fill="#3b3a75"/>
<path d="M1348 1430.5l-4.5 6.5l4.5 6l5-6.5z" fill="#3d3c78"/>
<path d="M1366.5 1411l-4.5 8l4.5 5l5-7.5z" fill="#3b477b"/>
<path d="M1370 1404.5l-4.5 8l5 5l4.5-7.5z" fill="#394a7a"/>
<path d="M1377.5 1276.5l-4 2.5l4 10.5l4.5-2.5z" fill="#458d78"/>
<path d="M1392.5 1315.5l-4.5 5l4.5 7l4.5-5z" fill="#428385"/>
<path d="M1377.5 1365l-4.5 9.5l4.5 6l5-9.5z" fill="#32556f"/>
<path d="M1429 1344l-4 1.5l5 5l4-2z" fill="#41798c"/>
<path d="M1363 1417.5l-5 7.5l5 5l4.5-7z" fill="#3c447c"/>
<path d="M1348 1325l-4.5 8.5l4.5 9.5l4.5-8z" fill="#356770"/>
<path d="M1381.5 1295.5l-4.5 4.5l4.5 8.5l4.5-4.5z" fill="#408279"/>
<path d="M1318.5 1377.5l-4.5 6l4.5 10l4.5-6z" fill="#324f6e"/>
<path d="M1374 1345.5l-4.5 9l4.5 7l4.5-9.5z" fill="#335e70"/>
<path d="M1322 1423.5l-4.5 6l4.5 7.5l5-6z" fill="#393d74"/>
<path d="M1318.5 1417l-4.5 6l4.5 7.5l4.5-6z" fill="#373f73"/>
<path d="M1363 1325.5l-5 9l5 8l4.5-9z" fill="#356770"/>
<path d="M1374 1398l-4.5 8l4.5 5l4.5-8z" fill="#384d79"/>
<path d="M1359 1424l-4.5 7l5 5.5l4.5-7.5z" fill="#3d417c"/>
<path d="M1315 1397l-5 5.5l5 9.5l4.5-6z" fill="#32456c"/>
<path d="M1326 1429.5l-5 6l5 7l4.5-6z" fill="#3b3a75"/>
<path d="M1190 1316l-5 3.5l2.5-7l5.5-3.5z" fill="#478d8b"/>
<path d="M1315 1410l-5 5.5l5 8.5l4.5-6z" fill="#354170"/>
<path d="M1396 1321l-4.5 5l5 7l4.5-5z" fill="#438289"/>
<path d="M1329.5 1344l-4.5 7l4.5 10.5l4.5-7z" fill="#345e70"/>
<path d="M1333.5 1337.5l-5 7l4.5 10.5l5-7z" fill="#346170"/>
<path d="M1377.5 1391l-4.5 8l5 5.5l4.5-8.5z" fill="#374f77"/>
<path d="M1326 1350.5l-4.5 7l4.5 10l4.5-6.5z" fill="#335c6f"/>
<path d="M1337 1436l-4.5 6.5l4.5 6.5l4.5-6.5z" fill="#3c3875"/>
<path d="M1378 1351l-5 9.5l4.5 6.5l5-9.5z" fill="#335c6f"/>
<path d="M1355.5 1430l-4.5 7l4.5 5l4.5-7z" fill="#3f3f7c"/>
<path d="M1344.5 1436l-5 6.5l5 6l4.5-6.5z" fill="#3e3978"/>
<path d="M1374 1256l-4 2l4 11.5l4-2z" fill="#4b9370"/>
<path d="M1337 1330.5l-4.5 7.5l4.5 10.5l4.5-7.5z" fill="#356570"/>
<path d="M1315 1383l-5 6l5 10l4.5-6z" fill="#324c6e"/>
<path d="M1322 1356.5l-4.5 7l4.5 10l5-6.5z" fill="#33596f"/>
<path d="M1374 1331.5l-4.5 8.5l4.5 7.5l5-9z" fill="#356570"/>
<path d="M1377.5 1287.5l-4 4.5l4.5 9.5l4-4.5z" fill="#3d7f72"/>
<path d="M1370.5 1325l-5 8.5l5 7.5l4.5-8.5z" fill="#356870"/>
<path d="M1329.5 1435.5l-4.5 6l4.5 7l5-6z" fill="#3c3875"/>
<path d="M1381.5 1370.5l-5 9.5l5 5.5l4.5-9.5z" fill="#32536f"/>
<path d="M1171.5 1335l-5 3l2.5-7l5-3z" fill="#43828c"/>
<path d="M1385 1313.5l-4.5 6l4.5 7.5l5-6.5z" fill="#3c7879"/>
<path d="M1381.5 1306.5l-4.5 6l4.5 8l4.5-6z" fill="#3b7875"/>
<path d="M1370.5 1224l-4-0.5l4 13l3.5 0.5z" fill="#5ea566"/>
<path d="M1359.5 1317.5l-5 9l4.5 9l5-9z" fill="#366b70"/>
<path d="M1352 1317l-5 9l4.5 9.5l5-9z" fill="#366b70"/>
<path d="M1366.5 1191.5l-3.5-1.5l3.5 14l4 1.5z" fill="#78b257"/>
<path d="M1378 1338l-5 8.5l4.5 6.5l5-8.5z" fill="#346270"/>
<path d="M1341 1323.5l-5 8l4.5 10l5-7.5z" fill="#356870"/>
<path d="M1411 1334.5l-4.5 3.5l5 5.5l4-3.5z" fill="#427e8c"/>
<path d="M1400 1327l-4.5 5l4.5 6.5l4.5-5z" fill="#43818b"/>
<path d="M1366.5 1318l-4.5 8.5l4.5 8l5-8.5z" fill="#366b70"/>
<path d="M1381.5 1383.5l-5 8.5l5 5l4.5-8.5z" fill="#365276"/>
<path d="M1389 1319.5l-5 6l5 7l4.5-6z" fill="#3d777c"/>
<path d="M1318.5 1362.5l-4.5 6.5l4.5 10.5l4.5-6.5z" fill="#33566f"/>
<path d="M1352 1435.5l-5 7l5 5l4.5-6.5z" fill="#403c7d"/>
<path d="M1318.5 1428.5l-4.5 6l4.5 7l4.5-5.5z" fill="#3a3b74"/>
<path d="M1315 1422l-5 5.5l5 8l4.5-5.5z" fill="#383d73"/>
<path d="M1378 1299.5l-5 6l5 8.5l4.5-6z" fill="#3b7872"/>
<path d="M1381.5 1357l-4.5 9l4.5 6.5l4.5-9.5z" fill="#33596f"/>
<path d="M1311 1402l-4.5 5.5l4.5 9.5l4.5-6z" fill="#32426c"/>
<path d="M1359 1154.5l-3.5-3l4 12l3.5 3z" fill="#bbdc52"/>
<path d="M1422 1341.5l-4.5 2l5.5 5l4-2z" fill="#427b8c"/>
<path d="M1378 1324.5l-5 8l5 7.5l4.5-8.5z" fill="#356870"/>
<path d="M1374 1318l-4.5 8l4.5 7.5l5-8z" fill="#366c70"/>
<path d="M1340.5 1441.5l-4.5 6.5l5 6l4.5-6.5z" fill="#3f3778"/>
<path d="M1322 1435l-4.5 5.5l4.5 7l5-5.5z" fill="#3c3975"/>
<path d="M1370.5 1415.5l-5 8l5 4.5l4.5-7.5z" fill="#3c467c"/>
<path d="M1381.5 1318.5l-4.5 7l4.5 7l4.5-6.5z" fill="#397175"/>
<path d="M1378 1312l-5 6.5l5 8l4.5-7z" fill="#397172"/>
<path d="M1333.5 1441.5l-5 6l5 6.5l4.5-6z" fill="#3e3675"/>
<path d="M1311 1415l-4.5 5.5l4.5 8.5l4.5-6z" fill="#364071"/>
<path d="M1374 1409l-4.5 8l4.5 5l5-8z" fill="#3a497b"/>
<path d="M1381.5 1343.5l-4.5 9l4.5 6.5l5-9z" fill="#346070"/>
<path d="M1366.5 1422l-4.5 7.5l5 5l4.5-7.5z" fill="#3d437c"/>
<path d="M1311 1388l-4.5 6l4.5 10l4.5-6z" fill="#324a6d"/>
<path d="M1392.5 1325.5l-4.5 6l4.5 7l5-6.5z" fill="#3d777f"/>
<path d="M1374 1267.5l-4 2.5l4 10.5l4.5-2.5z" fill="#489073"/>
<path d="M1381.5 1330.5l-4.5 8.5l4.5 6.5l5-8z" fill="#356670"/>
<path d="M1344.5 1316l-4.5 8.5l4.5 10l4.5-8z" fill="#366c70"/>
<path d="M1378 1402.5l-5 8l5 4.5l4.5-8z" fill="#394c7a"/>
<path d="M1315 1368.5l-5 6l5 10.5l4.5-6z" fill="#32546f"/>
<path d="M1385 1325l-4.5 6.5l5 7l4.5-7z" fill="#3a7178"/>
<path d="M1370.5 1310.5l-5 8.5l5 8l4.5-8z" fill="#376f6f"/>
<path d="M1363 1428l-4.5 7.5l4.5 5l4.5-7.5z" fill="#3e407c"/>
<path d="M1374 1305l-4.5 6.5l4.5 8.5l5-7z" fill="#39726f"/>
<path d="M1348 1441l-4.5 6.5l4.5 5.5l5-6.5z" fill="#413a7d"/>
<path d="M1363 1310l-4.5 8.5l4.5 9l4.5-8.5z" fill="#376f6f"/>
<path d="M1274.5 1188.5l-4.5 10l3.5-6.5l4.5-10.5z" fill="#94d060"/>
<path d="M1326 1440.5l-5 6l5 7l4.5-6z" fill="#3d3675"/>
<path d="M1363 1172l-4-2.5l4 13l4 2z" fill="#99c753"/>
<path d="M1374 1291.5l-4.5 6l4.5 9.5l4.5-6z" fill="#3b796e"/>
<path d="M1403.5 1332l-4.5 5.5l5 6l4.5-5.5z" fill="#43808c"/>
<path d="M1381.5 1395l-4.5 8.5l4.5 5l5-8.5z" fill="#384f78"/>
<path d="M1385.5 1362l-5 9.5l5 5.5l4.5-9.5z" fill="#33576f"/>
<path d="M1370.5 1234.5l-4 1l4 12.5l4-1z" fill="#539b67"/>
<path d="M1374 1278.5l-4.5 5l4.5 10l4.5-4.5z" fill="#3e7f6d"/>
<path d="M1385.5 1375l-5 10l5 4.5l4.5-9.5z" fill="#335371"/>
<path d="M1385.5 1336.5l-5 8.5l5 6.5l4.5-8.5z" fill="#346470"/>
<path d="M1359 1434.5l-4.5 6.5l5 5.5l4.5-7z" fill="#403d7d"/>
<path d="M1385.5 1349.5l-5 8.5l5 6l4.5-8.5z" fill="#345e70"/>
<path d="M1389 1330.5l-4.5 7l4.5 6.5l4.5-7z" fill="#3a707b"/>
<path d="M1355.5 1308.5l-4.5 9.5l4.5 9.5l5-9z" fill="#38706f"/>
<path d="M1396.5 1331l-5 6l5 6.5l4.5-6z" fill="#3d7681"/>
<path d="M1307.5 1407l-4.5 5.5l4.5 9.5l4.5-5.5z" fill="#33406c"/>
<path d="M1315 1433.5l-5 5.5l5 7.5l4.5-5.5z" fill="#3b3974"/>
<path d="M1311 1427l-4.5 5.5l4.5 8l5-6z" fill="#393b73"/>
<path d="M1337 1447l-4.5 6l4.5 6l5-6z" fill="#403578"/>
<path d="M1186 1319.5l-5 3.5l2.5-7l5.5-3.5z" fill="#468c8b"/>
<path d="M1311 1374l-4.5 6l4.5 10l4.5-5.5z" fill="#32526f"/>
<path d="M1326 1334.5l-4.5 7l4.5 11l4.5-7z" fill="#346370"/>
<path d="M1329.5 1328l-4.5 7l4.5 11l4.5-7z" fill="#356670"/>
<path d="M1367 1302.5l-5 8l4.5 9.5l5-8z" fill="#39736f"/>
<path d="M1307.5 1393.5l-4.5 5.5l4.5 10l4.5-5.5z" fill="#32486d"/>
<path d="M1322.5 1341l-5 6.5l4.5 11l5-6.5z" fill="#346170"/>
<path d="M1329.5 1446.5l-4.5 5.5l4.5 7l5-6z" fill="#3f3475"/>
<path d="M1370.5 1297l-4.5 6.5l4.5 9l4.5-6.5z" fill="#3a766f"/>
<path d="M1366.5 1202l-3.5-1.5l4 14l3.5 1.5z" fill="#6fae5c"/>
<path d="M1318.5 1439.5l-4.5 6l4.5 7l4.5-5.5z" fill="#3d3775"/>
<path d="M1414.5 1339l-4 3l5 5.5l4-3.5z" fill="#427d8c"/>
<path d="M1348.5 1307.5l-5 9.5l4.5 10l5-9z" fill="#38706f"/>
<path d="M1307.5 1420l-5 5.5l5 8l4.5-5.5z" fill="#373e72"/>
<path d="M1333.5 1321l-4.5 7.5l4.5 11l4.5-7.5z" fill="#366a70"/>
<path d="M1385.5 1387.5l-5 9l5 5l4.5-9z" fill="#365277"/>
<path d="M1344.5 1446.5l-4.5 6.5l4.5 5.5l4.5-6.5z" fill="#42367b"/>
<path d="M1355.5 1440l-4.5 7l4.5 5l5-7z" fill="#413b7d"/>
<path d="M1318.5 1347l-4.5 6.5l4.5 11l4.5-6.5z" fill="#335e70"/>
<path d="M1389 1342l-4.5 8.5l4.5 6l5-8z" fill="#356271"/>
<path d="M1392.5 1336.5l-4.5 6.5l5 6.5l4.5-7z" fill="#3a6f7c"/>
<path d="M1370.5 1246l-4 1.5l4 12l4-1.5z" fill="#4e966b"/>
<path d="M1389 1354.5l-4.5 9l4.5 5.5l5-8.5z" fill="#355f73"/>
<path d="M1337 1314l-4.5 7.5l4.5 11l4.5-7.5z" fill="#376d6f"/>
<path d="M1322 1445.5l-4.5 6l5 6.5l4.5-5.5z" fill="#3e3475"/>
<path d="M1355.5 1145.5l-4-3l4.5 11l3.5 3z" fill="#cadf52"/>
<path d="M1278 1180l-4.5 10.5l4-7l4-10.5z" fill="#a0d45a"/>
<path d="M1400 1336.5l-4.5 6l5 6l4.5-6.5z" fill="#3f7785"/>
<path d="M1315 1353l-5 6.5l5 11l4.5-6.5z" fill="#335b6f"/>
<path d="M1359.5 1301l-5 8.5l5 10l4.5-8.5z" fill="#39746f"/>
<path d="M1351.5 1141.5l-4-3l5 5.5l3.5 3.5z" fill="#d2e152"/>
<path d="M1374 1420l-4.5 7.5l5 4.5l4.5-7.5z" fill="#3d467e"/>
<path d="M1407.5 1337l-4.5 5.5l5 5l4.5-5z" fill="#427e8c"/>
<path d="M1307.5 1379.5l-4.5 5.5l4.5 10.5l4.5-6z" fill="#324f6e"/>
<path d="M1378 1413l-5 8l5 4.5l4.5-7.5z" fill="#3c497e"/>
<path d="M1370.5 1283l-4.5 5.5l4.5 10.5l4.5-6z" fill="#3d7d6e"/>
<path d="M1167.5 1338l-5 2.5l2.5-7l5-2.5z" fill="#43818c"/>
<path d="M1370.5 1426l-4.5 7.5l4.5 5l5-7.5z" fill="#3e427e"/>
<path d="M1389 1367l-4.5 9.5l4.5 5l5-9.5z" fill="#345872"/>
<path d="M1425.5 1345l-4 2.5l5.5 4.5l4-2.5z" fill="#417a8c"/>
<path d="M1333.5 1452l-5 6l5 6l4.5-6z" fill="#413378"/>
<path d="M1352 1445.5l-5 6.5l5 5.5l4.5-7z" fill="#41387b"/>
<path d="M1303.5 1412l-4.5 5.5l4.5 9l5-5.5z" fill="#333f6c"/>
<path d="M1381.5 1406.5l-4.5 8l5 4.5l4.5-8z" fill="#3a4c7c"/>
<path d="M1366.5 1432.5l-4.5 7.5l5 4.5l4.5-7.5z" fill="#3f407e"/>
<path d="M1303.5 1398.5l-4.5 5.5l4.5 10l5-5.5z" fill="#32456c"/>
<path d="M1311 1438.5l-4.5 5.5l4.5 7l5-5.5z" fill="#3b3773"/>
<path d="M1370.5 1257.5l-4 2.5l4 11.5l4-2.5z" fill="#49906d"/>
<path d="M1341 1452l-5 6l5 5.5l4.5-6.5z" fill="#423379"/>
<path d="M1307.5 1431.5l-5 5.5l5 8l4.5-5.5z" fill="#393a72"/>
<path d="M1341 1306.5l-5 8l5 11l4.5-8z" fill="#38716f"/>
<path d="M1393 1347.5l-5 8.5l5 5.5l4.5-8.5z" fill="#366375"/>
<path d="M1389 1379.5l-4.5 9.5l4.5 5l5-9.5z" fill="#345272"/>
<path d="M1311 1359l-4.5 6l4.5 11l4.5-6z" fill="#33596f"/>
<path d="M1396.5 1341.5l-4.5 7l4.5 6l5-7z" fill="#3c7080"/>
<path d="M1326 1451.5l-4.5 5.5l4.5 6.5l4.5-5.5z" fill="#403275"/>
<path d="M1370.5 1269.5l-4.5 4.5l4.5 11l4.5-4.5z" fill="#41846b"/>
<path d="M1363 1294l-4.5 8l4.5 10l5-8z" fill="#3a786f"/>
<path d="M1385.5 1399.5l-5 8.5l5 4.5l4.5-8.5z" fill="#394f7a"/>
<path d="M1367 1288l-4.5 6.5l4.5 10l4.5-6.5z" fill="#3b7b6e"/>
<path d="M1315 1444.5l-5 5.5l5 7l4.5-5.5z" fill="#3d3574"/>
<path d="M1352 1299.5l-4.5 9l4.5 10.5l4.5-9.5z" fill="#39756f"/>
<path d="M1363 1438.5l-4.5 7l5 4.5l4.5-7z" fill="#413d7e"/>
<path d="M1303.5 1424.5l-4.5 5.5l4.5 8.5l5-5.5z" fill="#373c71"/>
<path d="M1367 1212.5l-4-0.5l4 13.5l4 0.5z" fill="#67a95f"/>
<path d="M1303.5 1384.5l-4.5 5.5l4.5 10.5l5-5.5z" fill="#324d6e"/>
<path d="M1348 1451l-4.5 6.5l5 5l4.5-6.5z" fill="#42347a"/>
<path d="M1393 1359.5l-5 9l5 5l4.5-9z" fill="#376178"/>
<path d="M1363 1180.5l-3.5-2l4 13.5l3.5 1.5z" fill="#8bbd53"/>
<path d="M1318.5 1450.5l-4.5 5.5l4.5 7l5-6z" fill="#3f3275"/>
<path d="M1404 1341.5l-4.5 6l5 5.5l4.5-6.5z" fill="#427b8c"/>
<path d="M1418.5 1343l-4 3l5 5l4-3z" fill="#427b8c"/>
<path d="M1307.5 1364.5l-4.5 5.5l4.5 11.5l4.5-6z" fill="#33576f"/>
<path d="M1389 1392l-4.5 9l5 4l4.5-8.5z" fill="#375279"/>
<path d="M1359.5 1444.5l-5 6.5l5 5l4.5-7z" fill="#41397c"/>
<path d="M1182 1323l-5 3.5l2.5-7.5l5.5-3z" fill="#468b8b"/>
<path d="M1359.5 1161.5l-4-2.5l4 12.5l4 2.5z" fill="#aace4f"/>
<path d="M1329.5 1457l-4.5 5.5l5 6l4.5-5.5z" fill="#423078"/>
<path d="M1344.5 1298l-4.5 9l4.5 11l5-9z" fill="#3a756f"/>
<path d="M1337 1457l-4.5 6l4.5 5.5l5-6z" fill="#423178"/>
<path d="M1300 1416.5l-4.5 5.5l4.5 9.5l4.5-5.5z" fill="#343d6c"/>
<path d="M1300 1403.5l-4.5 5l4.5 10l4.5-5z" fill="#32436c"/>
<path d="M1322.5 1324.5l-5 7l5 11.5l4.5-7z" fill="#366970"/>
<path d="M1411.5 1341.5l-4.5 5l5 5l4.5-5z" fill="#427c8c"/>
<path d="M1326 1318l-4.5 7l4.5 11.5l4.5-7z" fill="#376c70"/>
<path d="M1318.5 1331l-4.5 6.5l4.5 11.5l4.5-6.5z" fill="#356670"/>
<path d="M1356 1292l-5 8.5l4.5 10l5-8z" fill="#3b796e"/>
<path d="M1367 1223.5l-4 1l4 13l4-1z" fill="#5b9d60"/>
<path d="M1393 1371.5l-5 9.5l5 4.5l5-9.5z" fill="#345773"/>
<path d="M1396.5 1352.5l-4.5 8.5l5 5l4.5-8.5z" fill="#386679"/>
<path d="M1367 1273.5l-4.5 6l4.5 10.5l4.5-5.5z" fill="#40826b"/>
<path d="M1307.5 1443l-5 5.5l5 7.5l4.5-5.5z" fill="#3c3573"/>
<path d="M1303.5 1436.5l-4.5 5l4.5 8l5-5.5z" fill="#3a3872"/>
<path d="M1400.5 1346.5l-5 7l5 5.5l4.5-7.5z" fill="#3f7486"/>
<path d="M1322.5 1456l-5 6l5 6.5l4.5-6z" fill="#403075"/>
<path d="M1330 1311l-5 7.5l4.5 11.5l5-7.5z" fill="#38706f"/>
<path d="M1315 1337l-4.5 6.5l4.5 11.5l4.5-6.5z" fill="#346370"/>
<path d="M1355.5 1450l-4.5 6.5l5 5l4.5-7z" fill="#42367b"/>
<path d="M1344.5 1456.5l-4.5 6l4.5 5l5-6z" fill="#423178"/>
<path d="M1311 1449l-4.5 5.5l4.5 7.5l5-5.5z" fill="#3e3374"/>
<path d="M1303.5 1369.5l-4.5 6l4.5 11l5-5.5z" fill="#32556f"/>
<path d="M1378 1423.5l-4.5 8l5 4l4.5-7.5z" fill="#3f4682"/>
<path d="M1300 1389.5l-4.5 5.5l4.5 10.5l4.5-5.5z" fill="#324b6d"/>
<path d="M1300 1429.5l-4.5 5l4.5 8.5l4.5-5.5z" fill="#383b71"/>
<path d="M1382 1417l-5 8l5 4l4.5-7.5z" fill="#3d4a81"/>
<path d="M1374.5 1430l-5 7.5l5 4.5l4.5-7.5z" fill="#404381"/>
<path d="M1333.5 1303.5l-4.5 8l4.5 11.5l4.5-7.5z" fill="#39736f"/>
<path d="M1393 1383.5l-4.5 10l4.5 4l5-9.5z" fill="#355274"/>
<path d="M1311 1343l-4.5 6.5l4.5 11.5l4.5-6.5z" fill="#346170"/>
<path d="M1385.5 1410.5l-4.5 8l4.5 4l5-8z" fill="#3c4d7f"/>
<path d="M1359.5 1284.5l-4.5 8l4.5 10.5l4.5-8z" fill="#3c7d6e"/>
<path d="M1367 1235.5l-4 1.5l4 12l4-1.5z" fill="#539a66"/>
<path d="M1370.5 1436.5l-4.5 7.5l5 4l4.5-7.5z" fill="#413f80"/>
<path d="M1363.5 1279l-5 6.5l4.5 10.5l5-6.5z" fill="#3e806d"/>
<path d="M1315 1455l-5 5.5l5 7l4.5-5.5z" fill="#403175"/>
<path d="M1367 1259.5l-4.5 4.5l4.5 11.5l4.5-4.5z" fill="#458968"/>
<path d="M1389.5 1403l-5 8.5l5 4.5l4.5-8.5z" fill="#3a507d"/>
<path d="M1333.5 1462l-4.5 5.5l4.5 5.5l4.5-5.5z" fill="#432e76"/>
<path d="M1326 1461.5l-4.5 6l4.5 6l5-6z" fill="#432e76"/>
<path d="M1397 1364l-5 9l5 4.5l4.5-9z" fill="#386179"/>
<path d="M1348.5 1289.5l-5 9.5l5 10.5l4.5-9z" fill="#3b7a6e"/>
<path d="M1367 1442.5l-4.5 7l4.5 4.5l5-7.5z" fill="#413c7e"/>
<path d="M1367 1247l-4 2.5l4 12l4-2z" fill="#4c9268"/>
<path d="M1408 1345.5l-4.5 6.5l4.5 5l5-6.5z" fill="#417a8c"/>
<path d="M1337.5 1296l-5 8.5l4.5 11.5l5-8.5z" fill="#3a776f"/>
<path d="M1352 1455.5l-4.5 6l4.5 5l5-6.5z" fill="#423379"/>
<path d="M1296 1408l-4.5 5.5l4.5 10l5-5.5z" fill="#33426c"/>
<path d="M1307.5 1349l-4.5 6l4.5 11.5l4.5-6z" fill="#345e70"/>
<path d="M1363.5 1190l-4-1.5l4 14l3.5 1.5z" fill="#7cb354"/>
<path d="M1296 1421.5l-4.5 5l4.5 9.5l5-5.5z" fill="#343c6d"/>
<path d="M1300 1375l-4.5 5.5l4.5 11l4.5-5.5z" fill="#32536f"/>
<path d="M1341 1461.5l-5 6l5 5l4.5-6z" fill="#432f77"/>
<path d="M1318.5 1461l-4.5 5.5l4.5 6.5l5-5.5z" fill="#412e75"/>
<path d="M1422.5 1346.5l-4 3.5l5 4.5l4-3.5z" fill="#417a8c"/>
<path d="M1303.5 1447.5l-4.5 5l4.5 8l5-5.5z" fill="#3d3474"/>
<path d="M1296 1394.5l-4.5 5l4.5 10.5l5-5z" fill="#32496d"/>
<path d="M1300 1441l-4.5 5l4.5 8l4.5-5z" fill="#3b3772"/>
<path d="M1393 1395.5l-4.5 9l5 4l4.5-9z" fill="#39537c"/>
<path d="M1363 1448l-4.5 7l5 4.5l4.5-7z" fill="#41387c"/>
<path d="M1400.5 1357l-4.5 8.5l4.5 4.5l5-8.5z" fill="#39657b"/>
<path d="M1415.5 1345.5l-4.5 5l5 5l4.5-5.5z" fill="#427b8c"/>
<path d="M1404 1351l-4.5 7l5 5l4.5-7.5z" fill="#3f7488"/>
<path d="M1397 1375.5l-5 9.5l5 4.5l4.5-9.5z" fill="#355875"/>
<path d="M1307.5 1454l-5 5l5 7l4.5-5z" fill="#3f3275"/>
<path d="M1178 1326.5l-5 3l2.5-7l5.5-3.5z" fill="#468a8b"/>
<path d="M1296 1434l-4.5 5l4.5 8.5l5-5z" fill="#393971"/>
<path d="M1303.5 1354.5l-4.5 5.5l4.5 11.5l5-5.5z" fill="#335c6f"/>
<path d="M1356 1151.5l-4-2.5l4 12l4 2.5z" fill="#c0db50"/>
<path d="M1352.5 1282l-5 8.5l4.5 11l5-8.5z" fill="#3d7e6d"/>
<path d="M1363.5 1264l-4.5 5.5l4.5 11.5l4.5-6z" fill="#448769"/>
<path d="M1348.5 1460.5l-5 6.5l5 4.5l4.5-6z" fill="#423077"/>
<path d="M1341 1288l-4.5 9l4.5 11.5l4.5-9z" fill="#3c7b6e"/>
<path d="M1330 1466.5l-5 6l5 5.5l4.5-6z" fill="#432c75"/>
<path d="M1311 1460l-4.5 5l4.5 7l5-5.5z" fill="#412f75"/>
<path d="M1359.5 1169.5l-4-2l4.5 13l3.5 2z" fill="#9dc64f"/>
<path d="M1359.5 1454l-4.5 6.5l5 4.5l4.5-7z" fill="#42357a"/>
<path d="M1322.5 1466.5l-5 5.5l5 6l4.5-5.5z" fill="#432c75"/>
<path d="M1363.5 1200.5l-4-0.5l4 14l4 0.5z" fill="#70ab57"/>
<path d="M1296 1380l-4.5 5.5l4.5 11l5-5.5z" fill="#32516f"/>
<path d="M1318.5 1314l-4.5 7l4.5 12l4.5-7z" fill="#376f6f"/>
<path d="M1292.5 1413l-4.5 5l4.5 10l4.5-5z" fill="#33406b"/>
<path d="M1322.5 1307.5l-4.5 7l4.5 12l4.5-7.5z" fill="#38726f"/>
<path d="M1315 1320.5l-4.5 6.5l4.5 12l4.5-6.5z" fill="#376c70"/>
<path d="M1337 1466.5l-4.5 6l5 5l4.5-6z" fill="#432c75"/>
<path d="M1397 1387.5l-5 9.5l5 4l5-9.5z" fill="#365376"/>
<path d="M1356 1275l-4.5 8l4.5 11l4.5-8z" fill="#40826c"/>
<path d="M1292.5 1426l-4.5 5l4.5 9l4.5-4.5z" fill="#353b6d"/>
<path d="M1360 1269l-5 6.5l4.5 11l4.5-6z" fill="#42856a"/>
<path d="M1300 1359.5l-4.5 6l4.5 11.5l4.5-5.5z" fill="#335a6f"/>
<path d="M1326 1300.5l-4.5 7.5l4.5 12l4.5-7.5z" fill="#3a766f"/>
<path d="M1400.5 1368l-4.5 9l5 4.5l4.5-9z" fill="#38617c"/>
<path d="M1311 1326.5l-4.5 6.5l4.5 12l4.5-6.5z" fill="#366970"/>
<path d="M1292.5 1399l-4.5 5.5l4.5 10.5l4.5-5.5z" fill="#32476d"/>
<path d="M1412 1349.5l-5 6.5l5 5l5-7z" fill="#41788c"/>
<path d="M1266.5 1204.5l-4 9l3.5-5.5l4.5-8.5z" fill="#86cc67"/>
<path d="M1252 1231l-4.5 7.5l3.5-5l4.5-7.5z" fill="#6ebf73"/>
<path d="M1315 1465.5l-5 5.5l5 6.5l4.5-5.5z" fill="#432d75"/>
<path d="M1363.5 1212l-4 1l4 13l4-0.5z" fill="#63a159"/>
<path d="M1330 1293.5l-5 7.5l5 12l4.5-8z" fill="#3b796e"/>
<path d="M1344.5 1465.5l-4.5 6.5l5 4.5l4.5-6z" fill="#432d76"/>
<path d="M1356 1459.5l-5 6.5l5 4l4.5-6.5z" fill="#423178"/>
<path d="M1307.5 1332.5l-4.5 6.5l4.5 12l4.5-6.5z" fill="#356670"/>
<path d="M1300 1452l-4.5 5l4.5 7.5l4.5-5z" fill="#3f3375"/>
<path d="M1296 1445.5l-4.5 4.5l4.5 8l5-4.5z" fill="#3c3674"/>
<path d="M1363.5 1249.5l-4.5 4.5l4.5 12l4.5-4.5z" fill="#498e66"/>
<path d="M1270.5 1197.5l-4.5 9l4-5l4-9.5z" fill="#8fcf62"/>
<path d="M1248.5 1237l-5 7.5l3.5-5.5l5-7z" fill="#6abc76"/>
<path d="M1345 1279.5l-5 9l4.5 11.5l5-9z" fill="#3e806d"/>
<path d="M1404.5 1361l-4.5 8.5l4.5 4.5l5-8.5z" fill="#39667d"/>
<path d="M1363.5 1224l-4 1.5l4 13l4-1.5z" fill="#5b9c5e"/>
<path d="M1408 1355l-4.5 7l5 4.5l4.5-7z" fill="#40758b"/>
<path d="M1303.5 1458.5l-4.5 4.5l4.5 7.5l5-5z" fill="#413176"/>
<path d="M1292.5 1438l-4.5 5l4.5 8.5l4.5-5z" fill="#3a3972"/>
<path d="M1292.5 1385l-4.5 5l4.5 11l4.5-5z" fill="#324f6e"/>
<path d="M1326 1471.5l-4.5 5.5l4.5 5.5l5-5.5z" fill="#442974"/>
<path d="M1296 1365l-4.5 5.5l4.5 11.5l5-5.5z" fill="#33586f"/>
<path d="M1363.5 1236.5l-4 2.5l4 12.5l4-2.5z" fill="#519663"/>
<path d="M1419 1349l-4 5.5l5 4.5l4.5-5.5z" fill="#417a8c"/>
<path d="M1333.5 1285.5l-4.5 8.5l4.5 11.5l4.5-8z" fill="#3c7d6e"/>
<path d="M1303.5 1338.5l-4.5 6l4.5 12l5-6z" fill="#346470"/>
<path d="M1401 1379.5l-5 9.5l5 4l4.5-9.5z" fill="#365977"/>
<path d="M1192.5 1310.5l-5 3.5l3-8l5-3z" fill="#49958a"/>
<path d="M1318.5 1471l-4.5 5.5l4.5 6l5-5.5z" fill="#442a74"/>
<path d="M1352 1142.5l-4-2.5l4.5 11l4 2.5z" fill="#d1e052"/>
<path d="M1333.5 1471l-4.5 6l4.5 5.5l5-6z" fill="#442a74"/>
<path d="M1274 1190l-4.5 9.5l4-5.5l4.5-9.5z" fill="#98d15e"/>
<path d="M1307.5 1464l-5 5l5 7l4.5-5z" fill="#432e76"/>
<path d="M1348 1138l-4-2l5 5.5l4 2.5z" fill="#dbe253"/>
<path d="M1289 1417.5l-5 4.5l5 10.5l4.5-5z" fill="#333e6b"/>
<path d="M1352 1464.5l-4.5 6.5l5 4.5l4.5-6.5z" fill="#432f77"/>
<path d="M1174 1329.5l-5 3l2.5-7l5.5-3z" fill="#45898b"/>
<path d="M1288.5 1404l-4.5 5l5 10.5l4.5-5z" fill="#32456c"/>
<path d="M1289 1430.5l-5 4.5l4.5 9.5l5-5z" fill="#363a6e"/>
<path d="M1348.5 1272l-4.5 8l4.5 11.5l4.5-8z" fill="#41836b"/>
<path d="M1341 1470.5l-4.5 6l4.5 5l5-6z" fill="#432b74"/>
<path d="M1360 1253.5l-4.5 5.5l4 12l4.5-5.5z" fill="#488c67"/>
<path d="M1300 1344l-4.5 6l4.5 11.5l4.5-5.5z" fill="#346270"/>
<path d="M1359.5 1178.5l-3.5-1.5l4 13.5l3.5 1.5z" fill="#90be50"/>
<path d="M1311 1470l-4.5 5l4.5 6.5l5-5z" fill="#432b74"/>
<path d="M1337.5 1277.5l-5 9l5 11.5l4.5-9z" fill="#3f816c"/>
<path d="M1292.5 1370l-4.5 5.5l4.5 11.5l4.5-5.5z" fill="#33566f"/>
<path d="M1404.5 1372l-4.5 9l5 4l4.5-9z" fill="#3a637f"/>
<path d="M1288.5 1389.5l-4.5 5.5l4.5 11l5-5.5z" fill="#324d6e"/>
<path d="M1277.5 1181.5l-4 10l4-5l4-10.5z" fill="#a3d559"/>
<path d="M1415.5 1353.5l-4.5 6.5l5 4l5-6.5z" fill="#41778c"/>
<path d="M1356 1159l-4-2l4 12.5l4 2z" fill="#aecd4c"/>
<path d="M1352.5 1264.5l-4.5 8l4.5 11.5l4.5-7.5z" fill="#448769"/>
<path d="M1356 1258.5l-4.5 6.5l4.5 12l4.5-6.5z" fill="#468a68"/>
<path d="M1296 1456l-4.5 5l4.5 7.5l5-5z" fill="#403376"/>
<path d="M1292.5 1449.5l-4.5 4.5l4.5 8l4.5-4.5z" fill="#3d3575"/>
<path d="M1322.5 1476l-5 5.5l5 5.5l4.5-5.5z" fill="#432771"/>
<path d="M1348.5 1469.5l-4.5 6.5l4.5 4.5l5-6.5z" fill="#432c75"/>
<path d="M1330 1476l-5 5.5l5 5.5l4.5-5.5z" fill="#432771"/>
<path d="M1296 1349.5l-4.5 5.5l4.5 12l5-5.5z" fill="#346070"/>
<path d="M1315 1303l-4.5 7l4.5 12.5l4.5-7z" fill="#3a756f"/>
<path d="M1300 1462.5l-4.5 4.5l4.5 7.5l4.5-5z" fill="#423077"/>
<path d="M1318.5 1296.5l-4.5 7l4.5 12.5l5-7z" fill="#3b796e"/>
<path d="M1288.5 1442.5l-4.5 4.5l4.5 8.5l5-4.5z" fill="#3b3873"/>
<path d="M1311 1309.5l-4.5 7l4.5 12l5-6.5z" fill="#38726f"/>
<path d="M1408.5 1364.5l-4.5 9l4.5 4l5-9z" fill="#3b6880"/>
<path d="M1412 1359l-4.5 7l5 4l4.5-7z" fill="#41758b"/>
<path d="M1315 1475.5l-5 5l5 6.5l4.5-5.5z" fill="#432872"/>
<path d="M1322.5 1289.5l-4.5 7.5l4.5 12.5l4.5-7.5z" fill="#3c7c6e"/>
<path d="M1307.5 1316l-4.5 6.5l4.5 12l4.5-6.5z" fill="#386f6f"/>
<path d="M1337.5 1475.5l-5 6l5 5l4.5-6z" fill="#432872"/>
<path d="M1285 1421.5l-4.5 5l4.5 10l4.5-4.5z" fill="#343e6c"/>
<path d="M1285 1408.5l-4.5 4.5l4.5 10.5l4.5-4.5z" fill="#32446c"/>
<path d="M1303.5 1468.5l-4.5 4.5l4.5 7l5-4.5z" fill="#432d76"/>
<path d="M1360 1238.5l-4.5 4.5l4.5 12.5l4-4.5z" fill="#4f9362"/>
<path d="M1360 1188.5l-4-0.5l4 14l4 0.5z" fill="#7daf4f"/>
<path d="M1188.5 1314l-5 3.5l3-8l5-3z" fill="#49948a"/>
<path d="M1326.5 1282.5l-5 7.5l4.5 12.5l5-8z" fill="#3e7f6d"/>
<path d="M1288.5 1375l-4.5 5l4.5 11.5l5-5z" fill="#32556f"/>
<path d="M1341.5 1269l-5 9l4.5 12l5-9z" fill="#42856a"/>
<path d="M1303.5 1322l-4.5 6l4.5 12.5l5-6z" fill="#376d6f"/>
<path d="M1281.5 1173l-4.5 10l4-5.5l4.5-10z" fill="#afd855"/>
<path d="M1285 1434.5l-4.5 4.5l4.5 9.5l4.5-4.5z" fill="#373a6f"/>
<path d="M1285 1394.5l-4.5 5l4.5 11l4.5-5z" fill="#324b6e"/>
<path d="M1292.5 1354.5l-4.5 5.5l4.5 12l4.5-5.5z" fill="#335e70"/>
<path d="M1360 1200l-4 1l4 13.5l4-0.5z" fill="#6ca352"/>
<path d="M1345 1474.5l-5 6.5l5 4.5l4.5-6z" fill="#442974"/>
<path d="M1307.5 1474l-5 5l5 6.5l4.5-4.5z" fill="#442974"/>
<path d="M1360 1225.5l-4 2.5l4 12.5l4-2z" fill="#59995c"/>
<path d="M1360 1212.5l-4 1.5l4 13.5l4-1.5z" fill="#63a057"/>
<path d="M1330 1274.5l-4.5 8.5l4.5 12.5l4.5-8.5z" fill="#41836b"/>
<path d="M1300 1327.5l-4.5 6l4.5 12.5l4.5-6z" fill="#366a70"/>
<path d="M1170 1332.5l-5 2.5l2.5-7l5-2.5z" fill="#45898b"/>
<path d="M1326 1480.5l-4.5 5.5l5 5.5l4.5-5.5z" fill="#43256f"/>
<path d="M1318.5 1480.5l-4.5 5.5l5 5.5l4.5-5.5z" fill="#43256f"/>
<path d="M1345 1261l-4.5 8.5l4.5 12l4.5-8.5z" fill="#458968"/>
<path d="M1333.5 1480.5l-4.5 5.5l5 5l4.5-5.5z" fill="#432570"/>
<path d="M1292.5 1460l-5 4.5l5 8l4.5-5z" fill="#403276"/>
<path d="M1288.5 1453.5l-4.5 4.5l4.5 8l5-4.5z" fill="#3e3474"/>
<path d="M1356.5 1243l-4.5 5.5l4 12l4.5-5.5z" fill="#4d9164"/>
<path d="M1285 1165l-4 9.5l4-5.5l4-9.5z" fill="#badc52"/>
<path d="M1285 1379.5l-4.5 5l4.5 12l4.5-5.5z" fill="#32536f"/>
<path d="M1352.5 1149l-4-2l4 12l4 2z" fill="#c5d950"/>
<path d="M1296 1466.5l-4.5 4.5l4.5 7.5l5-5z" fill="#432f77"/>
<path d="M1296 1333l-4.5 6l4.5 12.5l5-6z" fill="#356870"/>
<path d="M1285 1446.5l-4.5 4.5l4.5 8.5l4.5-4.5z" fill="#3b3773"/>
<path d="M1288.5 1359.5l-4.5 5.5l4.5 12l5-5.5z" fill="#335c6f"/>
<path d="M1281 1413l-4.5 4.5l4.5 10.5l5-4.5z" fill="#32426c"/>
<path d="M1311 1479.5l-4.5 5l4.5 6.5l5-5z" fill="#432670"/>
<path d="M1356 1167.5l-3.5-1.5l4 13l3.5 1.5z" fill="#a2c74d"/>
<path d="M1281 1426l-4.5 4l4.5 10.5l5-4.5z" fill="#343d6d"/>
<path d="M1340.5 1133l-4-2l5.5 4l4 2z" fill="#e5e454"/>
<path d="M1334 1266l-5 9.5l4.5 12l5-9z" fill="#448769"/>
<path d="M1349 1254l-5 8l4.5 12l5-8z" fill="#488c67"/>
<path d="M1352.5 1248l-4.5 6.5l4.5 12l4.5-6z" fill="#4a8f65"/>
<path d="M1341 1479.5l-4.5 6l5 4.5l4.5-6z" fill="#432671"/>
<path d="M1281 1399l-4.5 4.5l4.5 11.5l5-5z" fill="#32496d"/>
<path d="M1289 1158l-4.5 9l4-5.5l4.5-9.5z" fill="#c4de52"/>
<path d="M1300 1472.5l-5 4.5l5 7l4.5-4.5z" fill="#432b75"/>
<path d="M1293.5 1153l-5.5 6.5l3.5-6l5-7z" fill="#cde052"/>
<path d="M1184.5 1317.5l-5 3.5l3-8l5-3.5z" fill="#49938a"/>
<path d="M1281 1438.5l-4.5 4.5l4.5 9l5-4z" fill="#37396f"/>
<path d="M1292.5 1338.5l-4.5 6l4.5 12l4.5-5.5z" fill="#356670"/>
<path d="M1322.5 1485l-4.5 5.5l4.5 5.5l5-5.5z" fill="#42236d"/>
<path d="M1311.5 1292l-5 7l4.5 12.5l5-7z" fill="#3c7c6e"/>
<path d="M1303.5 1478l-4.5 5l4.5 6.5l5-4.5z" fill="#432872"/>
<path d="M1315 1285l-4.5 7.5l4.5 12.5l4.5-7z" fill="#3e7f6d"/>
<path d="M1307.5 1298.5l-4.5 6.5l4.5 13l4.5-7z" fill="#3b796e"/>
<path d="M1330 1485l-4.5 5.5l4.5 5l5-5.5z" fill="#42236d"/>
<path d="M1285 1364.5l-4.5 5l4.5 12l4.5-5z" fill="#335a6f"/>
<path d="M1281 1384.5l-4.5 5l4.5 11.5l5-5z" fill="#32526f"/>
<path d="M1319 1278l-5 7.5l4.5 13l5-7.5z" fill="#40826b"/>
<path d="M1315 1485l-5 5l5 5.5l5-5z" fill="#42236d"/>
<path d="M1303.5 1304.5l-4.5 6.5l4.5 13l5-6.5z" fill="#3a766f"/>
<path d="M1356.5 1227.5l-4.5 4.5l4.5 13l4-4.5z" fill="#58985c"/>
<path d="M1337.5 1258l-4.5 9l4.5 12.5l4.5-9.5z" fill="#478b67"/>
<path d="M1322.5 1271l-4.5 7.5l4.5 13l4.5-7.5z" fill="#42856a"/>
<path d="M1288.5 1464l-4.5 4.5l4.5 8l5-5z" fill="#413175"/>
<path d="M1285 1457.5l-5 4.5l5 8l4.5-4.5z" fill="#3e3374"/>
<path d="M1337.5 1484.5l-4.5 6l4.5 4.5l5-6z" fill="#42246e"/>
<path d="M1300 1310.5l-4.5 6.5l4.5 12.5l4.5-6z" fill="#39736f"/>
<path d="M1288.5 1344l-4.5 5.5l4.5 12l5-5.5z" fill="#346470"/>
<path d="M1348.5 1139.5l-4-2l4.5 11.5l4 1.5z" fill="#d6de51"/>
<path d="M1277.5 1417l-5 4l5 10.5l4.5-4z" fill="#33426d"/>
<path d="M1356.5 1177l-4-0.5l4 13l4 0.5z" fill="#91ba4c"/>
<path d="M1292.5 1470.5l-5 4.5l5 7.5l4.5-5z" fill="#432e76"/>
<path d="M1345 1135.5l-4.5-2l5 6l4 2z" fill="#e2e454"/>
<path d="M1307.5 1483.5l-5 5l5 6.5l4.5-5z" fill="#43246f"/>
<path d="M1281 1450l-4.5 4.5l4.5 8.5l5-4.5z" fill="#3c3673"/>
<path d="M1277.5 1403l-4.5 4.5l4.5 11.5l4.5-4.5z" fill="#32486d"/>
<path d="M1277.5 1429.5l-5 4.5l5 10l4.5-4z" fill="#353c6d"/>
<path d="M1356.5 1214l-4.5 2l4.5 13.5l4-2z" fill="#639f56"/>
<path d="M1326.5 1263.5l-5 8l4.5 13l5-8.5z" fill="#458968"/>
<path d="M1296 1316.5l-4.5 6l4.5 12.5l5-5.5z" fill="#38716f"/>
<path d="M1262.5 1213l-4.5 8l4-3.5l4.5-8.5z" fill="#82ca69"/>
<path d="M1266.5 1206l-4.5 8.5l4-3.5l4.5-9z" fill="#89cd65"/>
<path d="M1296 1476.5l-4.5 4.5l4.5 7l5-4.5z" fill="#432a74"/>
<path d="M1259 1219.5l-4.5 8l4-4l4.5-8z" fill="#7cc66c"/>
<path d="M1341.5 1250l-5 8.5l5 12.5l4.5-8.5z" fill="#4a8f66"/>
<path d="M1281 1369.5l-4.5 5l4.5 12l4.5-5.5z" fill="#33596f"/>
<path d="M1356.5 1200.5l-4 1.5l4 14l4-1.5z" fill="#6ea451"/>
<path d="M1352.5 1231.5l-4.5 6l4.5 12.5l4.5-5.5z" fill="#55975e"/>
<path d="M1356.5 1187.5l-4 1l4 14l4-0.5z" fill="#7aa84a"/>
<path d="M1270 1199.5l-4.5 8.5l4-4l4.5-9z" fill="#91cf61"/>
<path d="M1255 1225.5l-4.5 8l4-4l4.5-7.5z" fill="#77c36f"/>
<path d="M1352.5 1157l-4-1.5l4.5 12.5l3.5 1.5z" fill="#b3cd4b"/>
<path d="M1277.5 1389l-5 4.5l5 11.5l4.5-4.5z" fill="#32506e"/>
<path d="M1277.5 1442l-5 4.5l5 9.5l4.5-4.5z" fill="#38386f"/>
<path d="M1326.5 1489.5l-5 5.5l5 5l4.5-5.5z" fill="#42216b"/>
<path d="M1285 1349l-4.5 5l4.5 12.5l4.5-5z" fill="#346270"/>
<path d="M1318.5 1489.5l-4.5 5l5 5.5l4.5-5z" fill="#42216b"/>
<path d="M1180.5 1321l-5 3l2.5-8l5.5-3z" fill="#48928a"/>
<path d="M1274 1192l-4.5 9l4-4l4.5-9z" fill="#9ad25d"/>
<path d="M1251.5 1231.5l-4.5 7.5l3.5-3.5l4.5-7.5z" fill="#72c072"/>
<path d="M1292.5 1322l-4.5 6l4.5 12.5l4.5-5.5z" fill="#376e6f"/>
<path d="M1300 1482l-5 5l5 6.5l4.5-4.5z" fill="#432671"/>
<path d="M1345.5 1243l-5 7.5l4.5 12.5l4.5-7.5z" fill="#4e9263"/>
<path d="M1349 1237l-4.5 6l4.5 13l4.5-6.5z" fill="#529560"/>
<path d="M1334 1489l-5 6l5 4.5l4.5-5.5z" fill="#42216c"/>
<path d="M1311 1489l-4.5 5l5 5.5l4.5-5z" fill="#42216c"/>
<path d="M1330 1255l-4.5 9l4.5 12.5l5-9z" fill="#488d67"/>
<path d="M1277.5 1184.5l-4.5 9.5l4-4.5l4.5-9.5z" fill="#a3d559"/>
<path d="M1285 1468l-5 4.5l5 7.5l4.5-4.5z" fill="#413076"/>
<path d="M1281 1461l-4.5 4.5l4.5 8l5-4z" fill="#3f3274"/>
<path d="M1273.5 1421l-4.5 4l4.5 10.5l4.5-4z" fill="#33416d"/>
<path d="M1277.5 1374l-5 5l5 12l4.5-5z" fill="#33576f"/>
<path d="M1288.5 1327.5l-4.5 5.5l4.5 13l4.5-5.5z" fill="#376c70"/>
<path d="M1273.5 1407.5l-4.5 4l4.5 11.5l4.5-4.5z" fill="#32476d"/>
<path d="M1303.5 1487.5l-4.5 5l4.5 6.5l5-5z" fill="#42236d"/>
<path d="M1288.5 1474.5l-4.5 4.5l4.5 7l5-4.5z" fill="#432d75"/>
<path d="M1281 1354l-4.5 5l4.5 12.5l4.5-5.5z" fill="#346070"/>
<path d="M1277.5 1454l-5 4.5l5 8.5l4.5-4.5z" fill="#3c3573"/>
<path d="M1273.5 1433.5l-4.5 4.5l4.5 10l4.5-4z" fill="#353b6d"/>
<path d="M1244 1243l-5 7l4-4l4.5-7z" fill="#69bb77"/>
<path d="M1307.5 1280l-4.5 7l4.5 13.5l4.5-7z" fill="#40826b"/>
<path d="M1273.5 1393l-4.5 4.5l4.5 12l4.5-4.5z" fill="#324e6e"/>
<path d="M1353 1216l-4.5 4.5l4 13l4.5-4z" fill="#629e57"/>
<path d="M1311.5 1273.5l-5 7l5 13.5l4.5-7.5z" fill="#42856a"/>
<path d="M1303.5 1286.5l-4.5 7l4.5 13l5-6.5z" fill="#3e7f6d"/>
<path d="M1292.5 1480.5l-5 4.5l5 7l4.5-4.5z" fill="#432973"/>
<path d="M1334 1246.5l-4.5 9l4.5 12.5l4.5-9z" fill="#4c9164"/>
<path d="M1281 1175.5l-4 10.5l4-4l4.5-10.5z" fill="#aed855"/>
<path d="M1315 1266.5l-4.5 7.5l4.5 13l4.5-7z" fill="#458869"/>
<path d="M1300 1293l-4.5 6.5l4.5 13l4.5-6z" fill="#3c7d6e"/>
<path d="M1352.5 1166l-4-1l4.5 13l4 0.5z" fill="#a3c349"/>
<path d="M1285 1332.5l-4.5 5.5l4.5 13l4.5-5.5z" fill="#366a70"/>
<path d="M1273.5 1446l-4.5 4.5l4.5 9.5l4.5-4.5z" fill="#38376f"/>
<path d="M1319 1259l-5 8l5 13l4.5-7.5z" fill="#478b67"/>
<path d="M1349 1147l-4-2l4 12l4 2z" fill="#cad94f"/>
<path d="M1296 1299l-4.5 6l4.5 13.5l5-6z" fill="#3b7a6e"/>
<path d="M1296 1486l-4.5 4.5l4.5 7l5-4.5z" fill="#43256f"/>
<path d="M1240 1248l-4.5 7l3.5-3.5l5-7z" fill="#65b979"/>
<path d="M1337 1130.5l-4-1.5l5 4.5l4.5 1.5z" fill="#ece554"/>
<path d="M1176.5 1324l-5 3l2.5-8l5.5-3z" fill="#48918b"/>
<path d="M1277.5 1358.5l-5 5l5 12.5l4.5-5z" fill="#345f70"/>
<path d="M1273.5 1378.5l-4.5 5l4.5 11.5l4.5-4.5z" fill="#33566f"/>
<path d="M1338 1238.5l-5 8.5l4.5 13l5-8.5z" fill="#519461"/>
<path d="M1353 1202l-4.5 2l4.5 14l4-2z" fill="#6ea451"/>
<path d="M1349 1220l-4.5 5.5l4.5 13.5l4.5-5.5z" fill="#5f9c58"/>
<path d="M1322.5 1251.5l-4.5 8l4.5 13.5l4.5-8z" fill="#4a8f66"/>
<path d="M1292.5 1305l-4.5 6l4.5 13l4.5-6z" fill="#3a786f"/>
<path d="M1269.5 1424.5l-4.5 4.5l4.5 10.5l5-4.5z" fill="#34406d"/>
<path d="M1285 1167l-4.5 10.5l4.5-4l4-10.5z" fill="#badc52"/>
<path d="M1269.5 1411l-4.5 4.5l4.5 11l5-4z" fill="#32466c"/>
<path d="M1281 1471.5l-4.5 4.5l4.5 8l5-4.5z" fill="#422f76"/>
<path d="M1277.5 1465l-5 4.5l5 8l4.5-4.5z" fill="#3f3274"/>
<path d="M1353 1176l-4.5 1l4.5 13.5l4-1z" fill="#8cb147"/>
<path d="M1281 1338l-4.5 5l4.5 13l4.5-5.5z" fill="#356870"/>
<path d="M1353 1188.5l-4 1l4 14.5l4-1.5z" fill="#7ca84a"/>
<path d="M1236.5 1253.5l-5 6.5l3.5-3.5l5-7z" fill="#62b77c"/>
<path d="M1285 1478l-5 4.5l5 7.5l4.5-4.5z" fill="#432b75"/>
<path d="M1341.5 1231.5l-4.5 7.5l4.5 13l4.5-7.5z" fill="#57985d"/>
<path d="M1269.5 1437.5l-4.5 4l4.5 10.5l5-4.5z" fill="#353b6d"/>
<path d="M1273.5 1458l-4.5 4l4.5 8.5l4.5-4z" fill="#3d3573"/>
<path d="M1345.5 1225.5l-4.5 6l4 13.5l5-6.5z" fill="#5b9a5a"/>
<path d="M1269.5 1397.5l-4.5 4l4.5 11.5l5-4z" fill="#324d6e"/>
<path d="M1288.5 1310.5l-4.5 5.5l4.5 13.5l4.5-6z" fill="#39756f"/>
<path d="M1288.5 1484l-4.5 4.5l4.5 7l5-4.5z" fill="#432872"/>
<path d="M1326.5 1243l-4.5 9l4.5 13.5l4.5-9.5z" fill="#4e9362"/>
<path d="M1273.5 1363l-4.5 5l4.5 12.5l4.5-5z" fill="#335d70"/>
<path d="M1288.5 1159.5l-4 9.5l4-4.5l4.5-9.5z" fill="#c6de52"/>
<path d="M1345.5 1137.5l-4.5-1.5l4.5 11l4 1.5z" fill="#dbde51"/>
<path d="M1269.5 1450l-4.5 4l4.5 9.5l5-4z" fill="#38376f"/>
<path d="M1269.5 1383l-4.5 4.5l4.5 12l5-4.5z" fill="#32556f"/>
<path d="M1341.5 1133.5l-4.5-1.5l5 5.5l4 1.5z" fill="#e9e554"/>
<path d="M1191.5 1308l-5 3.5l2.5-8l5-3.5z" fill="#4c9c8a"/>
<path d="M1277 1342.5l-4.5 5.5l5 12.5l4.5-5z" fill="#356670"/>
<path d="M1285 1316l-5 5.5l5 13l4.5-5.5z" fill="#39736f"/>
<path d="M1292.5 1490l-5 4.5l5 7l4.5-4.5z" fill="#42246e"/>
<path d="M1329 1128l-3.5-1l6 2l3.5 1z" fill="#f3e755"/>
<path d="M1349 1155l-4-0.5l4 12.5l4.5 0.5z" fill="#b4c849"/>
<path d="M1292.5 1152l-4.5 9l4.5-4l4-9.5z" fill="#d0e052"/>
<path d="M1296 1146l-4 8l4-4.5l4.5-8z" fill="#d9e253"/>
<path d="M1172.5 1327l-5 3l2.5-8l5-3z" fill="#48918b"/>
<path d="M1349.5 1204l-4.5 4l4 14l4.5-4.5z" fill="#6da451"/>
<path d="M1266 1415l-5 4.5l5 11l4.5-4.5z" fill="#32456c"/>
<path d="M1266 1428.5l-5 4l5 10.5l4.5-4z" fill="#343f6d"/>
<path d="M1330.5 1234.5l-5 9l4.5 13.5l5-9z" fill="#55965e"/>
<path d="M1304 1268l-5 7l4.5 13.5l5-7z" fill="#458968"/>
<path d="M1307.5 1261.5l-4.5 7l4.5 13.5l4.5-7z" fill="#478c67"/>
<path d="M1300 1274.5l-4.5 7l4.5 13.5l4.5-7z" fill="#43866a"/>
<path d="M1277.5 1475.5l-5 4l4.5 8l5-4.5z" fill="#432e76"/>
<path d="M1273.5 1468.5l-5 4.5l5 8l4.5-4z" fill="#403175"/>
<path d="M1311.5 1254.5l-5 7l5 14l4.5-7.5z" fill="#4a8f66"/>
<path d="M1281 1321l-4.5 5.5l4.5 13.5l4.5-5.5z" fill="#38716f"/>
<path d="M1269.5 1368l-4.5 4.5l4.5 12.5l5-5z" fill="#335c6f"/>
<path d="M1266 1401l-5 4.5l5 11.5l4.5-4z" fill="#324c6e"/>
<path d="M1296 1281l-4.5 6.5l4.5 13.5l5-6.5z" fill="#41836b"/>
<path d="M1266 1441l-5 4.5l5 10l4.5-4z" fill="#363a6d"/>
<path d="M1281 1482l-4.5 4l4.5 7.5l5-4.5z" fill="#432b74"/>
<path d="M1273.5 1347.5l-4.5 5l4.5 12.5l4.5-5z" fill="#356570"/>
<path d="M1269.5 1461.5l-4.5 4l4.5 9l5-4.5z" fill="#3d3474"/>
<path d="M1266 1209l-4.5 8l4-2l4.5-8.5z" fill="#8acd65"/>
<path d="M1270 1202l-4.5 8.5l4-2l4.5-8.5z" fill="#92d061"/>
<path d="M1262 1215.5l-4 8l4-2l4.5-8.5z" fill="#84cb68"/>
<path d="M1315 1247l-4.5 7.5l4.5 14l4.5-8z" fill="#4d9263"/>
<path d="M1292.5 1287l-4.5 6l4.5 14l4.5-6.5z" fill="#3f816c"/>
<path d="M1273.5 1195l-4.5 9l4.5-2.5l4.5-8.5z" fill="#9ad25d"/>
<path d="M1258.5 1221.5l-4.5 8l4-2l4.5-8z" fill="#7ec76b"/>
<path d="M1349 1165l-4 1l4.5 12.5l4-0.5z" fill="#9db944"/>
<path d="M1285 1488l-5 4.5l5 7l4.5-4.5z" fill="#432671"/>
<path d="M1266 1387l-5 4l5 12l4.5-4z" fill="#32546f"/>
<path d="M1334 1226.5l-4.5 8.5l4.5 13.5l4.5-8.5z" fill="#5b9a5b"/>
<path d="M1345.5 1208l-4.5 5.5l4.5 14l4.5-6z" fill="#69a253"/>
<path d="M1277.5 1187.5l-4.5 9.5l4-2.5l4.5-9z" fill="#a3d559"/>
<path d="M1349.5 1189.5l-4.5 2l4 14.5l4.5-2.5z" fill="#7ca84a"/>
<path d="M1254.5 1227.5l-4.5 7.5l4-2l5-7.5z" fill="#79c56e"/>
<path d="M1319 1239l-4.5 8.5l4.5 13.5l4.5-8z" fill="#529560"/>
<path d="M1288.5 1293l-4.5 6l4.5 13.5l4.5-6z" fill="#3e7f6d"/>
<path d="M1266 1453.5l-5 4l5 9.5l4.5-4z" fill="#39366f"/>
<path d="M1187.5 1311.5l-5.5 3l3-7.5l5-3.5z" fill="#4b9b8a"/>
<path d="M1277 1326l-4.5 5.5l4.5 13l5-5z" fill="#376f6f"/>
<path d="M1349.5 1176.5l-4.5 1.5l4.5 13.5l4-1.5z" fill="#8caf45"/>
<path d="M1338 1219l-4.5 8l4.5 13.5l4.5-7.5z" fill="#619d57"/>
<path d="M1342 1213l-5 6.5l4.5 14l4.5-6.5z" fill="#66a055"/>
<path d="M1281 1180l-4.5 9.5l4.5-2.5l4.5-9.5z" fill="#add856"/>
<path d="M1251 1233.5l-4.5 7l4-1.5l4.5-7.5z" fill="#74c270"/>
<path d="M1345.5 1145l-4-1l4 12.5l4 0.5z" fill="#cad44d"/>
<path d="M1269.5 1352l-4.5 5l4.5 13l4.5-5z" fill="#346370"/>
<path d="M1266 1372l-5 4.5l5 12.5l4.5-4.5z" fill="#335a6f"/>
<path d="M1262 1419l-4.5 4l4.5 11l4.5-4z" fill="#32446c"/>
<path d="M1285 1298.5l-5 5.5l5 14l4.5-6z" fill="#3c7c6e"/>
<path d="M1334 1128.5l-4.5-0.5l5 4.5l4.5 0.5z" fill="#f2e755"/>
<path d="M1262 1432l-4.5 4.5l4.5 10.5l4.5-4z" fill="#343f6e"/>
<path d="M1323 1230.5l-5 9l4.5 14l5-9.5z" fill="#58995c"/>
<path d="M1262 1405l-4.5 4l4.5 12l4.5-4.5z" fill="#324b6e"/>
<path d="M1273.5 1479l-5 4l5 8l4.5-4z" fill="#432e76"/>
<path d="M1269.5 1472.5l-4.5 4l4.5 8l5-4z" fill="#413176"/>
<path d="M1247 1239l-4.5 7l4-2l4.5-7z" fill="#70bf73"/>
<path d="M1273.5 1331l-5 5l5 13.5l4.5-5z" fill="#376d6f"/>
<path d="M1262 1445l-5 4l5 10l4.5-4z" fill="#363a6e"/>
<path d="M1277 1485.5l-4.5 4l4.5 7.5l5-4z" fill="#442a74"/>
<path d="M1285 1171.5l-4.5 10.5l4-2.5l4.5-10.5z" fill="#b8db52"/>
<path d="M1281 1304l-4.5 5.5l4.5 13.5l4.5-5.5z" fill="#3b7a6e"/>
<path d="M1266 1465l-5 4l4.5 9l5-4z" fill="#3e3474"/>
<path d="M1262 1391l-4.5 4l4.5 12l4.5-4z" fill="#32536f"/>
<path d="M1300 1256.5l-4.5 7l4.5 13l4.5-7z" fill="#4a8f65"/>
<path d="M1265.5 1356.5l-4.5 5l5 12.5l4.5-4.5z" fill="#346270"/>
<path d="M1243.5 1244.5l-5 6.5l4-1.5l5-7z" fill="#6cbd75"/>
<path d="M1318.5 1127l-4.5 2l5 0.5l5-2z" fill="#f6e755"/>
<path d="M1304 1250l-5 7l5 13l4.5-7z" fill="#4d9263"/>
<path d="M1345.5 1191.5l-4 4.5l4 14l4.5-4.5z" fill="#7ba84a"/>
<path d="M1326.5 1126.5l-4.5 1l5 2.5l4.5-1.5z" fill="#f7e755"/>
<path d="M1296 1263l-4.5 7l4.5 13l5-7z" fill="#488c67"/>
<path d="M1326.5 1222l-4.5 9l4.5 14l4.5-9.5z" fill="#5f9d58"/>
<path d="M1345.5 1154.5l-4 0.5l4 12.5l4.5-0.5z" fill="#adbe45"/>
<path d="M1183.5 1314.5l-5.5 3.5l3-8l5-3z" fill="#4b9a8a"/>
<path d="M1307.5 1243l-4.5 7.5l4.5 13l4.5-7.5z" fill="#529560"/>
<path d="M1262 1457l-5 4l5 9.5l4.5-4z" fill="#3a3670"/>
<path d="M1292.5 1269.5l-5 6.5l5 13l4.5-6.5z" fill="#468a68"/>
<path d="M1341.5 1135.5l-4-0.5l4.5 11l4 1z" fill="#dbd94f"/>
<path d="M1262 1376l-5 4.5l5 12.5l4.5-4.5z" fill="#33596f"/>
<path d="M1277 1309l-4.5 5.5l4.5 13.5l4.5-5.5z" fill="#3a786e"/>
<path d="M1269.5 1336l-4.5 5l4.5 13l4.5-5z" fill="#366b70"/>
<path d="M1338 1131.5l-4.5-0.5l4.5 5.5l4.5 0.5z" fill="#efe654"/>
<path d="M1307.5 1132.5l-4.5 5.5l4.5-2.5l4.5-5.5z" fill="#f0e655"/>
<path d="M1311.5 1235.5l-5 8l5 13l4.5-8z" fill="#57985d"/>
<path d="M1288.5 1162.5l-4.5 10.5l4.5-2.5l4.5-10.5z" fill="#c5de52"/>
<path d="M1288.5 1276l-4.5 6l4.5 13l4.5-6.5z" fill="#448769"/>
<path d="M1258 1422.5l-4.5 4l4.5 11.5l5-4z" fill="#32436c"/>
<path d="M1258 1436l-4.5 4l4.5 10.5l5-4z" fill="#353f6f"/>
<path d="M1239.5 1249.5l-5 6.5l4-1.5l5-7z" fill="#68bb77"/>
<path d="M1258 1409l-4.5 4l4.5 11.5l5-4z" fill="#324a6d"/>
<path d="M1345.5 1165.5l-4 1.5l4 13l4.5-1.5z" fill="#9db743"/>
<path d="M1330.5 1214l-4.5 8.5l4.5 14l4.5-8.5z" fill="#66a055"/>
<path d="M1345.5 1178l-4 2l4 13.5l4.5-2z" fill="#8aad44"/>
<path d="M1342 1195.5l-4.5 5.5l4.5 14l4.5-5.5z" fill="#77a74c"/>
<path d="M1315 1227.5l-4.5 8.5l4.5 13l5-8.5z" fill="#5c9b5a"/>
<path d="M1284.5 1281.5l-4.5 6l5 13l4.5-6z" fill="#42856a"/>
<path d="M1273.5 1314l-5 5.5l5 13.5l4.5-5z" fill="#3a766f"/>
<path d="M1258 1394.5l-4.5 4.5l4.5 12l4.5-4.5z" fill="#32526f"/>
<path d="M1258 1448.5l-4.5 4l4.5 10l5-4z" fill="#37396e"/>
<path d="M1269.5 1482.5l-5 4l5 8l5-4z" fill="#432d76"/>
<path d="M1265.5 1476l-4.5 3.5l4.5 8.5l5-4z" fill="#413177"/>
<path d="M1262 1361l-5 4.5l5 12.5l4.5-4z" fill="#346170"/>
<path d="M1292.5 1155l-4.5 9.5l4.5-2.5l4-9.5z" fill="#d0e052"/>
<path d="M1303.5 1136.5l-4 6.5l4.5-2.5l4.5-7z" fill="#eae554"/>
<path d="M1334.5 1207l-5 7.5l4.5 14l5-8z" fill="#6ca352"/>
<path d="M1338 1201l-4.5 6l4.5 14l4.5-6z" fill="#72a54e"/>
<path d="M1265.5 1340.5l-4.5 5l4.5 13l5-4.5z" fill="#366a70"/>
<path d="M1269.5 1206.5l-4.5 8l4.5 1l4.5-8.5z" fill="#8fcf62"/>
<path d="M1273.5 1489l-5 4l4.5 7.5l5-4z" fill="#432973"/>
<path d="M1273.5 1199.5l-4.5 8.5l4 1l5-8.5z" fill="#97d15e"/>
<path d="M1262 1468.5l-5 4l5 8.5l4.5-4z" fill="#3f3475"/>
<path d="M1266 1213l-5 8l4.5 0.5l4.5-8z" fill="#88cc66"/>
<path d="M1281 1287l-5 6l5 13l4.5-6z" fill="#41836b"/>
<path d="M1235.5 1254.5l-4.5 6.5l3.5-2l5-6.5z" fill="#65b979"/>
<path d="M1277 1192.5l-4.5 9l4.5 0.5l4.5-9z" fill="#9fd45b"/>
<path d="M1262 1219.5l-4.5 7.5l4 1l5-8z" fill="#82c969"/>
<path d="M1319 1219l-4.5 9.5l4.5 12.5l4.5-9z" fill="#639e56"/>
<path d="M1296 1147.5l-4 9l4-2.5l4.5-9z" fill="#dbe253"/>
<path d="M1300 1141.5l-4.5 7.5l4.5-2.5l4.5-7.5z" fill="#e4e454"/>
<path d="M1258 1380l-4.5 4l4.5 12.5l4.5-4z" fill="#33596f"/>
<path d="M1281 1185l-4.5 9.5l4.5 0.5l4.5-9z" fill="#a8d757"/>
<path d="M1342 1144l-4.5 0.5l4.5 12.5l4-1z" fill="#c2c949"/>
<path d="M1179 1318l-5 3l2.5-8l5.5-3z" fill="#4b998a"/>
<path d="M1258 1225.5l-4.5 7.5l4.5 0.5l4.5-7z" fill="#7cc76c"/>
<path d="M1269.5 1319l-4.5 5l4.5 14l4.5-5.5z" fill="#39746f"/>
<path d="M1258 1460.5l-5 4l5 9.5l5-4z" fill="#3a3671"/>
<path d="M1330.5 1127.5l-5 1l5 4.5l4.5-1.5z" fill="#f6e755"/>
<path d="M1277 1292.5l-4.5 6l4.5 12.5l4.5-5.5z" fill="#3f816c"/>
<path d="M1296 1246l-4.5 7l4.5 12l5-7z" fill="#519460"/>
<path d="M1300 1239l-4.5 7.5l4.5 12l4.5-7z" fill="#56975e"/>
<path d="M1292.5 1252.5l-5 7l5 12l4.5-7z" fill="#4d9263"/>
<path d="M1254 1426l-4.5 4l4.5 11.5l5-4z" fill="#33426c"/>
<path d="M1315 1127.5l-4.5 3l5 1l4.5-3z" fill="#f7e755"/>
<path d="M1304 1232l-5 7.5l5 12.5l4.5-7.5z" fill="#5b9a5b"/>
<path d="M1284.5 1177.5l-4.5 9.5l4.5 0.5l4.5-9.5z" fill="#b2da54"/>
<path d="M1254 1412.5l-4.5 4l4.5 11.5l5-4z" fill="#32496d"/>
<path d="M1254.5 1231l-5 7.5l4.5 1l4.5-7.5z" fill="#78c46e"/>
<path d="M1288.5 1259l-4.5 6.5l4.5 12.5l4.5-7z" fill="#4a8f65"/>
<path d="M1231.5 1259.5l-4.5 6l4-1.5l4.5-6.5z" fill="#62b77c"/>
<path d="M1254 1439.5l-4.5 3.5l4.5 11l5-4z" fill="#353f6f"/>
<path d="M1261.5 1345l-4.5 4.5l5 13.5l4.5-4.5z" fill="#356870"/>
<path d="M1342 1180l-4.5 4l4.5 13.5l4.5-4.5z" fill="#89ac45"/>
<path d="M1323 1210.5l-5 9l5 13l4.5-9z" fill="#6aa253"/>
<path d="M1307.5 1224.5l-4.5 8l4.5 12.5l5-8z" fill="#609d58"/>
<path d="M1258 1365l-4.5 4l4.5 13l4.5-4z" fill="#346070"/>
<path d="M1322.5 1127l-4.5 1.5l5 2.5l4.5-2z" fill="#f8e855"/>
<path d="M1284.5 1265l-4.5 6l4.5 12.5l5-6z" fill="#488d66"/>
<path d="M1254 1398.5l-4.5 4l4.5 12l5-4z" fill="#32516f"/>
<path d="M1342 1155l-4.5 1l4.5 12.5l4-1z" fill="#adbc45"/>
<path d="M1273 1298l-4.5 5.5l5 12.5l4.5-5z" fill="#3e7f6d"/>
<path d="M1250.5 1237l-5 6.5l4.5 1l5-7z" fill="#73c171"/>
<path d="M1265.5 1324l-4.5 5l4.5 13.5l4.5-5z" fill="#39736f"/>
<path d="M1254 1452l-4.5 3.5l4.5 10.5l5-4z" fill="#37396f"/>
<path d="M1342 1166.5l-4.5 2.5l4.5 13l4.5-2.5z" fill="#99b341"/>
<path d="M1311.5 1216.5l-5 8.5l5 12.5l4.5-8.5z" fill="#66a055"/>
<path d="M1288.5 1168.5l-4.5 10.5l4.5 0.5l4.5-10.5z" fill="#b6d44e"/>
<path d="M1281 1271l-5 6l5 12l4.5-6z" fill="#478b67"/>
<path d="M1254 1384l-4.5 4l4.5 12.5l5-4z" fill="#33586f"/>
<path d="M1338 1134.5l-4 1l4 11l4.5-0.5z" fill="#d3ce4b"/>
<path d="M1327 1202.5l-5 8.5l4.5 13l5-8.5z" fill="#72a54f"/>
<path d="M1334 1130.5l-4.5 1l5 5.5l4.5-1z" fill="#f3e755"/>
<path d="M1228 1264l-5 6l4-1.5l4.5-6.5z" fill="#5fb57e"/>
<path d="M1338.5 1184l-5 5.5l4.5 13.5l4.5-6z" fill="#85ab46"/>
<path d="M1246.5 1242l-4.5 7l4 1l5-7z" fill="#6fbf73"/>
<path d="M1269.5 1303l-5 5l5 13l4.5-5z" fill="#3c7d6e"/>
<path d="M1277 1276.5l-4.5 5.5l4.5 12.5l4.5-5.5z" fill="#458868"/>
<path d="M1175 1321l-5 2.5l2.5-7.5l5.5-3z" fill="#4b998a"/>
<path d="M1258 1349.5l-5 4l5 13.5l4.5-4.5z" fill="#356770"/>
<path d="M1330.5 1195l-4.5 8l4.5 13l4.5-8z" fill="#79a84b"/>
<path d="M1315.5 1208l-5 9.5l4.5 12l5-9z" fill="#6da451"/>
<path d="M1334.5 1189l-4.5 6.5l4.5 13.5l4.5-6.5z" fill="#80aa48"/>
<path d="M1311.5 1129.5l-5 5.5l5 0.5l4.5-5.5z" fill="#f5e755"/>
<path d="M1250 1429.5l-4.5 4l4.5 11l5-3.5z" fill="#33426d"/>
<path d="M1250 1416l-4.5 4l4.5 11.5l5-3.5z" fill="#32496d"/>
<path d="M1261.5 1328.5l-4.5 5l5 13.5l4.5-5z" fill="#38716f"/>
<path d="M1292.5 1160l-4.5 10.5l4.5 0.5l4.5-10.5z" fill="#c2d74f"/>
<path d="M1273 1207l-4.5 8l4.5 2l5-8.5z" fill="#91cf61"/>
<path d="M1277 1200l-4.5 8.5l4.5 1.5l4.5-8z" fill="#99d25d"/>
<path d="M1254 1369l-4.5 4l4.5 13l4.5-4.5z" fill="#345f70"/>
<path d="M1269.5 1213.5l-5 8l5 2l4.5-8z" fill="#89cd65"/>
<path d="M1292.5 1235l-5 7.5l5 12l4.5-7.5z" fill="#5a9a5b"/>
<path d="M1296 1228.5l-4.5 7l4.5 12.5l5-7.5z" fill="#5f9c59"/>
<path d="M1288.5 1242l-4.5 6.5l4.5 12.5l4.5-7z" fill="#55975e"/>
<path d="M1281 1193l-5 8.5l5 2l4.5-9z" fill="#a1d45a"/>
<path d="M1243 1247.5l-5 6.5l4.5 1l4.5-6.5z" fill="#6bbd75"/>
<path d="M1265.5 1219.5l-4.5 8l4.5 2l4.5-8z" fill="#83ca68"/>
<path d="M1273 1282l-4.5 5.5l4.5 12.5l5-6z" fill="#438669"/>
<path d="M1250 1402l-4.5 4l4.5 12l5-4z" fill="#32506e"/>
<path d="M1300 1221l-5 8l5 12l4.5-7.5z" fill="#649f56"/>
<path d="M1250 1442.5l-4.5 4l4.5 10.5l5-3.5z" fill="#363f70"/>
<path d="M1284.5 1248l-4.5 7l4.5 12l5-6.5z" fill="#519460"/>
<path d="M1224 1268.5l-5 6l4-1.5l5-6z" fill="#5eb37f"/>
<path d="M1338 1144.5l-4 1l4.5 12.5l4-1.5z" fill="#c2c748"/>
<path d="M1284.5 1185.5l-4.5 9l4.5 2l4.5-9.5z" fill="#aad756"/>
<path d="M1265.5 1308l-4.5 5l4.5 13l4.5-5.5z" fill="#3c7b6e"/>
<path d="M1262 1226l-5 7l4.5 2.5l5-7.5z" fill="#7ec76b"/>
<path d="M1304 1214l-5 8l5 12l4.5-8z" fill="#69a253"/>
<path d="M1281 1254.5l-5 6l5 12.5l4.5-6.5z" fill="#4e9263"/>
<path d="M1326.5 1128l-4.5 1.5l5 4.5l4.5-2z" fill="#f8e855"/>
<path d="M1338.5 1168.5l-4.5 4.5l4 13l4.5-4.5z" fill="#96b041"/>
<path d="M1296 1152l-4.5 9.5l4.5 0.5l4.5-9.5z" fill="#d5e153"/>
<path d="M1319 1199.5l-4.5 9l4.5 12.5l5-9.5z" fill="#76a64d"/>
<path d="M1250 1387.5l-4.5 4l4.5 12.5l5-4z" fill="#33576f"/>
<path d="M1307.5 1133.5l-4.5 6.5l4.5 0.5l5-6.5z" fill="#f0e655"/>
<path d="M1319 1127.5l-4.5 3l4.5 2l5-2.5z" fill="#f9e855"/>
<path d="M1288.5 1177.5l-4.5 9.5l4.5 2l4.5-9.5z" fill="#b1d652"/>
<path d="M1269.5 1287l-5 5.5l5 12.5l4.5-5.5z" fill="#42856a"/>
<path d="M1258 1231.5l-5 7l4.5 2.5l5-7z" fill="#79c56d"/>
<path d="M1338.5 1156l-4.5 2l4.5 12.5l4-2z" fill="#a9b843"/>
<path d="M1307.5 1206l-4.5 8.5l4.5 12l5-8.5z" fill="#70a54f"/>
<path d="M1239 1252.5l-5 6l4.5 1.5l5-6.5z" fill="#68bb77"/>
<path d="M1277 1260l-5 6.5l5 12l4.5-6z" fill="#4b9065"/>
<path d="M1254 1353.5l-4.5 4l4.5 13.5l4.5-4z" fill="#356670"/>
<path d="M1257.5 1333l-4.5 4.5l5 14l4.5-5z" fill="#386f6f"/>
<path d="M1300 1144.5l-4.5 9.5l4.5 0l4.5-9z" fill="#e0e353"/>
<path d="M1304 1138.5l-5 7.5l5 0.5l4.5-7.5z" fill="#e9e554"/>
<path d="M1261.5 1312.5l-4.5 5l4.5 13l5-5z" fill="#3b7a6e"/>
<path d="M1323 1191.5l-5 8.5l5 12.5l4.5-8.5z" fill="#7ea949"/>
<path d="M1220 1273l-5 5.5l4-1.5l5-5.5z" fill="#5cb17f"/>
<path d="M1254 1237.5l-4.5 6.5l4.5 2.5l4.5-7z" fill="#75c270"/>
<path d="M1334.5 1172.5l-4.5 6l4.5 12.5l4.5-5.5z" fill="#92af42"/>
<path d="M1250 1372.5l-4.5 4.5l4.5 12.5l5-4z" fill="#335e70"/>
<path d="M1273 1266l-4.5 5.5l4.5 12.5l5-6z" fill="#498e66"/>
<path d="M1292.5 1169l-4.5 10.5l4.5 1.5l4.5-10.5z" fill="#b1cd4b"/>
<path d="M1246 1419.5l-4.5 4l5 11.5l4.5-3.5z" fill="#32486d"/>
<path d="M1265.5 1292l-5 5.5l5 12.5l4.5-5.5z" fill="#41836b"/>
<path d="M1311.5 1197l-5 9.5l5 12l5-9z" fill="#79a74b"/>
<path d="M1246.5 1433l-5 3.5l4.5 11.5l5-3.5z" fill="#34436e"/>
<path d="M1288.5 1225l-5 7l5 12l4.5-7.5z" fill="#629e57"/>
<path d="M1334.5 1135l-4.5 1.5l4.5 11l4.5-1.5z" fill="#d2cc4a"/>
<path d="M1292.5 1218l-5 7.5l5 11.5l4.5-7.5z" fill="#67a154"/>
<path d="M1284.5 1231.5l-4.5 7l4.5 11.5l5-7z" fill="#5e9c59"/>
<path d="M1235 1257l-5 6.5l4.5 1l5-6z" fill="#65b979"/>
<path d="M1246 1406l-4.5 3.5l4.5 12l5-3.5z" fill="#324f6e"/>
<path d="M1327 1184l-5 8l5 12.5l4.5-8z" fill="#86ac45"/>
<path d="M1330.5 1131l-4.5 1.5l5 5.5l4.5-1.5z" fill="#f5e755"/>
<path d="M1330.5 1178l-4.5 6.5l4.5 12.5l5-6.5z" fill="#8dae43"/>
<path d="M1277 1208l-5 8.5l5 3.5l4.5-8z" fill="#8dca5f"/>
<path d="M1296 1211l-4.5 8l4.5 11.5l5-8z" fill="#6da451"/>
<path d="M1186 1308.5l-5.5 3l3-6l5.5-3z" fill="#4fa187"/>
<path d="M1281 1201.5l-5 8l4.5 4l5-8.5z" fill="#92ca5a"/>
<path d="M1280.5 1238l-4.5 7l5 11.5l4.5-7z" fill="#59995b"/>
<path d="M1273 1215l-4.5 7.5l4.5 4l5-8z" fill="#88cb64"/>
<path d="M1250 1242.5l-4.5 7l4.5 2l4.5-6.5z" fill="#71c072"/>
<path d="M1284.5 1194.5l-4.5 8.5l4.5 3.5l5-8.5z" fill="#98c855"/>
<path d="M1269 1271.5l-4.5 5.5l5 12l4.5-5.5z" fill="#488c67"/>
<path d="M1269.5 1221.5l-5 7.5l4.5 3.5l5-7.5z" fill="#83ca69"/>
<path d="M1300 1203.5l-5 8l5 11.5l4.5-8z" fill="#74a64d"/>
<path d="M1254 1337.5l-5 4.5l5 13.5l4.5-4.5z" fill="#376e6f"/>
<path d="M1277 1244l-5 6.5l5 11.5l4.5-6z" fill="#56975e"/>
<path d="M1246 1391.5l-4.5 4l4.5 12.5l5-4z" fill="#33566f"/>
<path d="M1257.5 1317.5l-4.5 4.5l5 13l4.5-5z" fill="#3a786e"/>
<path d="M1288.5 1187l-4.5 9l4.5 3.5l4.5-9z" fill="#9dc750"/>
<path d="M1315.5 1129.5l-5 5.5l5 1.5l4.5-5z" fill="#f7e755"/>
<path d="M1265.5 1227.5l-5 7l5 4l4.5-7.5z" fill="#7dc76b"/>
<path d="M1250 1357l-4.5 4.5l4.5 13l4.5-4z" fill="#356570"/>
<path d="M1334.5 1157.5l-4.5 4.5l4.5 12.5l4.5-4z" fill="#a3b341"/>
<path d="M1296 1160l-4.5 10.5l4.5 1.5l4.5-10z" fill="#bdcf4c"/>
<path d="M1261.5 1297l-4.5 5l4.5 12.5l5-5z" fill="#3f816c"/>
<path d="M1315.5 1188.5l-5 9.5l5 12l4.5-9.5z" fill="#82aa47"/>
<path d="M1334.5 1145.5l-4.5 2l4.5 12l4.5-2z" fill="#bdc246"/>
<path d="M1216 1277l-5 5.5l3.5-1.5l5.5-5.5z" fill="#5bb080"/>
<path d="M1304 1195.5l-5 9l5 11.5l4.5-9z" fill="#7ba84a"/>
<path d="M1273 1250l-4.5 6l4.5 12l5-6.5z" fill="#529560"/>
<path d="M1246.5 1248l-5 6.5l4.5 2l5-6.5z" fill="#6dbe74"/>
<path d="M1231 1262l-5 6l4.5 1l5-6z" fill="#62b77b"/>
<path d="M1323 1129l-5 2.5l5 4l5-2.5z" fill="#f9e855"/>
<path d="M1265.5 1276.5l-5 5.5l5 12l4.5-5.5z" fill="#468a68"/>
<path d="M1292.5 1179l-5 9.5l5 3.5l4.5-9.5z" fill="#a3c54b"/>
<path d="M1261.5 1233.5l-4.5 6.5l4.5 4l5-7z" fill="#79c56e"/>
<path d="M1246 1376.5l-4.5 4l4.5 13l5-4z" fill="#335d70"/>
<path d="M1284.5 1215.5l-4.5 7.5l4.5 10.5l5-7z" fill="#6ba352"/>
<path d="M1288.5 1209l-5 7.5l5 10.5l4.5-7.5z" fill="#71a54f"/>
<path d="M1280.5 1222.5l-4.5 7l5 10.5l4.5-7z" fill="#66a155"/>
<path d="M1269 1255.5l-4.5 6l4.5 12l5-6z" fill="#4f9362"/>
<path d="M1280.5 1211.5l-4.5 7.5l4.5 5.5l5-8z" fill="#81bc5a"/>
<path d="M1300 1152l-4.5 10l4.5 1.5l4.5-9.5z" fill="#d5df52"/>
<path d="M1284.5 1204.5l-4.5 8l4.5 5l5-8z" fill="#87bc56"/>
<path d="M1277 1218l-5 7.5l5 5.5l4.5-8z" fill="#7cbd5f"/>
<path d="M1311.5 1133.5l-4.5 6.5l4.5 2l5-7z" fill="#f2e655"/>
<path d="M1319 1180.5l-4.5 8.5l4.5 12.5l5-8.5z" fill="#8bad44"/>
<path d="M1292.5 1202l-5 7.5l5 10.5l4.5-7.5z" fill="#78a74b"/>
<path d="M1277 1229l-5 6.5l5 10.5l4.5-6.5z" fill="#629e57"/>
<path d="M1331 1162l-5 5.5l4.5 12.5l5-6z" fill="#9fb241"/>
<path d="M1257.5 1239l-4.5 6.5l4.5 4l5-7z" fill="#74c270"/>
<path d="M1288.5 1197.5l-5 8.5l5 5l4.5-8.5z" fill="#8cbb51"/>
<path d="M1307.5 1187l-4.5 9.5l4.5 11.5l5-9.5z" fill="#84ab46"/>
<path d="M1242 1423l-4.5 3.5l4.5 12l5-3.5z" fill="#32486d"/>
<path d="M1273 1224.5l-5 7.5l5 5l5-7.5z" fill="#79bd63"/>
<path d="M1253.5 1322l-4.5 4.5l5 13l4.5-5z" fill="#3a766f"/>
<path d="M1257.5 1302l-4.5 5l4.5 12.5l5-5.5z" fill="#3e806d"/>
<path d="M1242.5 1253l-5 6l4.5 2.5l5-6.5z" fill="#69bc76"/>
<path d="M1242 1409l-4.5 4l4.5 12l5-3.5z" fill="#324f6e"/>
<path d="M1296 1170l-4.5 10.5l4.5 3.5l5-10.5z" fill="#a4be45"/>
<path d="M1261.5 1281.5l-5 5.5l5 12l4.5-5z" fill="#458869"/>
<path d="M1296 1194.5l-4.5 8l4.5 10.5l5-8z" fill="#7fa948"/>
<path d="M1250 1341.5l-5 4l5 13.5l4.5-4z" fill="#376d6f"/>
<path d="M1273 1235l-5 6.5l5 10.5l5-6.5z" fill="#5e9c59"/>
<path d="M1182 1311.5l-5.5 3.5l3-6.5l5.5-3z" fill="#4fa088"/>
<path d="M1292.5 1190l-5 8.5l5 5.5l4.5-9z" fill="#91ba4c"/>
<path d="M1304 1144.5l-5 9.5l5 1.5l4.5-9z" fill="#e1e353"/>
<path d="M1269 1230.5l-4.5 7l4.5 5.5l5-7z" fill="#76be68"/>
<path d="M1307.5 1138.5l-4.5 8l4.5 1.5l5-7.5z" fill="#ebe554"/>
<path d="M1227 1266.5l-5 6l4.5 1l5-6z" fill="#60b57d"/>
<path d="M1323 1173l-4.5 8l4.5 12.5l5-8z" fill="#93af41"/>
<path d="M1327 1167l-4.5 6.5l4.5 12.5l4.5-6.5z" fill="#9ab140"/>
<path d="M1265.5 1261l-5 6l5 11.5l4.5-5.5z" fill="#4c9164"/>
<path d="M1246 1361l-4.5 4l4.5 13.5l5-4z" fill="#346470"/>
<path d="M1242 1395l-4.5 3.5l4.5 12.5l5-3.5z" fill="#33566f"/>
<path d="M1254 1244.5l-5 6.5l4.5 3.5l5-6.5z" fill="#70c072"/>
<path d="M1212 1281l-5 5.5l3.5-2l5.5-5z" fill="#5aaf81"/>
<path d="M1331 1136l-4.5 2l4.5 11.5l4-2.5z" fill="#cdc648"/>
<path d="M1300 1186.5l-5 8.5l5 10.5l5-8.5z" fill="#87ac45"/>
<path d="M1269 1241l-4.5 6l4.5 10.5l5-6z" fill="#5a9a5b"/>
<path d="M1327 1132l-5 2.5l5 5.5l4.5-2.5z" fill="#f6e755"/>
<path d="M1296 1182l-4.5 9.5l4.5 5l5-9.5z" fill="#96b948"/>
<path d="M1265.5 1236.5l-5 6.5l4.5 5.5l5-7z" fill="#74bf6d"/>
<path d="M1331 1147.5l-5 4l5 12.5l4.5-4.5z" fill="#b0b542"/>
<path d="M1311.5 1178l-5 9.5l5 11.5l5-9.5z" fill="#8eae43"/>
<path d="M1319 1130.5l-4.5 5.5l5 3.5l4.5-5z" fill="#f7e755"/>
<path d="M1238.5 1258l-5 6l4.5 2l5-6z" fill="#66ba78"/>
<path d="M1257.5 1286.5l-4.5 5l4.5 12.5l5-5.5z" fill="#448769"/>
<path d="M1300 1161.5l-4.5 10.5l4.5 3l4.5-10z" fill="#afc046"/>
<path d="M1253.5 1306.5l-4.5 5l4.5 12.5l5-5z" fill="#3d7e6d"/>
<path d="M1261.5 1266.5l-5 5.5l5 11.5l4.5-5.5z" fill="#4a8f65"/>
<path d="M1242 1380l-4.5 4l4.5 13l5-4z" fill="#335c6f"/>
<path d="M1265 1246.5l-4.5 6l5 10.5l4.5-6z" fill="#57985d"/>
<path d="M1250 1326l-5 4.5l5 13l4.5-4.5z" fill="#39756f"/>
<path d="M1261.5 1242l-5 6.5l5 5.5l4.5-6.5z" fill="#71bf70"/>
<path d="M1250 1249.5l-5 6.5l4.5 4l5-6.5z" fill="#6dbd75"/>
<path d="M1304 1177.5l-5 10l5 10l4.5-9.5z" fill="#90ae42"/>
<path d="M1223 1271l-5 5.5l4.5 1.5l5-6z" fill="#5eb47e"/>
<path d="M1300 1173l-5 10.5l5 5l4.5-10.5z" fill="#98b341"/>
<path d="M1246 1345.5l-5 4l5 13.5l4.5-4z" fill="#376c70"/>
<path d="M1315.5 1170l-5 9l5 11.5l4.5-8.5z" fill="#97b040"/>
<path d="M1327 1151.5l-4.5 5.5l4.5 12l4.5-5.5z" fill="#abb441"/>
<path d="M1304 1153.5l-5 9.5l5 3.5l4.5-9.5z" fill="#c4cd4b"/>
<path d="M1261.5 1252l-5 6l5 10.5l4.5-6z" fill="#54965f"/>
<path d="M1315.5 1134.5l-5 6.5l5 4l4.5-6.5z" fill="#f1e655"/>
<path d="M1257.5 1247.5l-5 6.5l5 5l5-6z" fill="#6ebe74"/>
<path d="M1257.5 1271.5l-5 5.5l5 11.5l5-5.5z" fill="#498d66"/>
<path d="M1234.5 1262.5l-5 6l4.5 2.5l5-6z" fill="#64b87a"/>
<path d="M1238 1412.5l-4.5 3.5l4.5 12l5-3.5z" fill="#324e6e"/>
<path d="M1253.5 1291.5l-4.5 5l4.5 12l5-5z" fill="#42856a"/>
<path d="M1242 1364.5l-4.5 4l4.5 13.5l5-4z" fill="#346370"/>
<path d="M1208 1284.5l-5 5.5l3.5-1.5l5.5-5.5z" fill="#59ae81"/>
<path d="M1178 1315l-6 2.5l3-6l5.5-3z" fill="#4f9f88"/>
<path d="M1246 1254.5l-5 6l5 4l4.5-6z" fill="#69bb77"/>
<path d="M1319.5 1162.5l-5 8.5l4.5 11.5l5-8z" fill="#9fb241"/>
<path d="M1323 1156.5l-4.5 6.5l4.5 12l5-6.5z" fill="#a6b341"/>
<path d="M1249.5 1311l-4.5 4.5l5 12.5l4.5-4.5z" fill="#3c7d6e"/>
<path d="M1327 1138l-4.5 4.5l4.5 11l4.5-4.5z" fill="#bcb743"/>
<path d="M1238 1398.5l-4.5 3.5l4.5 12.5l5-3.5z" fill="#32556f"/>
<path d="M1307.5 1146l-4.5 9l4.5 3.5l5-9z" fill="#d0d14c"/>
<path d="M1307.5 1169l-4.5 9.5l4.5 10.5l5-9.5z" fill="#9ab140"/>
<path d="M1323 1133.5l-4.5 5l4.5 5.5l5-5z" fill="#f4e755"/>
<path d="M1311.5 1140l-4.5 7.5l4.5 3.5l5-7.5z" fill="#ebe554"/>
<path d="M1304 1164.5l-5 10l5 5l4.5-10z" fill="#a3b542"/>
<path d="M1257.5 1257l-5 6l5 10.5l5-5.5z" fill="#519461"/>
<path d="M1253.5 1252.5l-5 6.5l5 5.5l5-6.5z" fill="#6abc76"/>
<path d="M1246 1330l-5 4.5l5 13l4.5-4.5z" fill="#39746f"/>
<path d="M1219 1275l-5 5.5l4.5 1l5-5z" fill="#5db27f"/>
<path d="M1238 1383.5l-4.5 4l4.5 13l5-4z" fill="#335c6f"/>
<path d="M1253.5 1276.5l-4.5 5l4.5 12l5-5.5z" fill="#488c67"/>
<path d="M1230.5 1267l-5 6l4.5 2.5l5-6z" fill="#61b67c"/>
<path d="M1242 1259.5l-5 6l5 4l5-6z" fill="#66b979"/>
<path d="M1249.5 1296l-4.5 5l4.5 12l5-5z" fill="#41846b"/>
<path d="M1311.5 1161l-5 8.5l5 10.5l5-8.5z" fill="#a3b341"/>
<path d="M1323 1142l-4.5 5.5l4.5 11l5-5.5z" fill="#b8b742"/>
<path d="M1242 1349l-5 4l5 13.5l4.5-4z" fill="#366b70"/>
<path d="M1307.5 1156.5l-4.5 9.5l4.5 5l5-9.5z" fill="#b5c146"/>
<path d="M1319.5 1137.5l-5 6.5l5 5l4.5-6z" fill="#ede454"/>
<path d="M1253.5 1262.5l-5 5l5 11l5-5.5z" fill="#4e9263"/>
<path d="M1250 1258l-5 5.5l4.5 5.5l5-5.5z" fill="#67ba78"/>
<path d="M1246 1315.5l-5 4l5 12.5l4.5-4z" fill="#3c7b6e"/>
<path d="M1204 1288.5l-5 5l3.5-1.5l5-5z" fill="#58ad82"/>
<path d="M1315.5 1153.5l-5 8l5 10.5l5-8z" fill="#abb441"/>
<path d="M1319.5 1147l-5 7l5 10.5l4.5-6.5z" fill="#b3b642"/>
<path d="M1311.5 1149l-4.5 9l4.5 5l5-9z" fill="#c0c447"/>
<path d="M1238 1368.5l-5 4l5 13l5-3.5z" fill="#346370"/>
<path d="M1315.5 1143l-5 7l5 5.5l5-7.5z" fill="#ddda50"/>
<path d="M1249.5 1281l-4.5 5.5l4.5 11.5l5-5z" fill="#468a68"/>
<path d="M1238 1264l-5 6l5 4l5-6z" fill="#63b87b"/>
<path d="M1226.5 1271.5l-5 5.5l4.5 2.5l5-5.5z" fill="#5fb57e"/>
<path d="M1234 1401.5l-4.5 3.5l4.5 12.5l5-3z" fill="#32556f"/>
<path d="M1215 1279l-5 5l4.5 1.5l5-5z" fill="#5cb180"/>
<path d="M1242 1334l-5 4l5 13l4.5-4z" fill="#39736f"/>
<path d="M1245.5 1300.5l-4.5 4.5l5 12.5l4.5-5z" fill="#40826b"/>
<path d="M1249.5 1267l-4.5 5.5l4.5 10.5l5-5z" fill="#4c9164"/>
<path d="M1246 1262.5l-5 6l4.5 5.5l5-6z" fill="#64b87a"/>
<path d="M1234 1387l-5 3.5l5 13l5-3.5z" fill="#335b6f"/>
<path d="M1238 1353l-5 3.5l5 14l4.5-4z" fill="#366a70"/>
<path d="M1245.5 1286l-4.5 5l4.5 11.5l5-5z" fill="#458968"/>
<path d="M1242 1319.5l-5 4l5 12.5l4.5-4z" fill="#3b7a6e"/>
<path d="M1234 1269l-5 5.5l5 4l5-5.5z" fill="#61b67d"/>
<path d="M1200 1292l-5.5 5l3.5-1.5l5.5-5z" fill="#58ac82"/>
<path d="M1245.5 1272l-4.5 5l4.5 11l5-5.5z" fill="#4a8f65"/>
<path d="M1242 1267.5l-5 5.5l4.5 5.5l5-5.5z" fill="#61b67c"/>
<path d="M1234 1372l-5 3.5l5 13.5l5-3.5z" fill="#346270"/>
<path d="M1222.5 1276l-5 5l4.5 2.5l5-5z" fill="#5db37f"/>
<path d="M1241.5 1305l-4.5 4l5 12.5l4.5-4.5z" fill="#3f816c"/>
<path d="M1185 1306.5l-6 3.5l3-4.5l6-3.5z" fill="#53a585"/>
<path d="M1211 1282.5l-5 5l4 1.5l5.5-5z" fill="#5bb080"/>
<path d="M1238 1338l-5 4l5 13l4.5-4z" fill="#38726f"/>
<path d="M1241.5 1290.5l-4.5 4.5l4.5 12l5-5z" fill="#448769"/>
<path d="M1230 1273.5l-5 5l5 4.5l5-5.5z" fill="#5eb47e"/>
<path d="M1241.5 1276.5l-4.5 5l4.5 11l5-5z" fill="#498e66"/>
<path d="M1234 1356.5l-5 4l5 13.5l4.5-4z" fill="#366970"/>
<path d="M1237.5 1323l-4.5 4.5l5 12.5l4.5-4.5z" fill="#3b796e"/>
<path d="M1238 1272l-5 5.5l4.5 5.5l5-5.5z" fill="#5fb57e"/>
<path d="M1230 1390.5l-5 3.5l5 13l5-3.5z" fill="#335b6f"/>
<path d="M1196 1295.5l-5.5 5l3.5-2l5.5-4.5z" fill="#57ab82"/>
<path d="M1218.5 1280l-5 4.5l4.5 2.5l5-4.5z" fill="#5cb27f"/>
<path d="M1237.5 1309l-4.5 4l4.5 12l5-4z" fill="#3f806c"/>
<path d="M1230 1375.5l-5 3.5l5 13.5l4.5-3.5z" fill="#346170"/>
<path d="M1207 1286.5l-5 5l4 1l5.5-4.5z" fill="#5aaf81"/>
<path d="M1234 1341.5l-5 4l5 13l4.5-4z" fill="#38716f"/>
<path d="M1237.5 1294.5l-4.5 4.5l4.5 12l5-4.5z" fill="#438669"/>
<path d="M1237.5 1281l-4.5 5l4.5 10.5l5-4.5z" fill="#488c67"/>
<path d="M1226 1277.5l-5 5l5 4.5l5-5z" fill="#5db37f"/>
<path d="M1181 1310l-6 3l2.5-4.5l6-3z" fill="#52a585"/>
<path d="M1234 1276.5l-5 5.5l4.5 5.5l5-5.5z" fill="#5db37f"/>
<path d="M1233.5 1327l-4.5 4l5 12.5l4.5-4z" fill="#3b786e"/>
<path d="M1230 1360l-5 3.5l5 14l4.5-4z" fill="#366970"/>
<path d="M1214.5 1283.5l-5 5l4.5 2.5l5-5z" fill="#5cb180"/>
<path d="M1233.5 1312.5l-4.5 4l4.5 12.5l5-4z" fill="#3e7f6d"/>
<path d="M1192 1299l-5.5 4.5l3-1.5l6-4.5z" fill="#56aa83"/>
<path d="M1233.5 1298.5l-4.5 4.5l4.5 11.5l5-4z" fill="#42856a"/>
<path d="M1203 1290l-5.5 5l4.5 1l5-4.5z" fill="#59ae81"/>
<path d="M1233.5 1285.5l-4.5 4.5l4.5 10.5l5-4z" fill="#478b67"/>
<path d="M1230 1281l-5 5l4.5 5.5l5-5z" fill="#5cb27f"/>
<path d="M1222 1281.5l-5 5l4.5 4l5.5-4.5z" fill="#5cb27f"/>
<path d="M1229.5 1345l-4.5 4l5 13l4.5-4z" fill="#38706f"/>
<path d="M1226 1378.5l-5 3.5l5 13.5l4.5-3.5z" fill="#346170"/>
<path d="M1229.5 1330.5l-4.5 4l4.5 12.5l5-4z" fill="#3a786f"/>
<path d="M1210.5 1287l-5 5l4 2.5l5.5-5z" fill="#5bb080"/>
<path d="M1225.5 1363.5l-4.5 3.5l5 13.5l4.5-3.5z" fill="#356870"/>
<path d="M1229.5 1316.5l-5 4l5 12l5-4z" fill="#3d7e6d"/>
<path d="M1229.5 1289.5l-5 4l5 11l5-4z" fill="#478b68"/>
<path d="M1229.5 1302.5l-5 4l5 12l5-4.5z" fill="#42846a"/>
<path d="M1226 1285l-5.5 4.5l5 5.5l5-4.5z" fill="#5bb080"/>
<path d="M1188 1302l-6 4.5l3.5-1.5l5.5-4.5z" fill="#56a983"/>
<path d="M1199 1293.5l-5.5 4.5l4 1.5l5.5-4.5z" fill="#59ad81"/>
<path d="M1218 1285l-5 5l4.5 4.5l5-5z" fill="#5bb180"/>
<path d="M1225.5 1348.5l-5 4l5 13l5-4z" fill="#38706f"/>
<path d="M1225.5 1334.5l-5 3.5l5 12.5l5-3.5z" fill="#3a776f"/>
<path d="M1206.5 1290.5l-5.5 5l4.5 2.5l5.5-4.5z" fill="#5aaf81"/>
<path d="M1225.5 1320l-5 4l5 12.5l5-4z" fill="#3d7e6e"/>
<path d="M1225.5 1293l-5 4.5l5 10.5l5-4z" fill="#468b69"/>
<path d="M1225.5 1306l-5 4.5l5 11.5l5-4z" fill="#41846b"/>
<path d="M1222 1288.5l-5.5 4.5l5 6l5-4.5z" fill="#5aaf80"/>
<path d="M1221.5 1366.5l-5 3.5l5 14l5-3.5z" fill="#356870"/>
<path d="M1214 1289l-5 4.5l4.5 4.5l5-5z" fill="#5baf80"/>
<path d="M1194.5 1297l-5 4.5l4 1.5l5.5-4.5z" fill="#58ac82"/>
<path d="M1183.5 1305.5l-5.5 4l3-2l6-4z" fill="#56a983"/>
<path d="M1221.5 1352l-5 3.5l5 13l5-3.5z" fill="#376f6f"/>
<path d="M1221.5 1338l-5 3.5l5 12.5l5-3.5z" fill="#3a766f"/>
<path d="M1202 1294l-5 5l4.5 2.5l5-4.5z" fill="#59ae81"/>
<path d="M1221.5 1323.5l-5 4l5 12.5l5-4z" fill="#3c7d6e"/>
<path d="M1221.5 1297l-5 4l5 11l5-4z" fill="#468a6a"/>
<path d="M1217.5 1292.5l-5 4.5l4.5 5.5l5.5-4.5z" fill="#5aae81"/>
<path d="M1221.5 1310l-5 4l5 11.5l5-4z" fill="#41846c"/>
<path d="M1210 1292.5l-5.5 4.5l5 4.5l5-4.5z" fill="#5aaf81"/>
<path d="M1190.5 1300l-5.5 4.5l4 1.5l5.5-4.5z" fill="#58ac82"/>
<path d="M1217.5 1355.5l-5 3l5 13l4.5-3z" fill="#376f6f"/>
<path d="M1217.5 1341l-5 3.5l5 13l4.5-4z" fill="#3a766f"/>
<path d="M1217.5 1300.5l-5 4l4.5 11l5-4z" fill="#468a6b"/>
<path d="M1198 1297.5l-5.5 4.5l4.5 3l5.5-4.5z" fill="#59ad81"/>
<path d="M1217 1327l-4.5 4l5 12l4.5-3.5z" fill="#3c7c6e"/>
<path d="M1213.5 1296l-5 4.5l4.5 5.5l5.5-4.5z" fill="#59ad81"/>
<path d="M1217 1313.5l-4.5 4l4.5 11.5l5-3.5z" fill="#41846d"/>
<path d="M1205.5 1296l-5 4.5l4.5 4.5l5.5-4.5z" fill="#59ae81"/>
<path d="M1186 1303l-5 4.5l4 1.5l5.5-4.5z" fill="#57ab82"/>
<path d="M1213 1304l-5 4l5 11l5-4z" fill="#468a6c"/>
<path d="M1209.5 1299.5l-5.5 4l5 6l5-4z" fill="#58ac82"/>
<path d="M1213 1344.5l-5 3l5 13l5-3.5z" fill="#39756f"/>
<path d="M1194 1301l-5.5 4l4.5 3l5-4.5z" fill="#58ac82"/>
<path d="M1213 1330.5l-5 3.5l5 12.5l5-3.5z" fill="#3c7c6e"/>
<path d="M1213 1317l-5 3.5l5 12l5-3.5z" fill="#41846e"/>
<path d="M1201.5 1299.5l-5.5 4l5 4.5l5-4z" fill="#59ad82"/>
<path d="M1209 1307.5l-5 4l5 11l5-4z" fill="#468b6d"/>
<path d="M1205 1303l-5 4l4.5 6l5.5-4z" fill="#58ac82"/>
<path d="M1209 1320.5l-5 3.5l5 11.5l5-3.5z" fill="#41856f"/>
<path d="M1189.5 1304l-5.5 4l4.5 3l5.5-4.5z" fill="#58ac82"/>
<path d="M1209 1333.5l-5 3.5l5 12.5l5-3.5z" fill="#3c7b6e"/>
<path d="M1197.5 1303l-5.5 4l4.5 4.5l5.5-4.5z" fill="#58ac82"/>
<path d="M1204.5 1311l-5 3.5l5 11l5-3.5z" fill="#468b6e"/>
<path d="M1201 1306l-5.5 4l5 6l5-4z" fill="#57ab82"/>
<path d="M1204.5 1323.5l-5 3.5l5 11.5l5-3z" fill="#428670"/>
<path d="M1193 1306l-5.5 3.5l4.5 4.5l5.5-3.5z" fill="#58ac82"/>
<path d="M1200.5 1314l-5 3.5l5 11l5-3.5z" fill="#468c6f"/>
<path d="M1196.5 1309.5l-5 3.5l4.5 6l5.5-3.5z" fill="#57aa83"/>
</g>
<use href="#surf2" filter="url(#bl)" mask="url(#sm2)"/>
<text transform="translate(1072.9 1405.7) rotate(-31)" font-size="20" text-anchor="middle" dominant-baseline="central" font-family="DejaVu Sans, Verdana, sans-serif" fill="#444">−4</text>
<text transform="translate(1094.0 1423.4) rotate(-31)" font-size="20" text-anchor="middle" dominant-baseline="central" font-family="DejaVu Sans, Verdana, sans-serif" fill="#444">−3</text>
<text transform="translate(1115.0 1441.0) rotate(-31)" font-size="20" text-anchor="middle" dominant-baseline="central" font-family="DejaVu Sans, Verdana, sans-serif" fill="#444">−2</text>
<text transform="translate(1136.9 1460.4) rotate(-31)" font-size="20" text-anchor="middle" dominant-baseline="central" font-family="DejaVu Sans, Verdana, sans-serif" fill="#444">−1</text>
<text transform="translate(1157.0 1482.3) rotate(-31)" font-size="20" text-anchor="middle" dominant-baseline="central" font-family="DejaVu Sans, Verdana, sans-serif" fill="#444">0</text>
<text transform="translate(1528.5 1406.5) rotate(33)" font-size="20" text-anchor="middle" dominant-baseline="central" font-family="DejaVu Sans, Verdana, sans-serif" fill="#444">−4</text>
<text transform="translate(1509.5 1424.5) rotate(33)" font-size="20" text-anchor="middle" dominant-baseline="central" font-family="DejaVu Sans, Verdana, sans-serif" fill="#444">−3</text>
<text transform="translate(1489.0 1443.0) rotate(33)" font-size="20" text-anchor="middle" dominant-baseline="central" font-family="DejaVu Sans, Verdana, sans-serif" fill="#444">−2</text>
<text transform="translate(1466.0 1462.5) rotate(33)" font-size="20" text-anchor="middle" dominant-baseline="central" font-family="DejaVu Sans, Verdana, sans-serif" fill="#444">−1</text>
<text transform="translate(1442.4 1482.5) rotate(33)" font-size="20" text-anchor="middle" dominant-baseline="central" font-family="DejaVu Sans, Verdana, sans-serif" fill="#444">0</text>
<text transform="translate(1019.9 1159.9) rotate(-25)" font-size="20" text-anchor="middle" dominant-baseline="central" font-family="DejaVu Sans, Verdana, sans-serif" fill="#444">2</text>
<text transform="translate(1033.7 1232.2) rotate(-25)" font-size="20" text-anchor="middle" dominant-baseline="central" font-family="DejaVu Sans, Verdana, sans-serif" fill="#444">1.5</text>
<text transform="translate(1046.8 1298.0) rotate(-25)" font-size="20" text-anchor="middle" dominant-baseline="central" font-family="DejaVu Sans, Verdana, sans-serif" fill="#444">1</text>
<text transform="translate(1057.8 1356.1) rotate(-25)" font-size="20" text-anchor="middle" dominant-baseline="central" font-family="DejaVu Sans, Verdana, sans-serif" fill="#444">0.5</text>
<text transform="translate(981.5 1316.0) rotate(76)" font-size="23.5" text-anchor="middle" dominant-baseline="central" font-family="DejaVu Sans, Verdana, sans-serif" fill="#444">Information</text>
<defs><linearGradient id="vg" x1="0" y1="0" x2="0" y2="1"><stop offset="0.000" stop-color="#f9e855"/><stop offset="0.111" stop-color="#bddd51"/><stop offset="0.222" stop-color="#86cc67"/><stop offset="0.333" stop-color="#5fb47e"/><stop offset="0.444" stop-color="#4c9c8a"/><stop offset="0.556" stop-color="#43808c"/><stop offset="0.667" stop-color="#3f678b"/><stop offset="0.778" stop-color="#404985"/><stop offset="0.889" stop-color="#442a74"/><stop offset="1.000" stop-color="#3e0751"/></linearGradient></defs>
<rect x="2066.6" y="892.5" width="40" height="357" fill="url(#vg)" stroke="#444" stroke-width="2"/>
</svg>
<div class="bar"><span>Item_1</span></div>
<div class="sel" style="top:798px;height:57px"></div><div class="caret" style="top:821px"></div>
<div class="sel" style="top:922px;height:58px"></div><div class="caret" style="top:946px"></div>
<div class="lbl" style="left:-117.5px;top:1013.6px">Grid resolution (step)</div>
<div class="sel" style="top:1047px;height:51px;box-shadow:inset 0 2px 2px rgba(0,0,0,.075)"></div>
<div class="btn">Update</div>
<div class="tabline"></div>
<div class="tab act">Surface / Heatmap</div>
<div class="tab lnk" style="left:769.5px">SE Surface</div>
<div class="tab lnk" style="left:956.5px">Item Info</div>
<div class="tab lnk" style="left:1114.5px">Interpretation</div>
</body></html>
